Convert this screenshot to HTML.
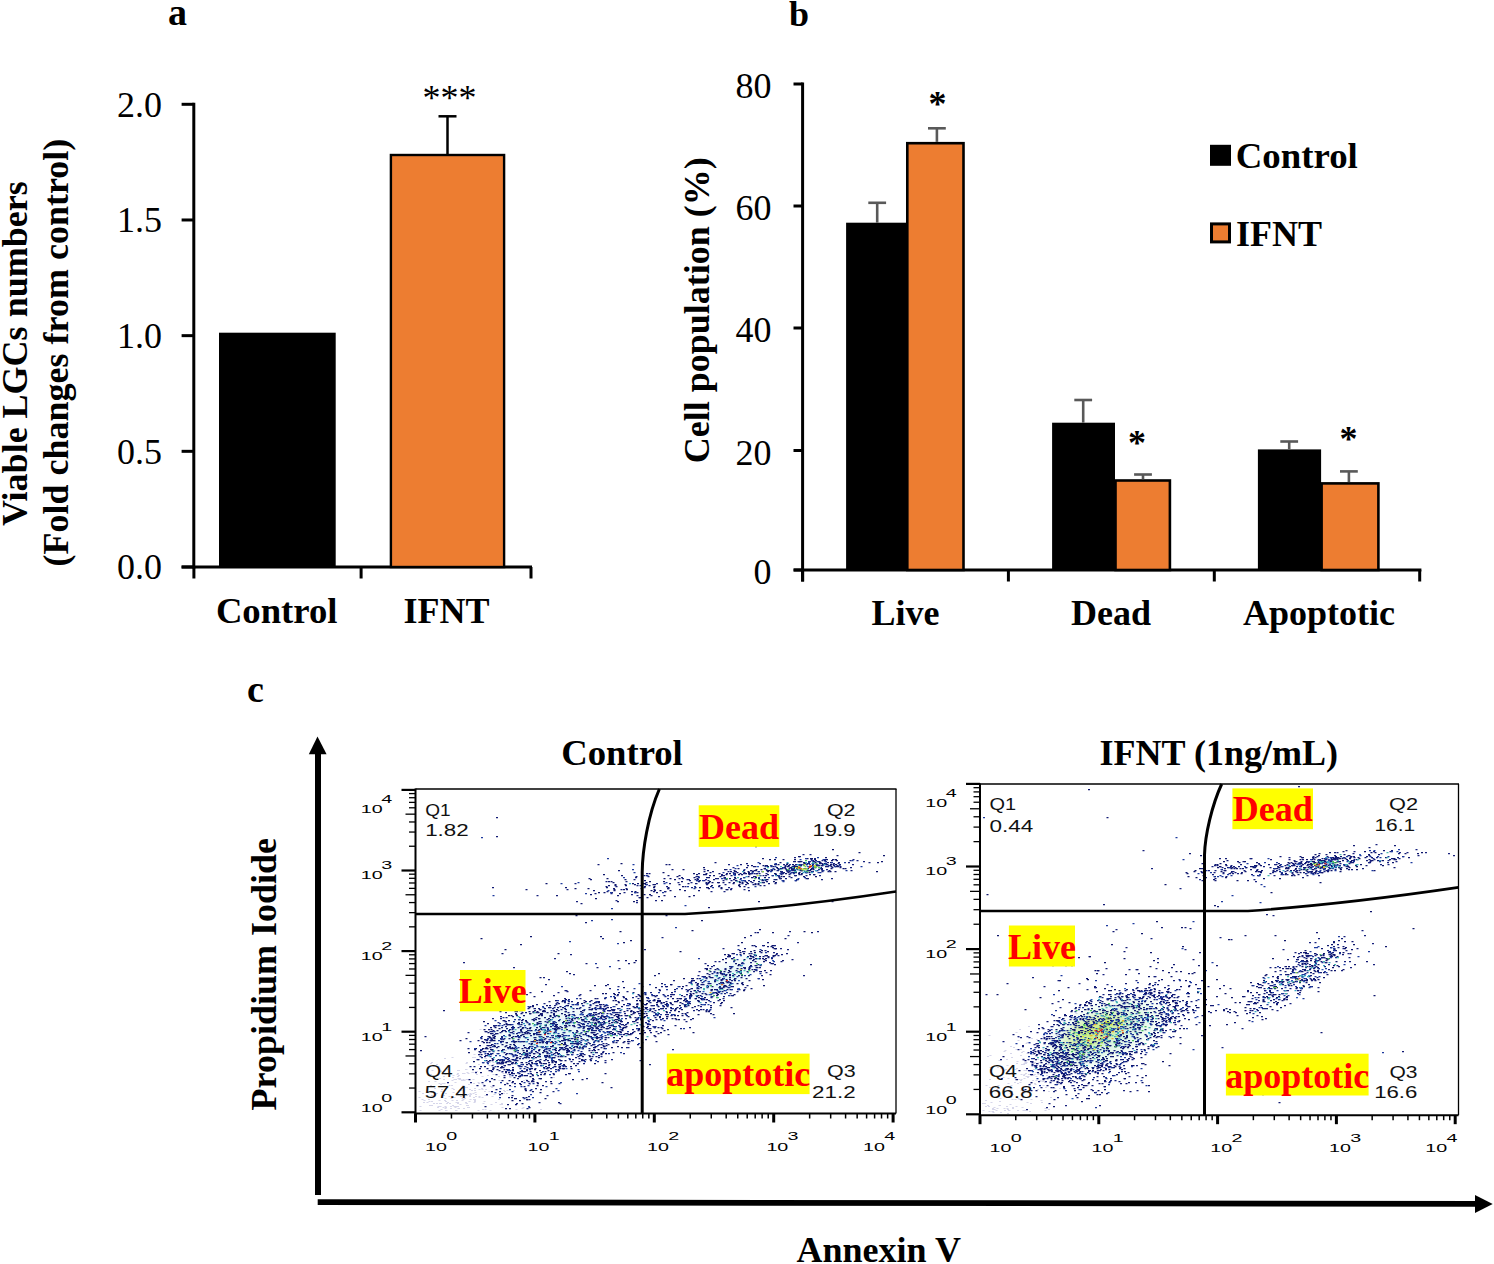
<!DOCTYPE html>
<html><head><meta charset="utf-8"><style>
html,body{margin:0;padding:0;background:#fff;width:1494px;height:1264px;overflow:hidden}
svg{display:block}
text{white-space:pre}
</style></head><body><svg width="1494" height="1264" viewBox="0 0 1494 1264"><path d="M449 1103.5h2M430 1085.5h2M462.5 1085.5h2M484 1091.5h2M502.5 1073.5h2M475 1094.5h2M457.5 1108.5h2M444.5 1074.5h2M486.5 1049.5h2M522 1097.5h2M478 1083.5h2M436 1103.5h2M437.5 1066.5h2M522.5 1107.5h2M478.5 1097.5h2M418.5 1091.5h2M466.5 1079.5h2M436 1093.5h2M451 1085.5h2M454.5 1082.5h2M445.5 1068.5h2M490.5 1104.5h2M468 1084.5h2M453 1089.5h2M482.5 1084.5h2M487 1038.5h2M423 1102.5h2M461.5 1080.5h2M440 1084.5h2M465 1087.5h2M429 1074.5h2M473 1099.5h2M466.5 1072.5h2M458 1070.5h2M436.5 1075.5h2M459 1089.5h2M440 1103.5h2M428 1081.5h2M472 1057.5h2M440.5 1109.5h2M501 1060.5h2M495 1102.5h2M476 1071.5h2M435.5 1079.5h2M472.5 1093.5h2M474 1100.5h2M466 1103.5h2M498 1076.5h2M431.5 1070.5h2M488.5 1062.5h2M433 1066.5h2M458 1075.5h2M443 1076.5h2M508.5 1053.5h2M488.5 1091.5h2M533.5 1026.5h2M485 1058.5h2M498 1099.5h2M453.5 1097.5h2M469.5 1093.5h2M515.5 1109.5h2M460 1096.5h2M476 1085.5h2M465.5 1063.5h2M488 1080.5h2M457 1073.5h2M463.5 1073.5h2M475 1071.5h2M473 1083.5h2M443.5 1083.5h2M499 1095.5h2M427.5 1068.5h2M434 1088.5h2M498.5 1080.5h2M463 1108.5h2M445 1110.5h2M484.5 1095.5h2M434.5 1066.5h2M431.5 1086.5h2M487 1075.5h2M430 1063.5h2M459 1078.5h2M466 1062.5h2M451.5 1057.5h2M469 1089.5h2M509.5 1077.5h2M452.5 1075.5h2M430 1074.5h2M462.5 1079.5h2M458.5 1079.5h2M477.5 1082.5h2M455 1079.5h2M457 1094.5h2M450.5 1098.5h2M456 1094.5h2M472.5 1072.5h2M457 1076.5h2M474.5 1092.5h2M525.5 1071.5h2M484 1081.5h2M513 1028.5h2M481.5 1089.5h2M443 1095.5h2M501 1104.5h2M473 1097.5h2M452.5 1092.5h2M451.5 1088.5h2M436 1064.5h2M474 1100.5h2M499.5 1068.5h2M462 1095.5h2M483 1086.5h2M526.5 1080.5h2M437 1107.5h2M476 1074.5h2M459.5 1079.5h2M436 1075.5h2M438.5 1083.5h2M481.5 1076.5h2M458 1108.5h2M474 1099.5h2M493.5 1094.5h2M481.5 1097.5h2M492.5 1062.5h2M485 1089.5h2M489.5 1110.5h2M522 1063.5h2M488.5 1080.5h2M471.5 1072.5h2M492 1086.5h2M439.5 1070.5h2M492.5 1074.5h2M484 1054.5h2M521.5 1108.5h2M473.5 1102.5h2M428.5 1101.5h2M529 1084.5h2M501 1072.5h2M438 1086.5h2M513 1090.5h2M474 1101.5h2M419.5 1110.5h2M458 1090.5h2M453.5 1079.5h2M516.5 1073.5h2M450 1108.5h2M461 1080.5h2M457.5 1078.5h2M478.5 1096.5h2M504 1091.5h2M484.5 1058.5h2M441.5 1083.5h2M434.5 1081.5h2M474 1088.5h2M444 1058.5h2M455.5 1110.5h2M421.5 1099.5h2M529 1082.5h2M493.5 1059.5h2M441 1089.5h2M501 1103.5h2M505 1050.5h2M456 1100.5h2M456.5 1074.5h2M491.5 1096.5h2M465.5 1079.5h2M467 1107.5h2M470 1094.5h2M525.5 1079.5h2M540 1109.5h2M457 1102.5h2M546 1049.5h2M439 1078.5h2M455.5 1102.5h2M474 1100.5h2M484 1081.5h2M503 1093.5h2M478 1064.5h2M445 1093.5h2M481.5 1062.5h2M478.5 1089.5h2M524 1066.5h2M467.5 1073.5h2M430.5 1092.5h2M509.5 1059.5h2M452 1077.5h2M451.5 1080.5h2M506 1082.5h2M440.5 1091.5h2M491 1087.5h2M451.5 1100.5h2M466 1095.5h2M523 1080.5h2M516 1048.5h2M492.5 1064.5h2M484.5 1109.5h2M506 1093.5h2M467.5 1094.5h2M469 1096.5h2M443 1079.5h2M471 1090.5h2M465 1069.5h2M553 1077.5h2M462 1073.5h2M507 1074.5h2M510.5 1086.5h2M463.5 1080.5h2M506.5 1090.5h2M474 1090.5h2M499.5 1104.5h2M431 1062.5h2M503 1090.5h2M465.5 1103.5h2M461.5 1100.5h2M456.5 1102.5h2M488.5 1065.5h2M486 1095.5h2M464 1098.5h2M447 1069.5h2M465.5 1069.5h2M509 1076.5h2M481 1088.5h2M479.5 1029.5h2M466 1087.5h2M432.5 1095.5h2M448.5 1085.5h2M490 1086.5h2M474.5 1092.5h2M440 1071.5h2M423.5 1100.5h2M472.5 1079.5h2M457 1070.5h2M460.5 1090.5h2M474 1057.5h2M473.5 1054.5h2M493.5 1050.5h2M508.5 1073.5h2M469 1095.5h2M498 1093.5h2M439.5 1106.5h2M445.5 1110.5h2M467 1105.5h2M438.5 1100.5h2M428 1099.5h2M448.5 1096.5h2M444 1100.5h2M483.5 1101.5h2M439 1103.5h2M445 1101.5h2M442.5 1107.5h2M467.5 1107.5h2M450 1106.5h2M422 1093.5h2M469.5 1099.5h2M453.5 1106.5h2M475 1096.5h2M447 1102.5h2M456.5 1106.5h2M455 1106.5h2M431 1101.5h2M419.5 1106.5h2M482.5 1103.5h2M462.5 1099.5h2M444.5 1106.5h2M452 1105.5h2M477.5 1110.5h2M444.5 1098.5h2M418.5 1097.5h2M447 1102.5h2M457 1103.5h2M465 1102.5h2M468 1107.5h2M437.5 1106.5h2M461.5 1098.5h2M431 1095.5h2M433 1103.5h2M455 1110.5h2M468.5 1101.5h2M454.5 1107.5h2M438.5 1110.5h2M474 1101.5h2M445 1107.5h2M431 1105.5h2M429 1105.5h2M446 1103.5h2M442 1093.5h2M501.5 1107.5h2M457 1106.5h2M482 1109.5h2M466 1105.5h2M444.5 1108.5h2M459.5 1104.5h2M426.5 1102.5h2M448.5 1096.5h2M430 1105.5h2" stroke="#d6d6ea" stroke-width="1.2" fill="none"/><path d="M1050.5 1066.5h2M1000 1078.5h2M1061.5 1070.5h2M1055 1048.5h2M1015.5 1049.5h2M1034.5 1084.5h2M1030.5 1061.5h2M1031.5 1070.5h2M1055 1071.5h2M1020.5 1090.5h2M988.5 1035.5h2M1020 1055.5h2M1083 1071.5h2M1013 1047.5h2M1010.5 1085.5h2M1008 1071.5h2M1030.5 1054.5h2M1058 1057.5h2M1004.5 1050.5h2M1037.5 1074.5h2M1042.5 1085.5h2M1034 1044.5h2M1031 1058.5h2M1062.5 1078.5h2M1049 1069.5h2M1014.5 1069.5h2M1096 1070.5h2M989.5 1055.5h2M998.5 1076.5h2M1056 1062.5h2M1033.5 1063.5h2M1029.5 1083.5h2M1026.5 1042.5h2M1047 1064.5h2M1016.5 1061.5h2M1022.5 1093.5h2M1012 1094.5h2M1006.5 1065.5h2M1006 1059.5h2M1057.5 1059.5h2M1032.5 1054.5h2M1040.5 1056.5h2M1020 1080.5h2M1053 1053.5h2M1004 1110.5h2M1042 1066.5h2M1044 1055.5h2M1011 1057.5h2M1003.5 1070.5h2M1049 1081.5h2M1017 1083.5h2M1017.5 1098.5h2M1037 1089.5h2M1007.5 1087.5h2M1023.5 1060.5h2M1077.5 1050.5h2M1020.5 1074.5h2M1042.5 1036.5h2M1007.5 1083.5h2M1026.5 1053.5h2M1023.5 1070.5h2M1023.5 1063.5h2M1051.5 1071.5h2M1095.5 1091.5h2M1021 1052.5h2M1061 1058.5h2M1050 1097.5h2M1042.5 1049.5h2M1018 1070.5h2M1013 1074.5h2M1027.5 1076.5h2M1003.5 1051.5h2M1032 1074.5h2M1009 1087.5h2M1044.5 1108.5h2M1034 1067.5h2M1070 1045.5h2M1071.5 1057.5h2M1028 1026.5h2M1020.5 1079.5h2M1053.5 1088.5h2M1049.5 1062.5h2M1025.5 1070.5h2M1009 1073.5h2M989 1087.5h2M1022.5 1051.5h2M1084 1076.5h2M1023 1064.5h2M1037 1059.5h2M1048 1091.5h2M1042 1066.5h2M1046.5 1057.5h2M992.5 1112.5h2M1028 1074.5h2M1044.5 1081.5h2M1025.5 1062.5h2M1049.5 1033.5h2M1023 1075.5h2M1060 1083.5h2M1069.5 1048.5h2M1027 1077.5h2M1035.5 1080.5h2M1025.5 1076.5h2M1049.5 1064.5h2M985 1100.5h2M997.5 1085.5h2M1021 1064.5h2M1057.5 1078.5h2M1049.5 1077.5h2M1014 1082.5h2M1073 1067.5h2M1019 1029.5h2M1018 1079.5h2M1044 1066.5h2M1051 1029.5h2M1041 1102.5h2M997.5 1088.5h2M1016 1068.5h2M1031.5 1063.5h2M1055 1066.5h2M1007.5 1078.5h2M1028.5 1043.5h2M1001.5 1074.5h2M1035.5 1076.5h2M1003.5 1090.5h2M1025 1087.5h2M989.5 1067.5h2M1005 1069.5h2M996 1089.5h2M1061.5 1063.5h2M1054.5 1047.5h2M1046 1075.5h2M1023.5 1074.5h2M1069.5 1066.5h2M1025 1073.5h2M1037.5 1054.5h2M1051.5 1042.5h2M1037 1069.5h2M1063 1048.5h2M1020 1049.5h2M1025 1063.5h2M1039 1081.5h2M1011.5 1099.5h2M1011 1091.5h2M1057.5 1084.5h2M989 1079.5h2M1057.5 1058.5h2M1033 1053.5h2M1055.5 1048.5h2M1059 1088.5h2M1048.5 1072.5h2M1076.5 1065.5h2M1044.5 1110.5h2M1040.5 1100.5h2M1054 1047.5h2M1022 1091.5h2M1054.5 1049.5h2M1054 1079.5h2M1010 1046.5h2M997 1067.5h2M1087 1085.5h2M987 1056.5h2M1010 1097.5h2M1058.5 1079.5h2M1044 1068.5h2M1041.5 1081.5h2M1048 1109.5h2M1023.5 1078.5h2M1008.5 1074.5h2M1022 1097.5h2M1050 1077.5h2M1051 1044.5h2M1060.5 1063.5h2M1032.5 1075.5h2M1038.5 1052.5h2M1024.5 1062.5h2M1067 1066.5h2M1038.5 1073.5h2M1018 1037.5h2M1034 1062.5h2M1035.5 1072.5h2M1030 1048.5h2M1033 1065.5h2M1034 1074.5h2M1036 1039.5h2M1038.5 1062.5h2M1075.5 1013.5h2M1039.5 1080.5h2M1016 1063.5h2M1010 1053.5h2M1031 1038.5h2M1025.5 1043.5h2M1045 1087.5h2M1022.5 1058.5h2M1024.5 1062.5h2M1047.5 1057.5h2M1056 1035.5h2M1044.5 1078.5h2M1015.5 1032.5h2M1009.5 1093.5h2M1000.5 1068.5h2M1033 1069.5h2M1027.5 1076.5h2M1034 1083.5h2M998.5 1060.5h2M1032 1080.5h2M985.5 1085.5h2M1002.5 1077.5h2M1011 1072.5h2M1051.5 1081.5h2M1019.5 1082.5h2M1016 1097.5h2M1042.5 1081.5h2M1017.5 1040.5h2M1052 1060.5h2M1044 1082.5h2M1003.5 1108.5h2M1030 1103.5h2M991.5 1111.5h2M1000 1112.5h2M1026.5 1102.5h2M1006.5 1108.5h2M1006 1106.5h2M992 1111.5h2M985 1106.5h2M1012 1107.5h2M1012 1108.5h2M1017 1110.5h2M1022 1097.5h2M1008 1110.5h2M995.5 1110.5h2M988.5 1111.5h2M992 1109.5h2M998.5 1105.5h2M984 1103.5h2M1021.5 1107.5h2M999 1101.5h2M990.5 1102.5h2M1022.5 1110.5h2M1014.5 1099.5h2M987 1105.5h2M999.5 1098.5h2M1008.5 1110.5h2M1018.5 1099.5h2M993.5 1107.5h2M1030.5 1099.5h2M1024 1110.5h2M996.5 1108.5h2M982 1103.5h2M982.5 1110.5h2M1007 1113.5h2M1029 1111.5h2M993.5 1109.5h2M988 1106.5h2M1009.5 1104.5h2M992 1108.5h2M1015.5 1106.5h2M999 1105.5h2M1007 1109.5h2" stroke="#d6d6ea" stroke-width="1.2" fill="none"/><radialGradient id="hz1"><stop offset="0" stop-color="#b8ecc8" stop-opacity="0.8"/><stop offset="0.6" stop-color="#b8ecc8" stop-opacity="0.4"/><stop offset="1" stop-color="#b8ecc8" stop-opacity="0"/></radialGradient><ellipse cx="1103" cy="1033" rx="70" ry="32" transform="rotate(-23 1103 1033)" fill="url(#hz1)"/><radialGradient id="hz2"><stop offset="0" stop-color="#d0ec70" stop-opacity="0.9"/><stop offset="0.6" stop-color="#d0ec70" stop-opacity="0.45"/><stop offset="1" stop-color="#d0ec70" stop-opacity="0"/></radialGradient><ellipse cx="1095" cy="1031" rx="40" ry="18" transform="rotate(-23 1095 1031)" fill="url(#hz2)"/><radialGradient id="hz3"><stop offset="0" stop-color="#c8eef0" stop-opacity="0.6"/><stop offset="0.6" stop-color="#c8eef0" stop-opacity="0.3"/><stop offset="1" stop-color="#c8eef0" stop-opacity="0"/></radialGradient><ellipse cx="550" cy="1033" rx="70" ry="30" transform="rotate(-12 550 1033)" fill="url(#hz3)"/><radialGradient id="hz4"><stop offset="0" stop-color="#c8eef0" stop-opacity="0.5"/><stop offset="0.6" stop-color="#c8eef0" stop-opacity="0.25"/><stop offset="1" stop-color="#c8eef0" stop-opacity="0"/></radialGradient><ellipse cx="726" cy="977" rx="50" ry="16" transform="rotate(-30 726 977)" fill="url(#hz4)"/><path d="M538 1018.5h2M533 1049.5h2M604.5 1005.5h2M526 1050.5h2M591.5 1022.5h2M507.5 1064.5h2M518.5 1032.5h2M537 1056.5h2M578.5 1027.5h2M534 1008.5h2M589.5 1059.5h2M605 1018.5h2M424.5 1036.5h2M612.5 1000.5h2M552.5 1073.5h2M551.5 1046.5h2M595.5 1005.5h2M492.5 1068.5h2M603 1027.5h2M616.5 1019.5h2M561 1047.5h2M600.5 1037.5h2M565 1048.5h2M561.5 1068.5h2M511 1027.5h2M490.5 1039.5h2M505.5 1017.5h2M474 1049.5h2M578.5 1008.5h2M487 1053.5h2M547 1067.5h2M550 1019.5h2M545.5 1046.5h2M484 1056.5h2M590.5 1032.5h2M525 1037.5h2M529.5 1027.5h2M559 1041.5h2M505 1021.5h2M593 1019.5h2M563.5 1039.5h2M603 1009.5h2M593 1049.5h2M506 1053.5h2M484.5 1039.5h2M536.5 1023.5h2M612 1032.5h2M574 1039.5h2M503.5 1065.5h2M545 1063.5h2M545 1057.5h2M611.5 1009.5h2M480.5 1038.5h2M565.5 1026.5h2M484 1039.5h2M537.5 1060.5h2M499.5 1011.5h2M501 1050.5h2M559.5 1006.5h2M565 1009.5h2M589.5 1022.5h2M548.5 1055.5h2M553 1023.5h2M588.5 1009.5h2M491.5 1049.5h2M495 1033.5h2M544 1032.5h2M584 1021.5h2M589 1015.5h2M615.5 1021.5h2M566.5 1020.5h2M595.5 1056.5h2M605 1008.5h2M544 1073.5h2M525 1057.5h2M597 1037.5h2M491.5 1033.5h2M582 1053.5h2M547.5 1070.5h2M532 1019.5h2M491.5 1060.5h2M490 1040.5h2M543 1050.5h2M507.5 1024.5h2M519.5 1071.5h2M594 1063.5h2M621.5 1030.5h2M604.5 1016.5h2M576 1021.5h2M546 1005.5h2M589.5 1005.5h2M595 1014.5h2M595.5 1019.5h2M576.5 1004.5h2M492.5 1030.5h2M500.5 1039.5h2M616 1019.5h2M557.5 1056.5h2M617 1014.5h2M517.5 1041.5h2M546 1043.5h2M503.5 1020.5h2M623 997.5h2M491.5 1053.5h2M578.5 995.5h2M583.5 1000.5h2M526 1051.5h2M603 1046.5h2M540.5 1036.5h2M617 1016.5h2M556 1015.5h2M579 1047.5h2M554 1038.5h2M588.5 1050.5h2M491 1091.5h2M477.5 1059.5h2M541.5 1047.5h2M493 1037.5h2M621 1029.5h2M612.5 1042.5h2M502 1049.5h2M542.5 1041.5h2M554 1043.5h2M515 1036.5h2M533 1034.5h2M603.5 1006.5h2M585 1033.5h2M544.5 1038.5h2M493.5 1038.5h2M534.5 1037.5h2M617 1017.5h2M539 1042.5h2M541.5 1027.5h2M622.5 1042.5h2M549.5 1007.5h2M492 1009.5h2M496.5 1030.5h2M535 1061.5h2M553 995.5h2M552 1054.5h2M610.5 1087.5h2M541 991.5h2M548.5 1039.5h2M467.5 1048.5h2M604.5 1073.5h2M611 1009.5h2M590.5 1000.5h2M617.5 1014.5h2M582.5 1026.5h2M563.5 1000.5h2M511 1072.5h2M564.5 990.5h2M548 1062.5h2M534 1010.5h2M580.5 1023.5h2M608.5 1023.5h2M505.5 1042.5h2M521 1081.5h2M553 1057.5h2M618.5 1015.5h2M570 1006.5h2M570 1066.5h2M533 1053.5h2M497 1066.5h2M508 1030.5h2M505 1058.5h2M546.5 1052.5h2M539.5 1009.5h2M487.5 1054.5h2M592.5 1003.5h2M468.5 1079.5h2M612.5 1009.5h2M577 1063.5h2M567.5 1003.5h2M586 1015.5h2M546 1036.5h2M542 1042.5h2M535 1019.5h2M594.5 1007.5h2M544.5 1025.5h2M606.5 1007.5h2M557 1007.5h2M536.5 1022.5h2M615 1021.5h2M616.5 1012.5h2M553.5 1011.5h2M553.5 1007.5h2M560 1056.5h2M580 1017.5h2M572 1025.5h2M524.5 1033.5h2M595.5 1028.5h2M591.5 1050.5h2M558.5 1066.5h2M524.5 1055.5h2M595 1009.5h2M487 1023.5h2M555 1052.5h2M569 1073.5h2M531.5 1019.5h2M557.5 1027.5h2M564 1014.5h2M492 1035.5h2M561 1043.5h2M655 1013.5h2M594 1023.5h2M555 1025.5h2M565.5 1005.5h2M520.5 1031.5h2M573 1025.5h2M564.5 1056.5h2M557 1028.5h2M505 1054.5h2M531.5 1046.5h2M582.5 1039.5h2M590 1009.5h2M604 1032.5h2M556.5 1002.5h2M577.5 1056.5h2M482.5 1062.5h2M598 1001.5h2M577 1037.5h2M561 1040.5h2M559 1047.5h2M551.5 1062.5h2M620.5 1024.5h2M601 1013.5h2M556 1052.5h2M481 1057.5h2M532 1041.5h2M565.5 1039.5h2M552 1017.5h2M577 1002.5h2M521.5 1075.5h2M559 1044.5h2M459.5 1040.5h2M576 1008.5h2M543.5 1039.5h2M479 1045.5h2M602.5 1004.5h2M565 1025.5h2M520 1030.5h2M581.5 1012.5h2M598 1002.5h2M558 1050.5h2M571 1038.5h2M548 1067.5h2M594.5 1034.5h2M508.5 1053.5h2M588 1021.5h2M518.5 1019.5h2M516 1033.5h2M600.5 1029.5h2M523 1015.5h2M550.5 1012.5h2M531 1068.5h2M532.5 1058.5h2M564.5 1011.5h2M547 1033.5h2M497.5 1059.5h2M564 1001.5h2M603.5 1017.5h2M508 1020.5h2M588.5 1007.5h2M528 1057.5h2M600.5 1053.5h2M536 1027.5h2M566 1029.5h2M557.5 1069.5h2M500 1016.5h2M573 1063.5h2M574 1018.5h2M622 1024.5h2M613 1020.5h2M533.5 1008.5h2M557.5 1036.5h2M486 1042.5h2M541 1014.5h2M543.5 1027.5h2M600 1004.5h2M532.5 1011.5h2M559.5 1060.5h2M549 1048.5h2M534.5 1019.5h2M558 1003.5h2M488 1045.5h2M534 1024.5h2M590.5 1019.5h2M550 1023.5h2M524 1032.5h2M582 1056.5h2M505 1062.5h2M599.5 1039.5h2M502.5 1062.5h2M547 1060.5h2M529 1046.5h2M512.5 1036.5h2M521.5 1048.5h2M548.5 1064.5h2M572.5 1011.5h2M538 1050.5h2M575 1057.5h2M591.5 1027.5h2M611 1022.5h2M517.5 1023.5h2M521 1010.5h2M568 1050.5h2M598.5 1044.5h2M561.5 1056.5h2M488.5 1036.5h2M508.5 1035.5h2M557.5 1054.5h2M561 1027.5h2M519 1076.5h2M571.5 1038.5h2M535 1057.5h2M490.5 1038.5h2M556 1009.5h2M540.5 1063.5h2M528 1048.5h2M607 984.5h2M523.5 1057.5h2M576 1030.5h2M568 1035.5h2M420 1050.5h2M595 1024.5h2M617.5 1001.5h2M617.5 1017.5h2M590 1036.5h2M585.5 1043.5h2M587.5 1029.5h2M613 1028.5h2M601.5 1013.5h2M660.5 1008.5h2M658 1013.5h2M609.5 1033.5h2M586.5 1016.5h2M617 994.5h2M582 1005.5h2M639 1033.5h2M611.5 1024.5h2M607 1007.5h2M593 1025.5h2M636.5 1004.5h2M612 1025.5h2M614 1012.5h2M603.5 1023.5h2M617.5 1033.5h2M627 1003.5h2M626.5 1010.5h2M592.5 1044.5h2M608.5 1010.5h2M640 1018.5h2M606.5 1005.5h2M599.5 1023.5h2M536 1024.5h2M574.5 1043.5h2M625 998.5h2M618 1031.5h2M614 994.5h2M643 1017.5h2M645 1007.5h2M589 1028.5h2M571.5 1020.5h2M606 1028.5h2M615.5 1042.5h2M670.5 984.5h2M597.5 1026.5h2M646 997.5h2M562 1022.5h2M580 1011.5h2M618 1018.5h2M582.5 1034.5h2M592 1039.5h2M583.5 1016.5h2M600 1035.5h2M600.5 1047.5h2M606.5 1013.5h2M599.5 1007.5h2M614 1029.5h2M641.5 1025.5h2M592 1044.5h2M585.5 1044.5h2M604 998.5h2M647 1017.5h2M592 1032.5h2M638.5 1008.5h2M582.5 1046.5h2M628.5 1008.5h2M567 1039.5h2M667 1014.5h2M623 1004.5h2M602.5 1016.5h2M622.5 996.5h2M681 1009.5h2M605 1053.5h2M634.5 1007.5h2M639.5 1024.5h2M595 1012.5h2M593 1012.5h2M636.5 1003.5h2M594 1047.5h2M651.5 1005.5h2M632 1032.5h2M627.5 1043.5h2M575.5 1017.5h2M618 1002.5h2M609 1027.5h2M631 1040.5h2M568 1022.5h2M614 997.5h2M586.5 1040.5h2M649 1030.5h2M646 1015.5h2M576.5 1044.5h2M597 1019.5h2M599.5 1024.5h2M609 1031.5h2M624.5 1015.5h2M639 1013.5h2M636.5 1011.5h2M573.5 1035.5h2M666 1003.5h2M581.5 1014.5h2M495.5 1089.5h2M531 1081.5h2M525.5 1062.5h2M492 1069.5h2M485.5 1060.5h2M515.5 1058.5h2M536 1063.5h2M559 1066.5h2M514.5 1051.5h2M539 1061.5h2M542 1085.5h2M503.5 1077.5h2M521.5 1103.5h2M532 1078.5h2M529 1055.5h2M491 1078.5h2M550.5 1083.5h2M546.5 1056.5h2M520 1041.5h2M511.5 1095.5h2M526 1075.5h2M545 1066.5h2M479 1068.5h2M491.5 1065.5h2M476.5 1085.5h2M531 1043.5h2M590 1060.5h2M500.5 1063.5h2M575 1065.5h2M536.5 1052.5h2M526 1056.5h2M543.5 1074.5h2M523 1045.5h2M522.5 1097.5h2M519 1053.5h2M485 1055.5h2M505.5 1023.5h2M505.5 1045.5h2M500.5 1062.5h2M486 1094.5h2M496.5 1063.5h2M509 1074.5h2M532.5 1079.5h2M507 1059.5h2M511.5 1082.5h2M537 1083.5h2M499 1060.5h2M563.5 1049.5h2M515 1104.5h2M536.5 1085.5h2M492.5 1085.5h2M517.5 1065.5h2M508.5 1080.5h2M550.5 1077.5h2M551.5 1057.5h2M507 1104.5h2M507 1047.5h2M489 1081.5h2M514.5 1049.5h2M547.5 1048.5h2M528 1047.5h2M526.5 1099.5h2M490 1070.5h2M514.5 1047.5h2M524.5 1089.5h2M540 1074.5h2M503 1060.5h2M570.5 1068.5h2M520 1084.5h2M532 1091.5h2M514.5 1063.5h2M546.5 1068.5h2M525 1090.5h2M526 1080.5h2M532.5 1081.5h2M486.5 1068.5h2M717.5 1000.5h2M649.5 1009.5h2M639.5 1060.5h2M654.5 1036.5h2M615 1000.5h2M625 1024.5h2M659 1001.5h2M662.5 994.5h2M698 997.5h2M661.5 1028.5h2M619.5 1019.5h2M666.5 1006.5h2M662 1018.5h2M671 992.5h2M633.5 1031.5h2M626.5 991.5h2M655.5 1031.5h2M638 1013.5h2M645 1008.5h2M621 1047.5h2M662 1025.5h2M659 990.5h2M653.5 1027.5h2M665.5 1001.5h2M642 1003.5h2M685.5 1021.5h2M655.5 1019.5h2M652 1020.5h2M655.5 1041.5h2M630 1033.5h2M674 1010.5h2M685 1001.5h2M701.5 993.5h2M674.5 1025.5h2M660.5 1027.5h2M671.5 1018.5h2M651.5 1011.5h2M632.5 1006.5h2M649.5 1019.5h2M635 1020.5h2M666 1018.5h2M647.5 998.5h2M666.5 1016.5h2M653 1015.5h2M672 1049.5h2M750 951.5h2M752.5 957.5h2M696.5 978.5h2M710 994.5h2M727 956.5h2M734 978.5h2M775.5 954.5h2M760.5 952.5h2M676.5 1007.5h2M727.5 954.5h2M720.5 979.5h2M736.5 991.5h2M764 970.5h2M674.5 1009.5h2M723 1000.5h2M689 1003.5h2M755.5 965.5h2M696.5 988.5h2M729 971.5h2M697 983.5h2M655 1014.5h2M707.5 983.5h2M704 976.5h2M686.5 1012.5h2M702.5 998.5h2M734 980.5h2M690.5 988.5h2M713 1002.5h2M707 965.5h2M721 988.5h2M762.5 956.5h2M743.5 951.5h2M759 951.5h2M769.5 974.5h2M721.5 974.5h2M759.5 965.5h2M709.5 977.5h2M748.5 953.5h2M681.5 1003.5h2M748.5 967.5h2M700 980.5h2M711.5 986.5h2M689 1027.5h2M743 967.5h2M732 995.5h2M712.5 1014.5h2M755 958.5h2M772.5 945.5h2M741 983.5h2M757.5 978.5h2M752 960.5h2M729 975.5h2M762 979.5h2M714 992.5h2M700 987.5h2M720.5 980.5h2M687.5 1002.5h2M676.5 998.5h2M731.5 953.5h2M782 960.5h2M749 958.5h2M696 996.5h2M698.5 991.5h2M718 992.5h2M720 971.5h2M781 954.5h2M724 954.5h2M810 964.5h2M772 932.5h2M730.5 986.5h2M739.5 954.5h2M720 973.5h2M722.5 987.5h2M736.5 968.5h2M725 958.5h2M709.5 983.5h2M786 953.5h2M717 994.5h2M744 948.5h2M679 1008.5h2M691 988.5h2M733.5 960.5h2M733.5 974.5h2M686 1000.5h2M727.5 972.5h2M734.5 978.5h2M766 955.5h2M716 993.5h2M770.5 946.5h2M755 946.5h2M731.5 958.5h2M750.5 988.5h2M724.5 969.5h2M723 986.5h2M773.5 948.5h2M716 989.5h2M714 989.5h2M702.5 1009.5h2M748 975.5h2M681.5 1013.5h2M719.5 1005.5h2M710.5 989.5h2M741.5 982.5h2M683 1000.5h2M729 984.5h2M697.5 988.5h2M689.5 993.5h2M702.5 984.5h2M711.5 977.5h2M721.5 991.5h2M700.5 984.5h2M711.5 973.5h2M686 994.5h2M710 1013.5h2M746.5 985.5h2M764.5 950.5h2M732 986.5h2M767 942.5h2M667.5 1034.5h2M730.5 1007.5h2M774 964.5h2M723 976.5h2M763 961.5h2M774 955.5h2M762 958.5h2M724.5 985.5h2M740 970.5h2M763 945.5h2M754.5 932.5h2M729 955.5h2M709.5 971.5h2M738 975.5h2M758.5 958.5h2M662.5 1006.5h2M764.5 955.5h2M759 929.5h2M697.5 1005.5h2M726.5 989.5h2M625.5 888.5h2M635.5 876.5h2M597.5 864.5h2M588.5 878.5h2M606 887.5h2M654 884.5h2M556 895.5h2M593 890.5h2M590 894.5h2M590 879.5h2M594.5 893.5h2M610.5 881.5h2M615.5 886.5h2M580.5 903.5h2M520 944.5h2M654 975.5h2M525 1020.5h2M520.5 991.5h2M617.5 960.5h2M443 1010.5h2M585.5 963.5h2M575.5 915.5h2M585 922.5h2M494 1036.5h2M628 963.5h2M701 920.5h2M596.5 967.5h2M566 971.5h2M558 1016.5h2M625.5 999.5h2M547 1029.5h2M714.5 862.5h2M736.5 872.5h2M793 868.5h2M782.5 859.5h2M730 889.5h2M755 877.5h2M737.5 868.5h2M719.5 876.5h2M793 869.5h2M789.5 867.5h2M724 877.5h2M738.5 881.5h2M850 867.5h2M812 868.5h2M780 868.5h2M750.5 870.5h2M826 864.5h2M807 878.5h2M755.5 869.5h2M743 870.5h2M764.5 879.5h2M759.5 875.5h2M766 870.5h2M733.5 870.5h2M780 878.5h2M751 873.5h2M743.5 872.5h2M818.5 867.5h2M739 882.5h2M722.5 882.5h2M743.5 886.5h2M839 864.5h2M830.5 868.5h2M669 883.5h2M812.5 861.5h2M814.5 862.5h2M706 887.5h2M723.5 877.5h2M723 875.5h2M729 878.5h2M698 890.5h2M679 889.5h2M762 858.5h2M827 866.5h2M693 895.5h2M765 875.5h2M711.5 882.5h2M698 873.5h2M752.5 884.5h2M759 863.5h2M838 862.5h2M705 874.5h2M804 871.5h2M711 885.5h2M770.5 865.5h2M766 865.5h2M732.5 883.5h2M785 878.5h2M751 865.5h2M741 874.5h2M765 879.5h2M782.5 880.5h2M697 879.5h2M734.5 878.5h2M813.5 861.5h2M813 874.5h2M836 860.5h2M758 878.5h2M766 881.5h2M706 877.5h2M806.5 863.5h2M758.5 873.5h2M763.5 885.5h2M709 875.5h2M761.5 880.5h2M772.5 866.5h2M695.5 883.5h2M819 863.5h2M763 882.5h2M836.5 855.5h2M830 862.5h2M755.5 873.5h2M677.5 882.5h2M753 866.5h2M757.5 871.5h2M735 871.5h2M881 861.5h2M793.5 869.5h2M762 880.5h2M786 864.5h2M706 883.5h2M775 864.5h2M698 881.5h2M768 883.5h2M696 880.5h2M733 879.5h2M793 867.5h2M695 883.5h2M738 874.5h2M740 864.5h2M747.5 876.5h2M787.5 870.5h2M726.5 889.5h2M828.5 870.5h2M746 867.5h2M770.5 870.5h2M754.5 866.5h2M694.5 879.5h2M720.5 887.5h2M696.5 878.5h2M787 866.5h2M728.5 882.5h2M748.5 874.5h2M715 878.5h2M764 868.5h2M726 873.5h2M827 862.5h2M757.5 884.5h2M747 865.5h2M753 880.5h2M689 880.5h2M810.5 859.5h2M746 863.5h2M751.5 882.5h2M709.5 872.5h2M839.5 866.5h2M767 871.5h2M800.5 874.5h2M793 861.5h2M800.5 864.5h2M780 871.5h2M800.5 861.5h2M799 865.5h2M817.5 865.5h2M829.5 865.5h2M822.5 864.5h2M795 875.5h2M819.5 867.5h2M787.5 872.5h2M816 865.5h2M824 860.5h2M815.5 864.5h2M777.5 868.5h2M832.5 864.5h2M815.5 870.5h2M844.5 868.5h2M839.5 867.5h2M795.5 864.5h2M791 869.5h2M787.5 866.5h2M788.5 874.5h2M821 869.5h2M821 868.5h2M786 870.5h2M821.5 870.5h2M798 861.5h2M827.5 871.5h2M825 866.5h2M825 857.5h2M805.5 875.5h2M790.5 877.5h2M817 865.5h2M804 863.5h2M821.5 865.5h2M809 870.5h2M788.5 871.5h2M776.5 875.5h2M794 861.5h2M808 863.5h2M605.5 886.5h2M634.5 891.5h2M645.5 882.5h2M674 896.5h2M654 890.5h2M640.5 888.5h2M653 891.5h2M608 885.5h2M663.5 878.5h2M617 895.5h2M646 873.5h2M650.5 895.5h2M648.5 873.5h2M661 900.5h2M671.5 869.5h2M608 881.5h2M644 886.5h2M664.5 891.5h2M646.5 897.5h2M682.5 869.5h2M667.5 888.5h2M626 889.5h2M606.5 891.5h2M613.5 890.5h2M634 884.5h2M613 888.5h2M638.5 897.5h2M665.5 864.5h2M648.5 885.5h2M625 885.5h2M614.5 885.5h2M653 887.5h2M618 870.5h2M646 875.5h2M642.5 883.5h2M637 883.5h2M700 1009.5h2M600 936.5h2M482.5 970.5h2M625 960.5h2M496 836.5h2M492 887.5h2M525.5 889.5h2M501.5 953.5h2M505 1072.5h2M757 932.5h2M496 817.5h2M630 940.5h2" stroke="#121a74" stroke-width="1.25" fill="none"/><path d="M621 1021.5h2M610 1007.5h2M589 1043.5h2M568.5 1025.5h2M589.5 1025.5h2M564 1043.5h2M593.5 1012.5h2M516 1015.5h2M533 1020.5h2M527.5 1032.5h2M593.5 1032.5h2M565 1074.5h2M593 1030.5h2M598 1055.5h2M585 1031.5h2M518 1023.5h2M505 1026.5h2M501 1036.5h2M601 1015.5h2M501 1066.5h2M607.5 1010.5h2M564.5 1027.5h2M489.5 1040.5h2M493 1025.5h2M501.5 1061.5h2M524.5 1054.5h2M512.5 1031.5h2M535.5 1017.5h2M578.5 1058.5h2M600.5 1018.5h2M511.5 1063.5h2M509 1029.5h2M571 1001.5h2M589.5 990.5h2M497.5 1022.5h2M526 1069.5h2M541.5 1042.5h2M589.5 1014.5h2M582 1019.5h2M529.5 1006.5h2M577.5 1022.5h2M509 1046.5h2M536.5 1042.5h2M600.5 1054.5h2M485.5 1040.5h2M548 979.5h2M521.5 1012.5h2M506.5 1024.5h2M553 1013.5h2M523 1036.5h2M588 1036.5h2M530 1035.5h2M555.5 1003.5h2M447 1082.5h2M567 1049.5h2M489.5 1031.5h2M517.5 1027.5h2M522.5 1053.5h2M544 1011.5h2M470 1082.5h2M467.5 1032.5h2M555.5 1004.5h2M512 1067.5h2M552 1008.5h2M511 1032.5h2M498 1062.5h2M536 1040.5h2M545.5 1048.5h2M604.5 1060.5h2M558.5 1059.5h2M552 1037.5h2M523.5 1068.5h2M526.5 1022.5h2M621.5 1000.5h2M500 1063.5h2M524 1071.5h2M545.5 1051.5h2M595.5 1027.5h2M594.5 1026.5h2M538 1008.5h2M514.5 1011.5h2M577 1044.5h2M502 1041.5h2M555 1062.5h2M535 1051.5h2M611 1059.5h2M580 1054.5h2M576.5 1063.5h2M602 1052.5h2M517.5 1039.5h2M541 1013.5h2M535.5 1012.5h2M498.5 1070.5h2M543.5 1060.5h2M490 1054.5h2M558 1053.5h2M530.5 1052.5h2M563 1068.5h2M539 1054.5h2M545 1046.5h2M604.5 1062.5h2M543.5 1029.5h2M504.5 1021.5h2M511.5 1001.5h2M554.5 1028.5h2M617.5 986.5h2M549.5 1016.5h2M558 1059.5h2M583 1063.5h2M539 1070.5h2M548 1007.5h2M612.5 1041.5h2M649 1064.5h2M530.5 1066.5h2M512.5 1073.5h2M567.5 1054.5h2M595 1030.5h2M508 1072.5h2M509 1064.5h2M560.5 1009.5h2M519 1010.5h2M518.5 1037.5h2M501 1037.5h2M565.5 990.5h2M586 1078.5h2M579.5 1007.5h2M536.5 1060.5h2M526.5 1055.5h2M567.5 1012.5h2M596 1027.5h2M613.5 1009.5h2M508.5 1060.5h2M594.5 1030.5h2M581 1053.5h2M512 1016.5h2M552 1042.5h2M486 1040.5h2M593 1017.5h2M537.5 1032.5h2M534 1039.5h2M578.5 1022.5h2M513.5 1042.5h2M521.5 1028.5h2M518 1037.5h2M566.5 1045.5h2M569 1047.5h2M492 1018.5h2M546.5 1022.5h2M558 1064.5h2M595.5 1018.5h2M521.5 1034.5h2M533.5 1018.5h2M588.5 1048.5h2M583 1027.5h2M594.5 1022.5h2M481 1036.5h2M492.5 1067.5h2M600.5 1056.5h2M540.5 1014.5h2M592.5 1032.5h2M597 1061.5h2M521 1020.5h2M493.5 1034.5h2M529.5 1071.5h2M548.5 1001.5h2M534.5 1047.5h2M555.5 1027.5h2M497.5 1050.5h2M539 1009.5h2M589 1001.5h2M568 1001.5h2M509.5 1032.5h2M600.5 1044.5h2M501.5 1071.5h2M574.5 1037.5h2M537 1023.5h2M590.5 1058.5h2M520.5 1066.5h2M585.5 1021.5h2M565 1011.5h2M568 999.5h2M595.5 1040.5h2M571 1054.5h2M544 1055.5h2M595.5 1046.5h2M512.5 1059.5h2M565 1046.5h2M620 1020.5h2M572.5 1008.5h2M514 1045.5h2M505 1031.5h2M516.5 1057.5h2M564 998.5h2M602.5 1051.5h2M569 1059.5h2M487 1055.5h2M530.5 1041.5h2M537.5 1012.5h2M579 1025.5h2M496 1047.5h2M516 1011.5h2M503.5 1038.5h2M512 1062.5h2M558.5 1067.5h2M517 1035.5h2M565.5 1022.5h2M585 1040.5h2M582.5 1030.5h2M585 1046.5h2M545 1024.5h2M546.5 1031.5h2M597.5 1040.5h2M558.5 1028.5h2M554 1005.5h2M508.5 1034.5h2M534 1041.5h2M543 977.5h2M586 1025.5h2M502 1063.5h2M546.5 1019.5h2M559 1035.5h2M543.5 1003.5h2M559.5 1026.5h2M578.5 1043.5h2M560.5 1048.5h2M581 1060.5h2M546.5 1053.5h2M570.5 1061.5h2M499.5 1032.5h2M583 1060.5h2M539 1031.5h2M581.5 1053.5h2M595.5 1002.5h2M582.5 1028.5h2M619 1023.5h2M501 1027.5h2M509 1047.5h2M534 1047.5h2M504 1065.5h2M527.5 1008.5h2M555 1069.5h2M531.5 1057.5h2M507 1069.5h2M544 1017.5h2M521 1022.5h2M476.5 1059.5h2M607.5 1037.5h2M594.5 1040.5h2M489.5 1037.5h2M552 1035.5h2M603.5 1011.5h2M565 1023.5h2M505.5 1061.5h2M552.5 1022.5h2M529 1013.5h2M604.5 1037.5h2M506 1028.5h2M484.5 1031.5h2M581.5 1020.5h2M563 1038.5h2M510 1024.5h2M484 1051.5h2M562.5 1066.5h2M546.5 1027.5h2M559.5 1103.5h2M588.5 1055.5h2M563 1065.5h2M578.5 1041.5h2M548.5 1057.5h2M511.5 1047.5h2M599.5 1006.5h2M556 1026.5h2M565 1066.5h2M486.5 1039.5h2M533 1056.5h2M491 1039.5h2M579.5 998.5h2M594.5 1018.5h2M534.5 1068.5h2M614 1033.5h2M591.5 1008.5h2M503.5 1024.5h2M625 1018.5h2M530.5 1051.5h2M490 1045.5h2M549 1005.5h2M580 1026.5h2M566.5 991.5h2M548.5 1050.5h2M553 1028.5h2M564 1002.5h2M510.5 1053.5h2M544 1033.5h2M566.5 1051.5h2M614 998.5h2M502.5 1039.5h2M495 1025.5h2M510 997.5h2M544.5 1021.5h2M566.5 1023.5h2M524.5 1047.5h2M587.5 1042.5h2M584.5 1034.5h2M538 1032.5h2M533.5 1037.5h2M488 1029.5h2M603 1021.5h2M563.5 1047.5h2M522 1041.5h2M575 1041.5h2M530.5 1060.5h2M546 1068.5h2M529 1053.5h2M538.5 1036.5h2M581 1059.5h2M513 1073.5h2M566 1045.5h2M615.5 1012.5h2M597.5 1022.5h2M530 1073.5h2M554.5 1024.5h2M492 1059.5h2M491.5 1031.5h2M503 1049.5h2M536 1004.5h2M565.5 1015.5h2M526 994.5h2M504 1030.5h2M505 1012.5h2M515.5 1014.5h2M500 1018.5h2M594.5 1046.5h2M617 1008.5h2M593.5 1044.5h2M508.5 1038.5h2M521 1054.5h2M595 1052.5h2M488.5 1070.5h2M563.5 1037.5h2M610 1025.5h2M527 1039.5h2M632.5 1011.5h2M636.5 1019.5h2M547.5 1021.5h2M652.5 1000.5h2M607.5 1028.5h2M657.5 998.5h2M606 1016.5h2M587.5 1014.5h2M594 1035.5h2M636 1004.5h2M652.5 1026.5h2M600.5 1016.5h2M631 1033.5h2M658.5 989.5h2M595 1037.5h2M608.5 1020.5h2M605.5 1043.5h2M563.5 1032.5h2M583.5 1026.5h2M565.5 1018.5h2M647.5 1028.5h2M641 1007.5h2M576.5 1031.5h2M665 1014.5h2M649 1024.5h2M611 1033.5h2M588.5 1013.5h2M632.5 992.5h2M643 1013.5h2M575 1038.5h2M597.5 1037.5h2M623 1053.5h2M617 1040.5h2M599.5 1004.5h2M653.5 1012.5h2M612 1012.5h2M607 1010.5h2M605 997.5h2M602.5 1045.5h2M576.5 1043.5h2M606.5 1026.5h2M623.5 1025.5h2M601.5 1022.5h2M597.5 1013.5h2M574 1034.5h2M596.5 1033.5h2M598.5 1037.5h2M641.5 1033.5h2M616.5 1031.5h2M564 1042.5h2M582.5 1020.5h2M596 1036.5h2M615.5 1022.5h2M616.5 995.5h2M602.5 1043.5h2M536 1034.5h2M596.5 1005.5h2M646.5 1000.5h2M599.5 1012.5h2M628.5 1041.5h2M589.5 1026.5h2M632 1021.5h2M646 1007.5h2M633 1012.5h2M591 1038.5h2M687 990.5h2M618 992.5h2M611.5 1010.5h2M601.5 1036.5h2M652.5 1008.5h2M636.5 1022.5h2M607 1034.5h2M610 1031.5h2M635.5 1019.5h2M635.5 996.5h2M580.5 1051.5h2M654.5 1010.5h2M632 997.5h2M648 1021.5h2M590 1015.5h2M602.5 1008.5h2M654 1027.5h2M636 1028.5h2M538.5 1053.5h2M553 1074.5h2M541 1046.5h2M519 1058.5h2M538.5 1078.5h2M544.5 1071.5h2M527.5 1081.5h2M537 1075.5h2M522 1064.5h2M528.5 1099.5h2M526.5 1033.5h2M481.5 1082.5h2M514.5 1055.5h2M551 1060.5h2M540 1039.5h2M503.5 1075.5h2M519.5 1075.5h2M539 1062.5h2M539.5 1059.5h2M552.5 1091.5h2M501 1067.5h2M469.5 1066.5h2M553.5 1066.5h2M538.5 1102.5h2M557.5 1070.5h2M493.5 1026.5h2M509 1085.5h2M535 1029.5h2M529.5 1064.5h2M475 1072.5h2M559 1049.5h2M526.5 1108.5h2M514 1083.5h2M488.5 1054.5h2M508.5 1064.5h2M559 1068.5h2M498.5 1063.5h2M491 1071.5h2M518.5 1066.5h2M527 1030.5h2M502.5 1067.5h2M517 1078.5h2M526.5 1054.5h2M539.5 1078.5h2M532 1075.5h2M529.5 1090.5h2M513.5 1060.5h2M504 1084.5h2M546.5 1095.5h2M508 1097.5h2M495.5 1074.5h2M507.5 1061.5h2M521.5 1032.5h2M529 1033.5h2M524.5 1088.5h2M521 1074.5h2M473.5 1066.5h2M526 1070.5h2M548 1065.5h2M478 1054.5h2M499 1091.5h2M535 1088.5h2M528 1096.5h2M516 1103.5h2M515 1062.5h2M516.5 1060.5h2M545 1081.5h2M626 1047.5h2M642.5 1026.5h2M629 1016.5h2M651.5 995.5h2M650 992.5h2M657.5 1000.5h2M637.5 998.5h2M661 986.5h2M650.5 1005.5h2M638 1008.5h2M624 1013.5h2M657 1001.5h2M650 1032.5h2M667 1029.5h2M653.5 995.5h2M649.5 1002.5h2M596.5 998.5h2M656.5 1015.5h2M654.5 1026.5h2M632 1029.5h2M678.5 998.5h2M681 988.5h2M656 995.5h2M664.5 996.5h2M639.5 1010.5h2M670 994.5h2M622 981.5h2M629.5 1017.5h2M639.5 1047.5h2M694 1006.5h2M665 986.5h2M670 1007.5h2M646 1027.5h2M686 1004.5h2M667 995.5h2M687 1004.5h2M645 1039.5h2M637.5 1030.5h2M649.5 1028.5h2M644 1004.5h2M660 1019.5h2M636 1025.5h2M645 1022.5h2M634.5 1017.5h2M673 980.5h2M689 997.5h2M660 1008.5h2M653 1005.5h2M691 978.5h2M683.5 996.5h2M625.5 1015.5h2M619 1026.5h2M639.5 996.5h2M596 1052.5h2M653.5 999.5h2M641 993.5h2M727.5 981.5h2M706.5 987.5h2M670 996.5h2M744.5 987.5h2M762 945.5h2M767.5 957.5h2M759 967.5h2M737.5 988.5h2M753.5 954.5h2M696.5 985.5h2M728.5 985.5h2M776 953.5h2M700.5 1004.5h2M730 966.5h2M759 958.5h2M730.5 995.5h2M797 942.5h2M710.5 990.5h2M752 956.5h2M701.5 976.5h2M719 986.5h2M765 960.5h2M750 962.5h2M729.5 993.5h2M715.5 992.5h2M679.5 998.5h2M789 931.5h2M743.5 989.5h2M723.5 990.5h2M714.5 961.5h2M780.5 961.5h2M757.5 964.5h2M708 1000.5h2M660.5 1003.5h2M747 956.5h2M729.5 971.5h2M683.5 1019.5h2M724 993.5h2M713 965.5h2M751.5 969.5h2M755.5 970.5h2M711 966.5h2M742 951.5h2M704.5 980.5h2M687 1003.5h2M705 1002.5h2M780 948.5h2M732 975.5h2M685.5 1001.5h2M705.5 978.5h2M695 982.5h2M753 971.5h2M791.5 959.5h2M684 999.5h2M684.5 998.5h2M723 996.5h2M774 945.5h2M723.5 986.5h2M711.5 996.5h2M770 970.5h2M718.5 961.5h2M689 995.5h2M753.5 945.5h2M700 1006.5h2M730.5 967.5h2M693 1010.5h2M714.5 979.5h2M765.5 972.5h2M627.5 1047.5h2M754.5 969.5h2M727.5 956.5h2M716 975.5h2M722.5 948.5h2M722.5 998.5h2M710 1005.5h2M697 1000.5h2M750.5 953.5h2M760 971.5h2M691 980.5h2M694 990.5h2M720 1003.5h2M772 963.5h2M690.5 981.5h2M696 1009.5h2M787.5 935.5h2M773 952.5h2M741 963.5h2M724.5 968.5h2M689 996.5h2M701.5 982.5h2M690 1019.5h2M722 973.5h2M731 980.5h2M777.5 955.5h2M704.5 993.5h2M709.5 968.5h2M774.5 948.5h2M686 1015.5h2M680 1028.5h2M769 962.5h2M754.5 965.5h2M787 949.5h2M699 991.5h2M746.5 971.5h2M697.5 975.5h2M710.5 997.5h2M831.5 901.5h2M753 959.5h2M706 968.5h2M817 931.5h2M665 1008.5h2M733.5 979.5h2M708.5 1010.5h2M701 998.5h2M704.5 963.5h2M714.5 980.5h2M761 975.5h2M671 1014.5h2M704 1004.5h2M725.5 974.5h2M725 975.5h2M729 966.5h2M703.5 976.5h2M722.5 983.5h2M685.5 989.5h2M720 982.5h2M744 967.5h2M741.5 962.5h2M721.5 979.5h2M694.5 998.5h2M708.5 974.5h2M690 991.5h2M749 966.5h2M673 994.5h2M759 971.5h2M659 1017.5h2M536.5 895.5h2M636 900.5h2M635 877.5h2M574.5 883.5h2M576 901.5h2M605.5 881.5h2M625.5 881.5h2M566.5 889.5h2M698.5 971.5h2M573 974.5h2M602 938.5h2M554 958.5h2M644 949.5h2M631 894.5h2M545 984.5h2M609 988.5h2M665.5 915.5h2M557.5 992.5h2M529.5 992.5h2M497 996.5h2M579.5 994.5h2M661.5 937.5h2M852 864.5h2M782 873.5h2M835 859.5h2M815 860.5h2M781.5 868.5h2M773.5 879.5h2M725.5 879.5h2M735.5 880.5h2M776.5 870.5h2M788.5 870.5h2M722.5 880.5h2M718 882.5h2M745 884.5h2M848 862.5h2M792 870.5h2M712 871.5h2M800.5 870.5h2M725.5 869.5h2M724.5 884.5h2M799 866.5h2M814 858.5h2M703.5 871.5h2M781 872.5h2M697.5 876.5h2M794 875.5h2M707 883.5h2M762.5 875.5h2M721 874.5h2M825 861.5h2M747.5 887.5h2M780.5 874.5h2M759.5 885.5h2M730.5 888.5h2M727.5 871.5h2M753.5 873.5h2M781 871.5h2M850.5 870.5h2M778 876.5h2M684.5 886.5h2M778 869.5h2M784 867.5h2M783 864.5h2M789.5 873.5h2M740 878.5h2M821.5 871.5h2M770.5 866.5h2M809.5 854.5h2M821 863.5h2M742 880.5h2M819 875.5h2M750 881.5h2M728 887.5h2M723.5 891.5h2M794 857.5h2M756 873.5h2M710 886.5h2M820.5 865.5h2M754.5 876.5h2M754.5 883.5h2M784.5 865.5h2M792 872.5h2M818 865.5h2M764.5 880.5h2M798 864.5h2M730 871.5h2M809 861.5h2M758 881.5h2M686.5 879.5h2M703.5 869.5h2M765.5 873.5h2M734 873.5h2M718 886.5h2M733 873.5h2M690.5 882.5h2M777 870.5h2M713 879.5h2M779 878.5h2M691 887.5h2M730.5 880.5h2M744.5 881.5h2M681 877.5h2M868.5 862.5h2M777 868.5h2M780.5 873.5h2M774.5 883.5h2M833 865.5h2M717 878.5h2M707.5 880.5h2M699 880.5h2M821 879.5h2M816.5 865.5h2M728 864.5h2M753 876.5h2M863 861.5h2M774 864.5h2M710.5 891.5h2M750 873.5h2M761.5 882.5h2M814.5 865.5h2M724 878.5h2M767 874.5h2M705.5 883.5h2M741.5 883.5h2M812 864.5h2M837.5 863.5h2M761.5 879.5h2M831.5 867.5h2M732.5 867.5h2M743.5 877.5h2M778.5 877.5h2M743 873.5h2M703.5 880.5h2M748 890.5h2M856.5 860.5h2M802.5 864.5h2M748 880.5h2M824 859.5h2M836.5 865.5h2M706 884.5h2M743.5 889.5h2M750 870.5h2M849.5 860.5h2M820.5 868.5h2M695.5 876.5h2M802.5 854.5h2M796 868.5h2M812.5 863.5h2M797.5 861.5h2M793.5 865.5h2M818 861.5h2M819 862.5h2M831 878.5h2M812 860.5h2M795 866.5h2M812.5 869.5h2M826 869.5h2M800 869.5h2M833 863.5h2M805.5 864.5h2M821.5 860.5h2M788.5 868.5h2M823.5 863.5h2M774 879.5h2M788.5 876.5h2M783 872.5h2M786.5 871.5h2M791.5 866.5h2M780.5 872.5h2M820 868.5h2M785.5 869.5h2M799 856.5h2M852.5 859.5h2M811 865.5h2M795 864.5h2M645 884.5h2M639 897.5h2M656 883.5h2M667 888.5h2M636.5 895.5h2M666 886.5h2M655 900.5h2M636.5 892.5h2M688 879.5h2M682 878.5h2M615.5 900.5h2M643.5 875.5h2M647.5 876.5h2M620.5 889.5h2M631 891.5h2M678.5 878.5h2M623.5 892.5h2M610.5 893.5h2M611 892.5h2M643.5 887.5h2M633.5 879.5h2M636 902.5h2M664 891.5h2M636.5 885.5h2M658 896.5h2M570 954.5h2M750 935.5h2M463 962.5h2M486 1005.5h2M521 971.5h2M803 975.5h2M513 967.5h2" stroke="#18227e" stroke-width="1.25" fill="none"/><path d="M492.5 1035.5h2M570 1043.5h2M576.5 1047.5h2M539 1023.5h2M525 1012.5h2M526.5 1032.5h2M542.5 1010.5h2M513 1041.5h2M490.5 1029.5h2M554 1061.5h2M567 1005.5h2M555 1061.5h2M577.5 1024.5h2M541 1015.5h2M561.5 1034.5h2M509 1108.5h2M566.5 1054.5h2M533.5 1040.5h2M574.5 1038.5h2M533.5 1053.5h2M608 1032.5h2M534 1069.5h2M501.5 1060.5h2M583.5 1002.5h2M511.5 1029.5h2M576.5 1003.5h2M561 1048.5h2M480.5 1054.5h2M551.5 1061.5h2M573.5 1026.5h2M501.5 1044.5h2M494.5 1027.5h2M596 1038.5h2M581.5 1059.5h2M583.5 1054.5h2M521 1062.5h2M509 1024.5h2M486.5 1045.5h2M480 1050.5h2M554 1026.5h2M506 1069.5h2M528 1063.5h2M562 1007.5h2M483.5 1029.5h2M564 1008.5h2M564.5 1044.5h2M572 1043.5h2M608 1021.5h2M541 1029.5h2M477.5 1040.5h2M616 1040.5h2M595.5 1014.5h2M538.5 1021.5h2M485.5 1031.5h2M491 1044.5h2M513 1048.5h2M503.5 1052.5h2M508 1015.5h2M568.5 1014.5h2M538.5 1018.5h2M587 1028.5h2M491.5 1044.5h2M513 1027.5h2M573.5 1049.5h2M583 1046.5h2M501 1059.5h2M597 1028.5h2M600.5 1025.5h2M481 1049.5h2M493.5 1045.5h2M551 1041.5h2M539.5 1014.5h2M502 1030.5h2M580.5 1038.5h2M465.5 1038.5h2M601.5 1082.5h2M548.5 1056.5h2M532 1005.5h2M529 1060.5h2M492.5 1037.5h2M511 1037.5h2M574.5 1041.5h2M555 1000.5h2M584.5 1021.5h2M606.5 1031.5h2M563 1044.5h2M525.5 1031.5h2M522.5 1050.5h2M584.5 1059.5h2M572 1059.5h2M555.5 1029.5h2M500 1041.5h2M497.5 1025.5h2M570.5 1048.5h2M538.5 1029.5h2M515 1013.5h2M475 1048.5h2M540 1046.5h2M512 1070.5h2M532 1006.5h2M604 1022.5h2M496 1060.5h2M540 1013.5h2M568.5 1038.5h2M571 1019.5h2M499 1001.5h2M545 1025.5h2M601 1008.5h2M585 1001.5h2M557.5 1010.5h2M563 1035.5h2M565 1016.5h2M498.5 1028.5h2M565 999.5h2M496.5 1033.5h2M563 1021.5h2M544 1008.5h2M485.5 1047.5h2M478.5 1051.5h2M549.5 1015.5h2M528.5 1007.5h2M564 1025.5h2M598 1057.5h2M548 1018.5h2M581.5 1047.5h2M524 1047.5h2M572.5 1004.5h2M562 1000.5h2M539 1026.5h2M494 1046.5h2M564.5 1060.5h2M555 1011.5h2M529.5 1013.5h2M511.5 1027.5h2M520.5 1024.5h2M551.5 1023.5h2M531 1062.5h2M573.5 1050.5h2M513 1044.5h2M563.5 1065.5h2M508.5 1070.5h2M605.5 1028.5h2M604.5 1039.5h2M569.5 1022.5h2M573.5 1015.5h2M558 1020.5h2M506 1042.5h2M528.5 1024.5h2M516 1057.5h2M579 1055.5h2M571.5 1018.5h2M506 1024.5h2M554 1029.5h2M540.5 1072.5h2M557 1053.5h2M512 1069.5h2M511.5 1059.5h2M625.5 1026.5h2M595.5 1001.5h2M562.5 1068.5h2M530 1065.5h2M546 1042.5h2M592 1017.5h2M531.5 1063.5h2M557 1035.5h2M555 1050.5h2M518 1022.5h2M490 1049.5h2M582.5 1019.5h2M552.5 1060.5h2M542.5 1037.5h2M619.5 1031.5h2M613 993.5h2M537.5 1030.5h2M528.5 1011.5h2M513.5 1077.5h2M486.5 1048.5h2M529.5 1068.5h2M550.5 1052.5h2M517 1050.5h2M657.5 1033.5h2M493.5 1040.5h2M520 1029.5h2M538 1015.5h2M497.5 1053.5h2M544.5 1032.5h2M566.5 1048.5h2M582 1024.5h2M529 1028.5h2M538 1023.5h2M482.5 1051.5h2M500 1038.5h2M580.5 1055.5h2M609 1010.5h2M511 1073.5h2M543 1063.5h2M572 1052.5h2M595 1023.5h2M559 1064.5h2M550 1046.5h2M545 1059.5h2M595.5 1020.5h2M490 1027.5h2M487.5 1032.5h2M608.5 1017.5h2M496.5 1069.5h2M562.5 1049.5h2M543.5 1051.5h2M540.5 1065.5h2M490 1033.5h2M510.5 1015.5h2M536 1032.5h2M553.5 1015.5h2M566 1052.5h2M553 1010.5h2M567.5 1022.5h2M546.5 1012.5h2M522.5 1034.5h2M491.5 1050.5h2M482 1048.5h2M532.5 1012.5h2M578.5 1035.5h2M510 1048.5h2M502.5 1020.5h2M622 1028.5h2M538 1034.5h2M540 1028.5h2M553.5 1021.5h2M593 1047.5h2M590.5 1045.5h2M539.5 1034.5h2M584.5 1031.5h2M538.5 1040.5h2M501 1031.5h2M472 1069.5h2M589 1056.5h2M539.5 1062.5h2M523.5 1052.5h2M605.5 1045.5h2M487.5 1036.5h2M582 1048.5h2M611.5 1025.5h2M592.5 1014.5h2M554.5 1066.5h2M554 1049.5h2M553.5 1053.5h2M569 1040.5h2M620 1032.5h2M541.5 1041.5h2M489 1060.5h2M539.5 1021.5h2M554 1064.5h2M483 1021.5h2M586.5 1039.5h2M546 1041.5h2M591 1009.5h2M525.5 1021.5h2M539 1056.5h2M505 1071.5h2M600 1017.5h2M526.5 1053.5h2M603.5 1046.5h2M553.5 1057.5h2M491.5 1040.5h2M613.5 1015.5h2M517 1072.5h2M561.5 1001.5h2M627.5 1034.5h2M516 1055.5h2M489.5 1047.5h2M503.5 1069.5h2M531 1057.5h2M489 1037.5h2M599 1008.5h2M546 1055.5h2M518.5 1073.5h2M576 1043.5h2M573 1047.5h2M573.5 1036.5h2M514 1003.5h2M550 1068.5h2M568 1015.5h2M590.5 1027.5h2M599 1004.5h2M559 1036.5h2M580.5 1044.5h2M543.5 1010.5h2M583 1010.5h2M488.5 1042.5h2M484.5 1048.5h2M500 1067.5h2M479.5 1052.5h2M547.5 1041.5h2M520.5 1013.5h2M578.5 1061.5h2M487.5 1061.5h2M512 1048.5h2M553 1014.5h2M622.5 1027.5h2M590.5 1052.5h2M563 1064.5h2M576 1046.5h2M566 1050.5h2M553.5 1032.5h2M552 1045.5h2M488.5 1051.5h2M561 1013.5h2M522 1019.5h2M581 1003.5h2M525.5 1057.5h2M520 1035.5h2M536.5 1011.5h2M637.5 1011.5h2M657.5 1027.5h2M627 1041.5h2M583 1024.5h2M594.5 998.5h2M642 1006.5h2M629.5 1034.5h2M600.5 1024.5h2M617 1046.5h2M629 1004.5h2M613 1026.5h2M579.5 1033.5h2M645 1004.5h2M616.5 1022.5h2M597.5 1049.5h2M610.5 1014.5h2M618 1020.5h2M597.5 1021.5h2M619 1038.5h2M677 1015.5h2M623.5 1041.5h2M670 1003.5h2M575.5 1032.5h2M591 1032.5h2M641.5 1034.5h2M582 1010.5h2M633.5 1021.5h2M568.5 1018.5h2M569.5 1030.5h2M620.5 1015.5h2M671.5 1004.5h2M653.5 1035.5h2M615.5 1004.5h2M597.5 1041.5h2M638 1029.5h2M659 1000.5h2M660.5 1002.5h2M605 993.5h2M613 1037.5h2M602.5 1010.5h2M591 1030.5h2M637 1044.5h2M638.5 995.5h2M663 1006.5h2M612.5 1052.5h2M616 1016.5h2M577.5 1018.5h2M630.5 1010.5h2M646 1003.5h2M614 1026.5h2M641 1010.5h2M614 1034.5h2M605 1037.5h2M598 1013.5h2M644.5 1007.5h2M594 1002.5h2M618 1015.5h2M613 1010.5h2M581 1019.5h2M654.5 996.5h2M621 1036.5h2M623.5 1011.5h2M601.5 1026.5h2M692.5 1032.5h2M602 993.5h2M639 1000.5h2M613.5 1022.5h2M594 1050.5h2M619.5 1010.5h2M607.5 1044.5h2M576 1035.5h2M644 992.5h2M611.5 1017.5h2M567.5 1040.5h2M636.5 1018.5h2M597.5 1016.5h2M568 1051.5h2M640.5 1001.5h2M595 1034.5h2M656 1002.5h2M614.5 1019.5h2M638 1028.5h2M587.5 1035.5h2M630 1011.5h2M636 1006.5h2M593 1034.5h2M598 1021.5h2M624.5 1033.5h2M627.5 1039.5h2M632.5 1013.5h2M627 1022.5h2M599 1029.5h2M562 1040.5h2M592.5 1025.5h2M591.5 1018.5h2M637 1038.5h2M611 1047.5h2M626.5 1033.5h2M603.5 1048.5h2M600.5 1027.5h2M626.5 1015.5h2M633.5 1007.5h2M636 1000.5h2M521.5 1071.5h2M550 1026.5h2M511 1097.5h2M522.5 1071.5h2M536.5 1082.5h2M534.5 1039.5h2M484.5 1106.5h2M538.5 1049.5h2M540 1078.5h2M484 1066.5h2M506.5 1083.5h2M555 1048.5h2M543 1067.5h2M509.5 1061.5h2M533 1033.5h2M501 1093.5h2M529.5 1076.5h2M504.5 1046.5h2M511.5 1100.5h2M505 1108.5h2M539.5 1092.5h2M540 1089.5h2M519 1100.5h2M518 1076.5h2M515 1075.5h2M520.5 1062.5h2M519 1083.5h2M568 1073.5h2M509.5 1044.5h2M544.5 1098.5h2M514 1098.5h2M499 1094.5h2M525.5 1097.5h2M526 1099.5h2M573 1043.5h2M468 1052.5h2M511 1063.5h2M491.5 1058.5h2M509 1035.5h2M493.5 1079.5h2M506.5 1057.5h2M560.5 1060.5h2M519.5 1056.5h2M511.5 1062.5h2M480 1072.5h2M512 1038.5h2M531.5 1080.5h2M497.5 1046.5h2M542 1052.5h2M483.5 1085.5h2M523 1052.5h2M531.5 1074.5h2M515 1041.5h2M483 1042.5h2M515 1098.5h2M526.5 1028.5h2M523.5 1086.5h2M591.5 1056.5h2M511.5 1054.5h2M558 1102.5h2M550 1081.5h2M556 1024.5h2M501.5 1080.5h2M473 1061.5h2M528.5 1083.5h2M515 1060.5h2M480 1066.5h2M524 1075.5h2M526.5 1067.5h2M530.5 1044.5h2M530.5 1030.5h2M522 1027.5h2M529 1069.5h2M517 1023.5h2M528.5 1107.5h2M523.5 1041.5h2M512 1081.5h2M536 1072.5h2M572 1079.5h2M581.5 1079.5h2M526 1053.5h2M526 1064.5h2M646.5 1023.5h2M656 1004.5h2M634 1012.5h2M662 1008.5h2M649 1010.5h2M630.5 1014.5h2M666 1012.5h2M654.5 1017.5h2M676 1001.5h2M674.5 1018.5h2M683 978.5h2M644.5 994.5h2M592.5 1020.5h2M642.5 1030.5h2M690.5 995.5h2M642.5 1009.5h2M674 1001.5h2M670 1010.5h2M698 1001.5h2M637.5 1017.5h2M657 1000.5h2M647 1024.5h2M661 983.5h2M623 1034.5h2M670.5 1008.5h2M690 994.5h2M705.5 994.5h2M665.5 1011.5h2M653.5 1000.5h2M637.5 994.5h2M685 1004.5h2M647 1026.5h2M675 1008.5h2M648 1001.5h2M655 987.5h2M658 973.5h2M685.5 985.5h2M621 1006.5h2M644 1032.5h2M618.5 1012.5h2M674 989.5h2M684 1006.5h2M679 1005.5h2M680 998.5h2M653 1008.5h2M670 984.5h2M641.5 986.5h2M666 986.5h2M693.5 990.5h2M620 1021.5h2M660 1032.5h2M678.5 986.5h2M615 1014.5h2M679.5 1002.5h2M691.5 1007.5h2M665.5 1004.5h2M705.5 1010.5h2M669.5 1002.5h2M640 1019.5h2M692 978.5h2M664.5 1004.5h2M741 942.5h2M723.5 974.5h2M763 985.5h2M714 981.5h2M682 986.5h2M745.5 978.5h2M674 1015.5h2M672 998.5h2M743 990.5h2M749.5 955.5h2M761 950.5h2M708.5 976.5h2M706 969.5h2M737.5 945.5h2M697.5 1000.5h2M765.5 955.5h2M703.5 999.5h2M737.5 965.5h2M748.5 968.5h2M666 1016.5h2M744 937.5h2M744 968.5h2M755.5 967.5h2M687.5 1005.5h2M698 1010.5h2M754.5 961.5h2M767.5 956.5h2M722 978.5h2M771.5 945.5h2M754 952.5h2M729.5 982.5h2M772.5 956.5h2M678 1019.5h2M736.5 983.5h2M750 958.5h2M728 955.5h2M700 998.5h2M722 959.5h2M725 962.5h2M760 964.5h2M741 975.5h2M729 956.5h2M678 1011.5h2M719 999.5h2M772 947.5h2M742 984.5h2M716 995.5h2M659 1016.5h2M675.5 1019.5h2M670.5 1015.5h2M738 964.5h2M705.5 1011.5h2M697.5 1014.5h2M711.5 993.5h2M811 932.5h2M644 1016.5h2M727.5 987.5h2M688.5 982.5h2M663.5 1030.5h2M723.5 985.5h2M729 977.5h2M775 948.5h2M716.5 968.5h2M716.5 972.5h2M718.5 987.5h2M740.5 968.5h2M723.5 971.5h2M697 995.5h2M707 986.5h2M740.5 977.5h2M756.5 967.5h2M750 956.5h2M708 1011.5h2M671.5 994.5h2M719.5 988.5h2M739.5 952.5h2M733 953.5h2M688.5 989.5h2M748.5 980.5h2M684 1005.5h2M726.5 982.5h2M714.5 969.5h2M784.5 938.5h2M684.5 999.5h2M687.5 1016.5h2M754 969.5h2M763.5 959.5h2M731 958.5h2M735.5 970.5h2M693 980.5h2M704 997.5h2M696.5 984.5h2M729.5 989.5h2M770.5 963.5h2M740 972.5h2M721 1002.5h2M771 958.5h2M729.5 968.5h2M710 1007.5h2M755 955.5h2M645.5 1013.5h2M692.5 993.5h2M739 950.5h2M699.5 995.5h2M658 1009.5h2M772.5 955.5h2M751.5 945.5h2M706 999.5h2M765 958.5h2M719.5 972.5h2M684.5 1013.5h2M657.5 1006.5h2M692 1018.5h2M753.5 950.5h2M743 953.5h2M730 983.5h2M759 956.5h2M750 965.5h2M663 1002.5h2M681.5 1015.5h2M695.5 992.5h2M725.5 986.5h2M695 998.5h2M712.5 992.5h2M729 979.5h2M728 970.5h2M681 995.5h2M739 972.5h2M735 963.5h2M677 1000.5h2M737.5 971.5h2M755.5 958.5h2M705.5 977.5h2M704.5 968.5h2M738.5 964.5h2M743.5 959.5h2M722 982.5h2M706.5 973.5h2M711 989.5h2M733.5 994.5h2M725.5 981.5h2M718.5 983.5h2M729 974.5h2M740 973.5h2M767 946.5h2M738.5 989.5h2M803.5 931.5h2M725.5 979.5h2M565 887.5h2M632 883.5h2M574.5 888.5h2M603.5 892.5h2M603 874.5h2M545.5 883.5h2M662.5 872.5h2M587.5 888.5h2M614.5 884.5h2M595 898.5h2M557.5 953.5h2M618.5 968.5h2M633.5 962.5h2M619.5 931.5h2M530 936.5h2M679.5 951.5h2M480.5 938.5h2M504.5 949.5h2M666 1005.5h2M623 987.5h2M533.5 996.5h2M691.5 930.5h2M623 942.5h2M594 985.5h2M539.5 977.5h2M605 985.5h2M758 901.5h2M819.5 862.5h2M709 881.5h2M751 877.5h2M883 855.5h2M784.5 866.5h2M793 866.5h2M753.5 870.5h2M795 880.5h2M796 879.5h2M774 873.5h2M730.5 875.5h2M674 879.5h2M699 887.5h2M835 866.5h2M724 869.5h2M775 882.5h2M703 874.5h2M813.5 874.5h2M777.5 864.5h2M682 886.5h2M771.5 875.5h2M803.5 863.5h2M808.5 872.5h2M794 859.5h2M696 874.5h2M763.5 868.5h2M705.5 882.5h2M832 849.5h2M793.5 866.5h2M773.5 869.5h2M791 868.5h2M783 876.5h2M811 871.5h2M738 885.5h2M822 864.5h2M796.5 866.5h2M718.5 885.5h2M791 867.5h2M814.5 867.5h2M835 864.5h2M717 882.5h2M754.5 884.5h2M678.5 875.5h2M808.5 866.5h2M734 877.5h2M774 859.5h2M747.5 871.5h2M694.5 887.5h2M773 881.5h2M764 877.5h2M809 874.5h2M831 860.5h2M812 871.5h2M774.5 873.5h2M830.5 866.5h2M829.5 871.5h2M780.5 876.5h2M876 871.5h2M733 882.5h2M755 870.5h2M739.5 873.5h2M703 867.5h2M748 872.5h2M800 865.5h2M775.5 879.5h2M693 873.5h2M837 866.5h2M752 871.5h2M747 883.5h2M757.5 883.5h2M738.5 884.5h2M805.5 878.5h2M811 868.5h2M791.5 868.5h2M708 888.5h2M761.5 871.5h2M842.5 868.5h2M705.5 873.5h2M771 870.5h2M725.5 889.5h2M786.5 863.5h2M760.5 869.5h2M751.5 877.5h2M720.5 888.5h2M678.5 884.5h2M858.5 852.5h2M765 865.5h2M766.5 879.5h2M708 877.5h2M693.5 877.5h2M770.5 869.5h2M725.5 874.5h2M734 874.5h2M798 868.5h2M787.5 869.5h2M807 868.5h2M830 864.5h2M745 873.5h2M769 859.5h2M739 886.5h2M768 870.5h2M713 875.5h2M748 873.5h2M735 880.5h2M811.5 865.5h2M687.5 883.5h2M741.5 882.5h2M803 876.5h2M812.5 867.5h2M796 866.5h2M707 870.5h2M734 871.5h2M798 856.5h2M746 882.5h2M815 876.5h2M718.5 873.5h2M805.5 871.5h2M729 873.5h2M721 875.5h2M775 874.5h2M762.5 865.5h2M688.5 896.5h2M656 892.5h2M820 867.5h2M877 862.5h2M810 858.5h2M824.5 864.5h2M767 866.5h2M794 870.5h2M798.5 874.5h2M799 861.5h2M779.5 862.5h2M808.5 870.5h2M784.5 868.5h2M826.5 864.5h2M803 862.5h2M805 872.5h2M806.5 858.5h2M826 859.5h2M811 858.5h2M801 870.5h2M793 872.5h2M814 859.5h2M799.5 870.5h2M795 872.5h2M776 867.5h2M801 873.5h2M806.5 870.5h2M792 864.5h2M798.5 872.5h2M824 863.5h2M785 873.5h2M798 873.5h2M834.5 859.5h2M832 859.5h2M818.5 861.5h2M834.5 871.5h2M810 869.5h2M812.5 866.5h2M788 865.5h2M676.5 876.5h2M619 893.5h2M623 889.5h2M644 880.5h2M669.5 878.5h2M653.5 889.5h2M643.5 894.5h2M708 882.5h2M621 875.5h2M633 901.5h2M669.5 890.5h2M612.5 882.5h2M663.5 895.5h2M650.5 890.5h2M707 887.5h2M649 881.5h2M624.5 884.5h2M659.5 890.5h2M624.5 879.5h2M652.5 884.5h2M606.5 878.5h2M684 890.5h2M653.5 886.5h2M667.5 875.5h2M667.5 887.5h2M668.5 864.5h2M663 881.5h2M620.5 863.5h2M649 894.5h2M598 892.5h2M634.5 892.5h2M681 881.5h2M644 883.5h2M613.5 889.5h2M487.5 1006.5h2M542 1011.5h2M701 999.5h2M767 951.5h2M556.5 1015.5h2M733 1013.5h2M708 907.5h2M569 973.5h2M755 846.5h2M624.5 1027.5h2M481.5 1041.5h2M508 1005.5h2M617 901.5h2M635 960.5h2" stroke="#0e166c" stroke-width="1.25" fill="none"/><path d="M575 1004.5h2M580.5 1026.5h2M576.5 1054.5h2M492.5 1051.5h2M540 1065.5h2M609.5 1013.5h2M514 1019.5h2M494.5 1066.5h2M528.5 1023.5h2M597 1008.5h2M545.5 1049.5h2M518 1019.5h2M580.5 1040.5h2M599.5 1022.5h2M560 1063.5h2M579.5 1053.5h2M580 1042.5h2M587 1031.5h2M582 1014.5h2M593 1015.5h2M604 1009.5h2M547 1036.5h2M544 1056.5h2M519.5 1041.5h2M548 1048.5h2M496.5 1062.5h2M517.5 1032.5h2M582 1020.5h2M551 1058.5h2M555.5 1088.5h2M495 1055.5h2M524.5 1027.5h2M496.5 1043.5h2M507 1070.5h2M571.5 1014.5h2M597 1045.5h2M489.5 1056.5h2M548.5 1020.5h2M558 1070.5h2M474 1048.5h2M560.5 1055.5h2M590 1013.5h2M494.5 1020.5h2M544.5 1030.5h2M543.5 1068.5h2M554.5 1041.5h2M502.5 1017.5h2M578.5 1048.5h2M536.5 1065.5h2M554.5 1031.5h2M618 1025.5h2M591 1015.5h2M561.5 1036.5h2M590.5 1037.5h2M598.5 1029.5h2M555 1030.5h2M578 1071.5h2M547 1028.5h2M554.5 1047.5h2M516.5 1009.5h2M565.5 1035.5h2M541.5 1040.5h2M582.5 1005.5h2M517 1036.5h2M571.5 1004.5h2M510 1053.5h2M511 1041.5h2M555 1022.5h2M503 1035.5h2M589.5 1004.5h2M549.5 1037.5h2M520.5 1064.5h2M557 1000.5h2M512.5 1033.5h2M520 1009.5h2M552 1028.5h2M576.5 1042.5h2M514.5 1054.5h2M550.5 1010.5h2M482 1062.5h2M490 1053.5h2M583 1030.5h2M487 1063.5h2M494 1043.5h2M545 1042.5h2M480 1049.5h2M601 1041.5h2M653.5 1026.5h2M603.5 1019.5h2M595 1060.5h2M511.5 1024.5h2M584.5 1018.5h2M508 1058.5h2M568.5 1058.5h2M601.5 1015.5h2M612.5 1012.5h2M592 1037.5h2M561.5 1048.5h2M570.5 1051.5h2M594.5 1025.5h2M542.5 1007.5h2M653.5 1015.5h2M570 1021.5h2M542 1006.5h2M603 1023.5h2M536.5 1046.5h2M512.5 1055.5h2M512 1026.5h2M539.5 1040.5h2M588 1029.5h2M519 1041.5h2M512 1028.5h2M584 1061.5h2M613 996.5h2M519 1017.5h2M573 1014.5h2M626.5 1023.5h2M594 1017.5h2M526.5 1056.5h2M487 1038.5h2M501 1038.5h2M580.5 1032.5h2M587 1023.5h2M501.5 1025.5h2M492 1046.5h2M493.5 1031.5h2M574 1036.5h2M572 1041.5h2M551 1035.5h2M557.5 1033.5h2M567.5 1000.5h2M583.5 1009.5h2M526 1048.5h2M541 1039.5h2M602 1024.5h2M535.5 1033.5h2M592.5 1054.5h2M524.5 1037.5h2M513 1021.5h2M531 1048.5h2M599 1031.5h2M518.5 1036.5h2M512.5 1056.5h2M535 1033.5h2M484.5 1053.5h2M571.5 1054.5h2M548.5 1030.5h2M568.5 1030.5h2M593.5 1041.5h2M515.5 1048.5h2M517.5 1072.5h2M577 1004.5h2M517.5 1047.5h2M549 1039.5h2M540 1023.5h2M479.5 1056.5h2M577.5 1050.5h2M534 1063.5h2M538.5 1039.5h2M576 998.5h2M484.5 1051.5h2M517 1052.5h2M578 1024.5h2M612 1041.5h2M544 1049.5h2M504 1057.5h2M498 1040.5h2M548.5 1053.5h2M480 1037.5h2M469.5 1041.5h2M610.5 1017.5h2M505.5 1004.5h2M552.5 1021.5h2M564 1000.5h2M582.5 1023.5h2M593 1042.5h2M528 1061.5h2M617 989.5h2M514.5 1059.5h2M599 1022.5h2M527.5 1006.5h2M560 1082.5h2M519.5 1026.5h2M554 1016.5h2M521 1070.5h2M572 1032.5h2M499.5 1059.5h2M555 1071.5h2M555 1036.5h2M508 1069.5h2M564 1006.5h2M486.5 1062.5h2M626 1005.5h2M519.5 1068.5h2M558 1037.5h2M612 1029.5h2M518.5 1024.5h2M576 1093.5h2M577 1017.5h2M499 1023.5h2M574 1046.5h2M640.5 1019.5h2M612.5 1006.5h2M581.5 1048.5h2M584.5 1046.5h2M620.5 1034.5h2M592 1028.5h2M603 1010.5h2M598.5 1025.5h2M656.5 1005.5h2M608 1025.5h2M599 1018.5h2M588 1026.5h2M608 1031.5h2M651 994.5h2M620 1052.5h2M626.5 1008.5h2M612 1034.5h2M594 1008.5h2M619.5 1029.5h2M602 1019.5h2M584.5 1040.5h2M619.5 1027.5h2M627 1031.5h2M628.5 1003.5h2M641.5 1042.5h2M660 1014.5h2M586.5 1025.5h2M613.5 1006.5h2M674 991.5h2M579.5 1014.5h2M635 1037.5h2M602.5 1031.5h2M618.5 1008.5h2M610 996.5h2M608 1053.5h2M615 1026.5h2M646.5 1009.5h2M594.5 1008.5h2M563.5 1035.5h2M657 1014.5h2M638 1043.5h2M647 997.5h2M641.5 993.5h2M598 1030.5h2M591 1029.5h2M577.5 1027.5h2M596 1001.5h2M580 1036.5h2M627.5 1005.5h2M637 1018.5h2M633.5 988.5h2M586 1035.5h2M636.5 1007.5h2M605 1048.5h2M667 998.5h2M576.5 1039.5h2M599.5 1035.5h2M603.5 1032.5h2M619 1034.5h2M632 1040.5h2M577 1042.5h2M498.5 1025.5h2M535.5 1064.5h2M514 1086.5h2M545 1056.5h2M527.5 1085.5h2M524.5 1066.5h2M511.5 1091.5h2M529 1030.5h2M528 1106.5h2M499.5 1088.5h2M509 1089.5h2M528.5 1043.5h2M532.5 1083.5h2M496.5 1053.5h2M511.5 1075.5h2M523.5 1098.5h2M522 1058.5h2M485 1080.5h2M502.5 1056.5h2M520.5 1075.5h2M564 1040.5h2M520.5 1086.5h2M518.5 1065.5h2M527.5 1073.5h2M532 1097.5h2M552 1025.5h2M484.5 1025.5h2M499 1097.5h2M523.5 1082.5h2M562.5 1032.5h2M542 1071.5h2M512.5 1040.5h2M549 1074.5h2M530.5 1089.5h2M531 1050.5h2M507.5 1048.5h2M552 1067.5h2M508 1070.5h2M558.5 1083.5h2M500 1082.5h2M500 1042.5h2M524.5 1053.5h2M509.5 1070.5h2M486 1079.5h2M561.5 1065.5h2M550 1071.5h2M557.5 1090.5h2M554.5 1055.5h2M530 1094.5h2M545.5 1086.5h2M649 984.5h2M644.5 992.5h2M660.5 1019.5h2M636.5 1028.5h2M647.5 1020.5h2M647.5 1023.5h2M644.5 993.5h2M687 1001.5h2M649.5 1008.5h2M673.5 1014.5h2M688 1002.5h2M638.5 983.5h2M658 992.5h2M713.5 1017.5h2M662 1005.5h2M640.5 1011.5h2M701 996.5h2M686.5 991.5h2M696.5 987.5h2M600.5 1008.5h2M663.5 995.5h2M639 1015.5h2M649 1000.5h2M664 984.5h2M604.5 1035.5h2M639.5 1013.5h2M667 1005.5h2M685 1014.5h2M669 1012.5h2M676 988.5h2M663.5 1020.5h2M644.5 1011.5h2M641 1025.5h2M726 992.5h2M667 1004.5h2M731 989.5h2M736 954.5h2M731.5 966.5h2M758 978.5h2M677.5 986.5h2M716.5 973.5h2M683.5 1004.5h2M754 955.5h2M709.5 1001.5h2M744 975.5h2M708 981.5h2M759.5 949.5h2M755.5 969.5h2M718.5 977.5h2M714 980.5h2M709.5 1009.5h2M713.5 972.5h2M703.5 1004.5h2M719.5 987.5h2M733 957.5h2M765 952.5h2M723 978.5h2M666 989.5h2M685 998.5h2M759.5 973.5h2M706.5 985.5h2M713.5 971.5h2M683 1028.5h2M750.5 966.5h2M716 984.5h2M690 996.5h2M771 957.5h2M728 982.5h2M717.5 991.5h2M698 986.5h2M690.5 983.5h2M713 992.5h2M773 961.5h2M680 1007.5h2M672 1008.5h2M740 965.5h2M736.5 959.5h2M699 978.5h2M737.5 949.5h2M702 998.5h2M728.5 987.5h2M733 961.5h2M749.5 974.5h2M716.5 990.5h2M710.5 996.5h2M697 990.5h2M717.5 969.5h2M736.5 976.5h2M737 989.5h2M728 995.5h2M738 971.5h2M720.5 993.5h2M719 991.5h2M689 998.5h2M671.5 1014.5h2M707.5 1004.5h2M689 1001.5h2M742.5 963.5h2M690 982.5h2M717.5 978.5h2M702 999.5h2M748 969.5h2M685.5 1006.5h2M706 1009.5h2M607.5 890.5h2M560.5 883.5h2M610 892.5h2M577.5 882.5h2M611 919.5h2M609 966.5h2M561 986.5h2M569 941.5h2M698 958.5h2M617 943.5h2M604.5 997.5h2M595 963.5h2M684.5 905.5h2M675 927.5h2M591 920.5h2M744 880.5h2M698 877.5h2M754.5 886.5h2M771 869.5h2M770 865.5h2M851.5 860.5h2M781.5 880.5h2M804 877.5h2M663.5 883.5h2M712 887.5h2M782 867.5h2M722.5 872.5h2M770 871.5h2M702 880.5h2M799.5 864.5h2M646 884.5h2M775 863.5h2M723.5 878.5h2M687 886.5h2M809 864.5h2M758 877.5h2M817.5 872.5h2M765.5 869.5h2M694 886.5h2M782.5 881.5h2M757.5 862.5h2M739.5 879.5h2M736.5 865.5h2M721 878.5h2M793 873.5h2M729.5 869.5h2M772 875.5h2M705 879.5h2M828 865.5h2M693.5 888.5h2M806 864.5h2M798.5 865.5h2M794.5 880.5h2M743.5 869.5h2M775 857.5h2M772.5 868.5h2M732.5 872.5h2M751.5 872.5h2M816.5 864.5h2M790 870.5h2M733 874.5h2M838.5 865.5h2M743 877.5h2M768 877.5h2M764.5 866.5h2M797.5 878.5h2M774.5 866.5h2M798.5 869.5h2M845.5 870.5h2M860.5 866.5h2M734.5 868.5h2M758 871.5h2M741.5 880.5h2M779.5 873.5h2M774.5 863.5h2M806 872.5h2M818 869.5h2M811 860.5h2M824.5 861.5h2M789 864.5h2M796.5 869.5h2M797 879.5h2M799.5 859.5h2M834 866.5h2M808 862.5h2M822.5 870.5h2M812 867.5h2M808 861.5h2M822.5 859.5h2M816.5 861.5h2M778 875.5h2M805 858.5h2M811.5 871.5h2M831 862.5h2M819.5 872.5h2M844 862.5h2M790.5 872.5h2M816.5 870.5h2M817 857.5h2M825 863.5h2M632 869.5h2M623 877.5h2M634 892.5h2M632.5 864.5h2M633.5 872.5h2M662 892.5h2M639.5 885.5h2M696.5 880.5h2M665.5 882.5h2M646.5 875.5h2M607 858.5h2M494.5 1092.5h2M492.5 895.5h2M481 837.5h2M577.5 1069.5h2M585 893.5h2M611 908.5h2" stroke="#1d3a9e" stroke-width="1.25" fill="none"/><path d="M555.5 1042.5h2M515 1046.5h2M580.5 1013.5h2M524 1025.5h2M501 1051.5h2M546 1046.5h2M549.5 1057.5h2M526 1041.5h2M530.5 1046.5h2M583.5 1045.5h2M601 1038.5h2M528.5 1052.5h2M567.5 1035.5h2M499 1055.5h2M555 1032.5h2M572.5 1050.5h2M561 1029.5h2M568.5 1020.5h2M534.5 1030.5h2M548.5 1041.5h2M539.5 1036.5h2M613.5 1040.5h2M543.5 1047.5h2M515.5 1050.5h2M559 1019.5h2M571.5 1045.5h2M536 1045.5h2M547 1030.5h2M503 1059.5h2M565.5 1068.5h2M604.5 1032.5h2M542 1046.5h2M551 1054.5h2M588 1014.5h2M607.5 1016.5h2M552 1024.5h2M557.5 1044.5h2M573 1033.5h2M552 1049.5h2M572.5 1022.5h2M551 1059.5h2M607 1032.5h2M606 1015.5h2M605.5 1004.5h2M619.5 1012.5h2M601 1034.5h2M602.5 1013.5h2M621 1018.5h2M655.5 1013.5h2M612 1020.5h2M528.5 1068.5h2M703 981.5h2M702.5 991.5h2M738 988.5h2M725 990.5h2M772 960.5h2M703 977.5h2M738 980.5h2M702 1004.5h2M723 973.5h2M707.5 981.5h2M740 955.5h2M721 983.5h2M708.5 994.5h2M731.5 983.5h2M734 875.5h2M789 870.5h2M757 866.5h2M741 880.5h2M804 868.5h2M811.5 863.5h2M805.5 872.5h2M807 866.5h2" stroke="#2a5ab8" stroke-width="1.25" fill="none"/><path d="M488 1055.5h2M611 1035.5h2M532 1058.5h2M557 1037.5h2M572.5 1017.5h2M596.5 1040.5h2M543 1032.5h2M501.5 1051.5h2M484 1060.5h2M508 1031.5h2M504.5 1036.5h2M570.5 1007.5h2M562 1023.5h2M523 1023.5h2M551 1019.5h2M526.5 1037.5h2M549 1033.5h2M534 1048.5h2M549.5 1029.5h2M544 1029.5h2M570 1041.5h2M550 1051.5h2M493 1057.5h2M584 1043.5h2M608.5 1018.5h2M542 1065.5h2M571 1016.5h2M550.5 1055.5h2M533.5 1025.5h2M571 1046.5h2M568 1023.5h2M542 1029.5h2M525.5 1041.5h2M540.5 1038.5h2M597 1018.5h2M539 1037.5h2M522.5 1054.5h2M552.5 1043.5h2M516 1063.5h2M533.5 1044.5h2M559 1054.5h2M585.5 1040.5h2M571.5 1042.5h2M620.5 1009.5h2M614.5 1028.5h2M647.5 1017.5h2M625.5 1035.5h2M632 993.5h2M593.5 1037.5h2M612 1024.5h2M591 1024.5h2M647.5 1011.5h2M546.5 1046.5h2M647.5 1018.5h2M639 1017.5h2M638 1007.5h2M640 1024.5h2M759.5 964.5h2M686.5 1004.5h2M757 958.5h2M740 971.5h2M710.5 993.5h2M714.5 975.5h2M729.5 984.5h2M701.5 979.5h2M679 994.5h2M706 986.5h2M699.5 1002.5h2M746.5 957.5h2M741 965.5h2M709.5 985.5h2M695.5 995.5h2M805 862.5h2M811 872.5h2M794.5 869.5h2M742 871.5h2M745.5 876.5h2M804.5 871.5h2M763.5 879.5h2M775 875.5h2M786.5 862.5h2M802.5 872.5h2M812.5 862.5h2M797 864.5h2M811.5 866.5h2M803 870.5h2M823.5 864.5h2M815 870.5h2M629 883.5h2" stroke="#3aa6c4" stroke-width="1.25" fill="none"/><path d="M585 1017.5h2M523 1053.5h2M495 1061.5h2M543.5 1031.5h2M544.5 1024.5h2M567.5 1017.5h2M553 1033.5h2M554.5 1038.5h2M562.5 1055.5h2M586.5 1003.5h2M590.5 1022.5h2M539.5 1046.5h2M553.5 1047.5h2M586 1019.5h2M592.5 1052.5h2M574 1033.5h2M608.5 1034.5h2M492.5 1050.5h2M536 1074.5h2M573 1035.5h2M549.5 1024.5h2M578.5 1033.5h2M579 1046.5h2M568.5 1031.5h2M564 1037.5h2M619 1019.5h2M555 1035.5h2M614.5 1022.5h2M538 1055.5h2M570 1052.5h2M534.5 1024.5h2M573 1023.5h2M557.5 1040.5h2M533.5 1012.5h2M515.5 1049.5h2M576.5 1041.5h2M563.5 1030.5h2M540 1027.5h2M539.5 1025.5h2M517.5 1016.5h2M514.5 1029.5h2M567.5 1038.5h2M616 1035.5h2M633.5 1023.5h2M598.5 1023.5h2M630.5 1024.5h2M605.5 1022.5h2M615.5 1030.5h2M611.5 1019.5h2M576.5 1040.5h2M663 1010.5h2M657 1012.5h2M646.5 1036.5h2M719 989.5h2M732 973.5h2M732.5 976.5h2M747 972.5h2M743 960.5h2M720.5 984.5h2M717 997.5h2M691 984.5h2M716 976.5h2M695 991.5h2M739.5 972.5h2M721.5 989.5h2M743.5 970.5h2M716.5 980.5h2M703 989.5h2M736 972.5h2M703 988.5h2M723.5 976.5h2M754.5 954.5h2M794 871.5h2M736.5 881.5h2M737 877.5h2M795 871.5h2M767 867.5h2M779.5 869.5h2M759 879.5h2M780 866.5h2M759.5 882.5h2M758.5 875.5h2M812 862.5h2M799.5 866.5h2M798 869.5h2M803.5 870.5h2M819 867.5h2M792 867.5h2M806.5 869.5h2" stroke="#48b8b0" stroke-width="1.25" fill="none"/><path d="M513.5 1050.5h2M594 1024.5h2M584 1031.5h2M532 1023.5h2M512.5 1038.5h2M548.5 1021.5h2M588 1030.5h2M578 1018.5h2M574 1022.5h2M557.5 1015.5h2M592 1016.5h2M628.5 1015.5h2M610 1035.5h2M733.5 959.5h2M710 985.5h2M748.5 970.5h2M756 963.5h2M741 974.5h2M716 997.5h2M713 995.5h2M719.5 970.5h2M708.5 970.5h2M726 878.5h2M754 878.5h2M805 860.5h2M815.5 863.5h2M796 867.5h2M800.5 869.5h2M787 869.5h2M818 867.5h2M803 865.5h2M806.5 871.5h2M806 868.5h2M814 867.5h2" stroke="#4cc060" stroke-width="1.25" fill="none"/><path d="M564.5 1028.5h2M575.5 1038.5h2M565 1020.5h2M602 1012.5h2M762 871.5h2M802.5 868.5h2M801.5 869.5h2M815.5 866.5h2M814 866.5h2M804.5 866.5h2M805.5 868.5h2" stroke="#90d048" stroke-width="1.25" fill="none"/><path d="M560.5 1044.5h2M739.5 969.5h2M797.5 868.5h2M756.5 875.5h2M803.5 864.5h2M814 865.5h2M795 867.5h2M798 866.5h2M804.5 869.5h2M802 869.5h2" stroke="#d0dc3c" stroke-width="1.25" fill="none"/><path d="M534 1040.5h2M709.5 992.5h2M809.5 865.5h2M810 865.5h2" stroke="#f0b030" stroke-width="1.25" fill="none"/><path d="M538.5 1031.5h2M721 984.5h2M798 867.5h2M800 868.5h2" stroke="#e86a28" stroke-width="1.25" fill="none"/><path d="M549.5 1031.5h2M550 1042.5h2M544 1034.5h2M536 1043.5h2M726 980.5h2M810 866.5h2M798.5 867.5h2M809 866.5h2M808.5 867.5h2" stroke="#d83028" stroke-width="1.25" fill="none"/><path d="M1091 1012.5h2M1150.5 989.5h2M1041 1056.5h2M1133 1018.5h2M1082.5 1042.5h2M1110 996.5h2M1153 996.5h2M1101 1005.5h2M1069.5 1042.5h2M1096 1011.5h2M1076.5 1059.5h2M1084 1046.5h2M1024.5 1060.5h2M1089.5 1017.5h2M1163 999.5h2M1116 1024.5h2M1105.5 1043.5h2M1161.5 1029.5h2M1109.5 1023.5h2M1144.5 1029.5h2M1140 1008.5h2M1057.5 1021.5h2M1061 1049.5h2M1054 1045.5h2M1155.5 1047.5h2M1140.5 1003.5h2M1124.5 1026.5h2M1088.5 1048.5h2M1070 1070.5h2M1086 1024.5h2M1050.5 1066.5h2M1118 1040.5h2M1105.5 1064.5h2M1115.5 1022.5h2M1158 1010.5h2M1073.5 1030.5h2M1062 999.5h2M1144.5 994.5h2M1163 1007.5h2M1116 1074.5h2M1101.5 1073.5h2M1022 1046.5h2M1083.5 1052.5h2M1171.5 1016.5h2M1116 1064.5h2M1104.5 1039.5h2M1152 1018.5h2M1060.5 1045.5h2M1107.5 1023.5h2M1160 1001.5h2M1167.5 1014.5h2M1062 1051.5h2M1109.5 1014.5h2M1036.5 1063.5h2M1094.5 1015.5h2M1110 1056.5h2M1102 1012.5h2M1095 1004.5h2M1047 1057.5h2M1054 1044.5h2M1154 1029.5h2M1089.5 1051.5h2M1079 1062.5h2M1117 1014.5h2M1161 999.5h2M1084 1033.5h2M1067 1036.5h2M1161.5 992.5h2M1088.5 1055.5h2M1083 1079.5h2M1099 996.5h2M1120 1047.5h2M1156 1029.5h2M1097 1065.5h2M1146 1036.5h2M1082.5 1052.5h2M1129 1019.5h2M1201 980.5h2M1106 1047.5h2M1146.5 1014.5h2M1046.5 1046.5h2M1133 1058.5h2M1102 1057.5h2M1210 1005.5h2M1056 1070.5h2M1116.5 1038.5h2M1048.5 1038.5h2M1127 1010.5h2M1116.5 1051.5h2M1088 1070.5h2M1117.5 1028.5h2M1053 1038.5h2M1042.5 1028.5h2M1169.5 1053.5h2M1153.5 1011.5h2M1079.5 1018.5h2M1118.5 1042.5h2M1050.5 1054.5h2M1174 1000.5h2M1047.5 1029.5h2M1106.5 999.5h2M1140.5 1015.5h2M1141 998.5h2M1163 1002.5h2M1091 1005.5h2M1158.5 1013.5h2M1139 997.5h2M1139.5 1025.5h2M1134 1010.5h2M1113.5 1008.5h2M1072 1022.5h2M1138 1001.5h2M1055.5 1063.5h2M1153.5 988.5h2M1167 992.5h2M1137 990.5h2M1109.5 1045.5h2M1101.5 1023.5h2M1090.5 1005.5h2M1101.5 1001.5h2M1174 1006.5h2M1047 1069.5h2M1123.5 1010.5h2M1096.5 1050.5h2M1173 964.5h2M1038 1024.5h2M1061.5 1055.5h2M1088 1002.5h2M1103 1051.5h2M1127 1060.5h2M1067.5 1034.5h2M1115 1044.5h2M1132.5 1027.5h2M1058 1063.5h2M1137.5 1024.5h2M1174.5 1008.5h2M1051.5 1065.5h2M1084 1004.5h2M1134.5 1016.5h2M1155.5 1015.5h2M1097.5 1043.5h2M1103.5 1003.5h2M1066.5 1030.5h2M1155 1021.5h2M1142 1020.5h2M1056.5 1057.5h2M1145 993.5h2M1113.5 1010.5h2M1172 1016.5h2M1052 1057.5h2M1100.5 1021.5h2M1129.5 1024.5h2M1046.5 1021.5h2M1145 988.5h2M1103 1040.5h2M1097.5 1065.5h2M1138 1024.5h2M1157.5 1018.5h2M1152 985.5h2M1108.5 1034.5h2M1111 1009.5h2M1144.5 993.5h2M1127 994.5h2M1043.5 1038.5h2M1064.5 1077.5h2M1084.5 1021.5h2M1158 1022.5h2M1162.5 1023.5h2M1108.5 1031.5h2M1114 1046.5h2M1115 1042.5h2M1186 1001.5h2M1034.5 1051.5h2M1089 1025.5h2M1142.5 1044.5h2M1051.5 1038.5h2M1077.5 1041.5h2M1038.5 1053.5h2M1122 1040.5h2M1146 998.5h2M1150.5 1033.5h2M1072 1029.5h2M1148.5 1008.5h2M1116 1040.5h2M1070 1065.5h2M1147 1004.5h2M1158.5 993.5h2M1158.5 990.5h2M1053.5 1044.5h2M1119.5 998.5h2M1072 1076.5h2M1060.5 1028.5h2M1080.5 1058.5h2M1138 1006.5h2M1136.5 987.5h2M1160.5 1035.5h2M1113 1015.5h2M1081 1016.5h2M1162 1030.5h2M1099.5 1018.5h2M1074 1016.5h2M1056 1068.5h2M1154 1033.5h2M1099.5 1028.5h2M1037.5 1050.5h2M1157 1032.5h2M1044 1042.5h2M1103 1059.5h2M1060 1052.5h2M1116.5 1043.5h2M1034.5 1047.5h2M1042.5 1066.5h2M1047.5 1031.5h2M1096.5 1068.5h2M1061.5 1037.5h2M1089.5 1060.5h2M1136 1046.5h2M1040.5 1070.5h2M1060 1048.5h2M1085 1002.5h2M1134 995.5h2M1130 1042.5h2M1116 993.5h2M1174 1007.5h2M1125.5 995.5h2M1059 1044.5h2M1142 1043.5h2M1174 1031.5h2M1155.5 1008.5h2M1126 1036.5h2M1099 1002.5h2M1153.5 976.5h2M1105 1060.5h2M1052 1046.5h2M1097.5 1052.5h2M1114.5 999.5h2M1095 1020.5h2M1092 1053.5h2M1080 1056.5h2M1140.5 1042.5h2M1062 1034.5h2M1150 1021.5h2M1126.5 1028.5h2M1144 1001.5h2M1163 1020.5h2M1116.5 1013.5h2M1164 1018.5h2M1122 1048.5h2M1012.5 1034.5h2M1082 1045.5h2M1160 1029.5h2M1118.5 1036.5h2M1117 1005.5h2M1062.5 1075.5h2M1016 1079.5h2M1073.5 1019.5h2M1092.5 1027.5h2M1155.5 1037.5h2M1116 1045.5h2M1117.5 1021.5h2M1148 987.5h2M1104 988.5h2M1078 1053.5h2M1101 1066.5h2M1168.5 1021.5h2M1086.5 1025.5h2M1159 1010.5h2M1179.5 1043.5h2M1114.5 997.5h2M1129.5 1031.5h2M1090 1062.5h2M1039.5 1066.5h2M1087 1012.5h2M1104 1010.5h2M1139.5 1038.5h2M1125.5 1006.5h2M1043.5 1037.5h2M1109 1032.5h2M1139 1027.5h2M1174.5 1030.5h2M1075 1095.5h2M1067 1049.5h2M1078 1033.5h2M1121 1069.5h2M1149.5 990.5h2M1151 1034.5h2M1078.5 1027.5h2M1080.5 1026.5h2M1160 1009.5h2M1055.5 1053.5h2M1044.5 1052.5h2M1079.5 1027.5h2M1070 1058.5h2M1122 1059.5h2M1083.5 1050.5h2M1151.5 1017.5h2M1028.5 1084.5h2M1053 1024.5h2M1084.5 1073.5h2M1095.5 1023.5h2M1058.5 1017.5h2M1076.5 1050.5h2M1116.5 1005.5h2M1056.5 1059.5h2M1061.5 1029.5h2M1063 1024.5h2M1081 1011.5h2M1038 1052.5h2M1124.5 990.5h2M1086 1001.5h2M1085 1028.5h2M1127.5 997.5h2M1145 1014.5h2M1124.5 1052.5h2M1058 990.5h2M1076.5 1069.5h2M1192 1009.5h2M1091 1054.5h2M1078 1031.5h2M1135 1016.5h2M1155.5 1041.5h2M1079.5 1063.5h2M1061 1030.5h2M1162.5 1018.5h2M1000 1059.5h2M1111.5 1030.5h2M1126 996.5h2M1147 1019.5h2M1071 1015.5h2M1133 1007.5h2M1134 1017.5h2M1166.5 1008.5h2M1119 1052.5h2M1089.5 1062.5h2M1096 1031.5h2M1046 1072.5h2M1120 1034.5h2M1076.5 1052.5h2M1128 994.5h2M1052 1066.5h2M1095 1054.5h2M1108 998.5h2M1099 1067.5h2M1162.5 1032.5h2M1172.5 1006.5h2M1073 1024.5h2M1144.5 1054.5h2M1075 1044.5h2M1127 1047.5h2M1022 1045.5h2M1101 1031.5h2M1106.5 1018.5h2M1124.5 1038.5h2M1043 1054.5h2M1138 1012.5h2M1132.5 990.5h2M1130.5 1022.5h2M1197 991.5h2M1097.5 1067.5h2M1133.5 1037.5h2M1105 1069.5h2M1122 1033.5h2M1162.5 996.5h2M1098 1059.5h2M1140 1022.5h2M1081.5 1039.5h2M1122.5 1000.5h2M1061 1073.5h2M1152 1021.5h2M1086.5 1045.5h2M1072 1045.5h2M1058 1038.5h2M1125 983.5h2M1045 1060.5h2M1144 1017.5h2M1067 1078.5h2M1062.5 1018.5h2M1126.5 1002.5h2M1167.5 991.5h2M1121.5 1006.5h2M1132 994.5h2M1043 1065.5h2M1216 996.5h2M1115 1009.5h2M1033 1087.5h2M1092.5 1041.5h2M1109 1071.5h2M1132 1013.5h2M1087 1068.5h2M1062.5 1027.5h2M1063.5 1077.5h2M1160 997.5h2M1117.5 1017.5h2M1138.5 1007.5h2M1145 992.5h2M1043.5 1057.5h2M1175.5 1002.5h2M1035 1059.5h2M1035.5 1090.5h2M1068.5 1074.5h2M1030 1031.5h2M1176.5 1010.5h2M1149.5 966.5h2M1189 853.5h2M1065 965.5h2M1094 986.5h2M1217 906.5h2M1161 927.5h2M1125 974.5h2M1212 1005.5h2M1230.5 939.5h2M1154.5 982.5h2M1162 970.5h2M1214.5 864.5h2M1105.5 968.5h2M1320.5 961.5h2M1274.5 935.5h2M1036.5 1032.5h2M1096 973.5h2M1199 952.5h2M1112.5 931.5h2M1123.5 951.5h2M1097 970.5h2M1184.5 927.5h2M1051.5 1003.5h2M1059 980.5h2M1103 904.5h2M1119.5 1005.5h2M1356.5 948.5h2M1167.5 985.5h2M1216 965.5h2M1244.5 935.5h2M985.5 994.5h2M1052.5 1087.5h2M1104 1089.5h2M1099 1105.5h2M1127.5 1072.5h2M1065.5 1068.5h2M1076 1071.5h2M1097.5 1090.5h2M1094 1065.5h2M1087.5 1083.5h2M1109.5 1066.5h2M1125.5 1083.5h2M1063 1087.5h2M1148 1085.5h2M1078.5 1062.5h2M1040.5 1087.5h2M1056.5 1081.5h2M1089 1070.5h2M1081 1101.5h2M1075 1077.5h2M1047.5 1069.5h2M1107.5 1066.5h2M1144.5 1064.5h2M1073 1054.5h2M1094.5 1072.5h2M1077.5 1070.5h2M1085 1074.5h2M1085 1085.5h2M1051 1071.5h2M1130.5 1054.5h2M1145 1075.5h2M1050.5 1080.5h2M1098.5 1083.5h2M1030.5 1090.5h2M1079 1078.5h2M1124 1078.5h2M1074.5 1072.5h2M1070.5 1068.5h2M1129.5 1091.5h2M1078 1085.5h2M1085.5 1085.5h2M1042.5 1078.5h2M1108.5 1082.5h2M1104 1086.5h2M1148 1091.5h2M1064.5 1072.5h2M1060.5 1072.5h2M1128 1082.5h2M1083.5 1056.5h2M1045.5 1058.5h2M1015.5 1079.5h2M1055 1047.5h2M1036 1063.5h2M1059.5 1064.5h2M1064 1053.5h2M1084.5 1044.5h2M1067 1052.5h2M1079 1040.5h2M1073.5 1054.5h2M1070 1044.5h2M1057 1070.5h2M1067.5 1060.5h2M1049 1059.5h2M1065 1045.5h2M1036.5 1046.5h2M1076.5 1058.5h2M1064.5 1057.5h2M1043.5 1078.5h2M1075.5 1052.5h2M1051 1060.5h2M1043.5 1064.5h2M1066 1065.5h2M1070.5 1073.5h2M1057 1063.5h2M1058 1067.5h2M1072.5 1048.5h2M1090 1060.5h2M1048 1049.5h2M1071 1065.5h2M1048.5 1060.5h2M1049.5 1070.5h2M1110 1078.5h2M1030 1074.5h2M1051 1042.5h2M1078 1052.5h2M1028 1070.5h2M1064.5 1065.5h2M1074 1045.5h2M1062.5 1057.5h2M1185 1009.5h2M1176 989.5h2M1173.5 994.5h2M1195 984.5h2M1188 1019.5h2M1172 994.5h2M1177.5 1013.5h2M1198 965.5h2M1178 1016.5h2M1165.5 1013.5h2M1161.5 1028.5h2M1171.5 1013.5h2M1176 1003.5h2M1178.5 989.5h2M1180 986.5h2M1178.5 1020.5h2M1169.5 992.5h2M1171 967.5h2M1165 1021.5h2M1186.5 1010.5h2M1208 1011.5h2M1195 1005.5h2M1205 999.5h2M1179.5 1009.5h2M1182 1000.5h2M1156 1028.5h2M1153.5 999.5h2M1188 993.5h2M1201.5 1015.5h2M1167.5 1015.5h2M1188.5 1006.5h2M1331 956.5h2M1333.5 949.5h2M1314.5 959.5h2M1281 981.5h2M1326.5 959.5h2M1291.5 971.5h2M1281.5 993.5h2M1279 967.5h2M1285.5 993.5h2M1252 1017.5h2M1305 961.5h2M1209 1025.5h2M1324 966.5h2M1269 991.5h2M1300 952.5h2M1246 1004.5h2M1306 979.5h2M1349.5 953.5h2M1259.5 984.5h2M1307 955.5h2M1301.5 964.5h2M1234 1022.5h2M1271.5 982.5h2M1306.5 970.5h2M1258 984.5h2M1311.5 966.5h2M1336.5 965.5h2M1285.5 997.5h2M1314.5 962.5h2M1317 971.5h2M1258 987.5h2M1284 1005.5h2M1342 954.5h2M1281 988.5h2M1319 982.5h2M1292.5 967.5h2M1247 990.5h2M1253 1003.5h2M1314.5 955.5h2M1337.5 947.5h2M1306 956.5h2M1264 990.5h2M1263.5 1001.5h2M1290.5 977.5h2M1271.5 1009.5h2M1286 997.5h2M1290 973.5h2M1279 981.5h2M1215 1010.5h2M1319 959.5h2M1301.5 955.5h2M1366 961.5h2M1296 987.5h2M1304 969.5h2M1317.5 964.5h2M1289.5 968.5h2M1286 999.5h2M1269 988.5h2M1258.5 994.5h2M1248 1004.5h2M1276.5 977.5h2M1325.5 962.5h2M1260 987.5h2M1323.5 957.5h2M1293.5 968.5h2M1274.5 971.5h2M1251.5 985.5h2M1312.5 973.5h2M1314 961.5h2M1297.5 976.5h2M1262.5 1001.5h2M1254 1002.5h2M1311 986.5h2M1249.5 1008.5h2M1328.5 954.5h2M1306.5 963.5h2M1338 966.5h2M1313 968.5h2M1299 982.5h2M1305.5 982.5h2M1342.5 946.5h2M1303 952.5h2M1293.5 976.5h2M1243.5 996.5h2M1270.5 988.5h2M1250.5 1001.5h2M1229.5 988.5h2M1297 990.5h2M1328 958.5h2M1287 990.5h2M1271 981.5h2M1306.5 966.5h2M1313.5 970.5h2M1262.5 977.5h2M1316.5 977.5h2M1299.5 980.5h2M1265 981.5h2M1235 1012.5h2M1314 979.5h2M1309 955.5h2M1287.5 974.5h2M1333.5 954.5h2M1295.5 988.5h2M1236.5 1015.5h2M1281.5 982.5h2M1276 1004.5h2M1268 987.5h2M1310 960.5h2M1287 979.5h2M1260 1005.5h2M1321 948.5h2M1295 976.5h2M1351 949.5h2M1317.5 991.5h2M1309.5 986.5h2M1274 988.5h2M1292 969.5h2M1282 984.5h2M1296 959.5h2M1267 997.5h2M1285 966.5h2M1305 967.5h2M1298 962.5h2M1328.5 951.5h2M1304 970.5h2M1264 997.5h2M1285.5 979.5h2M1257 1010.5h2M1318 938.5h2M1265 1018.5h2M1263.5 988.5h2M1300.5 975.5h2M1284 990.5h2M1305.5 958.5h2M1261 1016.5h2M1281.5 979.5h2M1249.5 1010.5h2M1269 990.5h2M1354 964.5h2M1296.5 979.5h2M1294.5 952.5h2M1249 1012.5h2M1308 984.5h2M1338 940.5h2M1309 966.5h2M1273 1002.5h2M1295.5 966.5h2M1285 990.5h2M1322.5 955.5h2M1256.5 1015.5h2M1302 960.5h2M1262.5 982.5h2M1311.5 965.5h2M1281.5 981.5h2M1280 1007.5h2M1323 977.5h2M1283 999.5h2M1283.5 998.5h2M1316 932.5h2M1306.5 875.5h2M1299.5 872.5h2M1314.5 873.5h2M1313 861.5h2M1295 871.5h2M1321.5 858.5h2M1317.5 862.5h2M1305.5 870.5h2M1302 859.5h2M1292 865.5h2M1313.5 872.5h2M1321 872.5h2M1293.5 865.5h2M1293.5 875.5h2M1337 861.5h2M1392 862.5h2M1299 868.5h2M1318.5 853.5h2M1348.5 855.5h2M1303 872.5h2M1322 860.5h2M1385 857.5h2M1353 860.5h2M1310.5 867.5h2M1404.5 853.5h2M1398 853.5h2M1369 862.5h2M1296 870.5h2M1329.5 861.5h2M1334.5 857.5h2M1351 860.5h2M1342.5 851.5h2M1250 869.5h2M1310.5 865.5h2M1270 859.5h2M1284.5 865.5h2M1349.5 857.5h2M1205 877.5h2M1316 863.5h2M1348.5 867.5h2M1383 850.5h2M1334 866.5h2M1352 862.5h2M1393.5 867.5h2M1333 858.5h2M1368.5 862.5h2M1391 850.5h2M1286.5 870.5h2M1294 861.5h2M1307.5 872.5h2M1320.5 860.5h2M1318 855.5h2M1366 856.5h2M1279.5 856.5h2M1290.5 862.5h2M1394 845.5h2M1285 868.5h2M1261 870.5h2M1185.5 872.5h2M1326.5 856.5h2M1325.5 854.5h2M1214.5 878.5h2M1302 864.5h2M1307.5 862.5h2M1371 857.5h2M1275.5 864.5h2M1273 868.5h2M1272.5 870.5h2M1391 858.5h2M1315 871.5h2M1225.5 865.5h2M1247 880.5h2M1300.5 861.5h2M1263 878.5h2M1292 863.5h2M1257 875.5h2M1336.5 857.5h2M1314 868.5h2M1417.5 855.5h2M1332 857.5h2M1351 869.5h2M1304.5 867.5h2M1353 845.5h2M1365.5 865.5h2M1229 873.5h2M1216.5 865.5h2M1225 864.5h2M1229.5 867.5h2M1201.5 863.5h2M1214.5 880.5h2M1201.5 880.5h2M1260 871.5h2M1213 879.5h2M1234.5 867.5h2M1234.5 872.5h2M1237 861.5h2M1231 871.5h2M1219.5 866.5h2M1212 874.5h2M1228.5 873.5h2M1240 864.5h2M1238.5 862.5h2M1221 869.5h2M1225 858.5h2M1252.5 867.5h2M1226.5 860.5h2M1230 866.5h2M1202.5 875.5h2M1250.5 858.5h2M1258.5 871.5h2M1316.5 856.5h2M1336.5 864.5h2M1346 868.5h2M1330 861.5h2M1290 870.5h2M1324 868.5h2M1303 869.5h2M1294.5 869.5h2M1336.5 859.5h2M1325.5 870.5h2M1318 875.5h2M1314.5 872.5h2M1319 863.5h2M1338.5 865.5h2M1314.5 857.5h2M1310 867.5h2M1318.5 860.5h2M1300 862.5h2M1325.5 862.5h2M1351.5 862.5h2M1327 871.5h2M1287.5 867.5h2M1343.5 865.5h2M1307.5 861.5h2M1304 863.5h2M1305 873.5h2M1323 869.5h2M1315.5 870.5h2M1325.5 864.5h2M1333.5 864.5h2M1320 867.5h2M1328.5 864.5h2M1306.5 869.5h2M1322.5 865.5h2M1342 860.5h2M1310.5 872.5h2M1335 858.5h2M1322 867.5h2M1312.5 869.5h2M1314.5 862.5h2M1328 865.5h2M1327.5 870.5h2M1320.5 1032.5h2M1094 987.5h2M1278.5 1102.5h2M1043.5 986.5h2M1192.5 959.5h2M1106.5 817.5h2M1272.5 1055.5h2M1402 1051.5h2M1284.5 966.5h2M1006.5 983.5h2" stroke="#121a74" stroke-width="1.25" fill="none"/><path d="M1116.5 1055.5h2M1048 1062.5h2M1122.5 1003.5h2M1064.5 1078.5h2M1162.5 1024.5h2M1165 1016.5h2M1158 1036.5h2M1138.5 1043.5h2M1050.5 1044.5h2M1142 997.5h2M1101 1092.5h2M1109 1066.5h2M1091 1060.5h2M1109 1017.5h2M1088.5 1016.5h2M1133.5 997.5h2M1086.5 1019.5h2M1097.5 970.5h2M1106.5 1041.5h2M1110 1012.5h2M1129 1051.5h2M1143 1007.5h2M1168 988.5h2M1164.5 1018.5h2M1122 1053.5h2M1052 1062.5h2M1083 1058.5h2M1043.5 1072.5h2M1068.5 1077.5h2M1129.5 1016.5h2M1031.5 1061.5h2M1057.5 1076.5h2M1111.5 1067.5h2M1157.5 1025.5h2M1118 1013.5h2M1101.5 997.5h2M1056.5 1052.5h2M1098 1042.5h2M1064.5 1023.5h2M1053.5 1072.5h2M1043.5 1042.5h2M1132.5 1001.5h2M1092.5 1021.5h2M1113.5 1065.5h2M1038 1047.5h2M1120.5 1022.5h2M1184 1018.5h2M1136.5 1034.5h2M1157 984.5h2M1047 1055.5h2M1110.5 1000.5h2M1052.5 1053.5h2M1079.5 1019.5h2M1132.5 994.5h2M1132.5 1008.5h2M1106 1045.5h2M1073 1056.5h2M1055 1070.5h2M1055 1041.5h2M1166.5 1013.5h2M1160 1025.5h2M1041 1073.5h2M1106 1029.5h2M1126 1032.5h2M1121.5 996.5h2M1097 1016.5h2M1102.5 994.5h2M1122.5 1046.5h2M1126 989.5h2M1134.5 1028.5h2M1052 1042.5h2M1050.5 1026.5h2M1106 1048.5h2M1101.5 1047.5h2M1098 1031.5h2M1134 1052.5h2M1064 1014.5h2M1162.5 1001.5h2M1071 1048.5h2M1072.5 1062.5h2M1146.5 1012.5h2M1145 1012.5h2M1055 1045.5h2M1127.5 1046.5h2M1124.5 1006.5h2M1002.5 1041.5h2M1135.5 1007.5h2M1058 1020.5h2M1071 1010.5h2M1104 1022.5h2M1138.5 1015.5h2M1046 1038.5h2M1123 1013.5h2M1080 1036.5h2M1156.5 996.5h2M1086 1005.5h2M1154 997.5h2M1113 1024.5h2M1078 1042.5h2M1128 1040.5h2M1132 1034.5h2M1140.5 990.5h2M1099.5 1049.5h2M1027.5 1052.5h2M1093 1017.5h2M1132.5 1005.5h2M1020 1037.5h2M1086.5 989.5h2M1108 1017.5h2M1129 1045.5h2M1043.5 1043.5h2M1132 996.5h2M1056.5 1070.5h2M1120.5 1005.5h2M1103.5 1023.5h2M1065 1034.5h2M1102.5 1070.5h2M1125.5 996.5h2M1166 991.5h2M1083 1014.5h2M1055 1077.5h2M1061.5 1036.5h2M1148.5 992.5h2M1070 1028.5h2M1107 1054.5h2M1035.5 1043.5h2M1172 1031.5h2M1121 1051.5h2M1122 1052.5h2M1129.5 1056.5h2M1144.5 988.5h2M1053 1050.5h2M1097 1045.5h2M1147.5 996.5h2M1054 1048.5h2M1090 1052.5h2M1053.5 1020.5h2M1175.5 1016.5h2M1042 1051.5h2M1134.5 1031.5h2M1077.5 1022.5h2M1067.5 1050.5h2M1056 1020.5h2M1052.5 1043.5h2M1154.5 1028.5h2M1032 1052.5h2M1055.5 1052.5h2M1126.5 1059.5h2M1063 1063.5h2M1036.5 1045.5h2M1070.5 1054.5h2M1074.5 1049.5h2M1139 998.5h2M1133 1036.5h2M1097 1051.5h2M1137 1027.5h2M1123 1010.5h2M1051 1043.5h2M1049 1033.5h2M1060 1047.5h2M1138.5 1032.5h2M1138 973.5h2M1115.5 1060.5h2M1097.5 1062.5h2M1173 1022.5h2M1033.5 1044.5h2M1149.5 1037.5h2M1105.5 1021.5h2M1071 1062.5h2M1096.5 1021.5h2M1117 1039.5h2M1033 1058.5h2M1134 1029.5h2M1087.5 1054.5h2M1160.5 1004.5h2M1100 1069.5h2M1094 1018.5h2M1034.5 1066.5h2M1124.5 1008.5h2M1026 1109.5h2M1135.5 969.5h2M1164 987.5h2M1082.5 1048.5h2M1031.5 1062.5h2M1045.5 1039.5h2M1118.5 990.5h2M1107.5 1004.5h2M1056 1046.5h2M1120 1059.5h2M1173 980.5h2M1051.5 1076.5h2M1107 999.5h2M1061 1078.5h2M1116 1042.5h2M1140.5 1017.5h2M1081 1026.5h2M1048 1058.5h2M1112 1009.5h2M1141.5 1022.5h2M1121 1000.5h2M1174 1022.5h2M1105.5 1004.5h2M1150.5 992.5h2M1123 1065.5h2M1080.5 1059.5h2M1099 1070.5h2M1174.5 1024.5h2M1104.5 1005.5h2M1076 1020.5h2M1046 1036.5h2M1121.5 993.5h2M1101.5 1063.5h2M1099.5 1025.5h2M1035.5 1065.5h2M1129 1053.5h2M1111 1028.5h2M1164 1024.5h2M1082.5 1047.5h2M1077 1038.5h2M1061.5 1034.5h2M1102.5 974.5h2M1045 1081.5h2M1050.5 1078.5h2M1090.5 1001.5h2M1084 1049.5h2M1048.5 1070.5h2M1128.5 1051.5h2M1112 1052.5h2M1113.5 1050.5h2M1059 1040.5h2M1138.5 997.5h2M1042.5 1059.5h2M1176 1005.5h2M1106.5 1048.5h2M1055 1040.5h2M1065.5 1059.5h2M1096.5 1046.5h2M1152 1046.5h2M1147 1015.5h2M1098 1045.5h2M1169 1021.5h2M1039 1069.5h2M1057.5 1036.5h2M1037.5 1069.5h2M1063.5 1033.5h2M1101.5 1064.5h2M1045 1063.5h2M1065 1059.5h2M1131.5 1057.5h2M1079 1005.5h2M1123.5 1053.5h2M1099.5 1000.5h2M1153.5 1030.5h2M1100 1063.5h2M1070.5 1061.5h2M1144.5 1034.5h2M1095 987.5h2M1083.5 1039.5h2M1156 1025.5h2M1139 991.5h2M1114 999.5h2M1017.5 1036.5h2M1108.5 1041.5h2M1097 1070.5h2M1028.5 1037.5h2M1149 983.5h2M1116.5 1011.5h2M1055.5 1033.5h2M1041 1072.5h2M1050.5 1069.5h2M1127.5 1018.5h2M1082.5 1018.5h2M1175 1005.5h2M1044 1068.5h2M1136 1049.5h2M1060 1056.5h2M1090 1046.5h2M1174.5 1018.5h2M1072 1053.5h2M1177.5 996.5h2M1105 1056.5h2M1105 1038.5h2M1107 1021.5h2M1094.5 1011.5h2M1099.5 1013.5h2M1038 1069.5h2M1068.5 1071.5h2M1040 1074.5h2M1072.5 1023.5h2M1109 1014.5h2M1097 1000.5h2M1076 1037.5h2M1108.5 1053.5h2M1103.5 1019.5h2M1034 1065.5h2M1106.5 984.5h2M1201 1035.5h2M1162 1009.5h2M1102.5 1018.5h2M1051.5 1026.5h2M1026.5 1036.5h2M1105 1068.5h2M1115.5 1023.5h2M1074.5 1018.5h2M1069.5 1019.5h2M1104 1081.5h2M1118 1072.5h2M1087.5 1021.5h2M1223 985.5h2M1075.5 1025.5h2M1067 1024.5h2M1061 1072.5h2M1072.5 1085.5h2M1090.5 1060.5h2M1108 1051.5h2M1064 1065.5h2M1066 1053.5h2M1078 1056.5h2M1074.5 1008.5h2M1147 1014.5h2M1168 998.5h2M1161 1012.5h2M1101 1059.5h2M1081 1075.5h2M1030.5 1052.5h2M1175 1003.5h2M1171 995.5h2M1070.5 1017.5h2M1092 1032.5h2M1078 1070.5h2M1089.5 1045.5h2M1055.5 1075.5h2M1090.5 1032.5h2M1138 1009.5h2M1170 1037.5h2M1180.5 1025.5h2M1112.5 1028.5h2M1035 1066.5h2M1123 1047.5h2M1052.5 1055.5h2M1171 996.5h2M1136 1033.5h2M1073 1036.5h2M1079.5 1004.5h2M1038 1081.5h2M1156 1003.5h2M1049.5 1057.5h2M1098.5 1009.5h2M1078.5 1007.5h2M1073.5 1081.5h2M1037 1043.5h2M1123 1014.5h2M1146 990.5h2M1077.5 1057.5h2M1134.5 1024.5h2M1068.5 1038.5h2M1183 1015.5h2M1105 1065.5h2M1169.5 1029.5h2M1149 997.5h2M1069 1080.5h2M1136 1065.5h2M1160.5 1037.5h2M1108 1050.5h2M1059 1056.5h2M1056.5 1046.5h2M1058 1036.5h2M1106.5 1033.5h2M1056.5 1062.5h2M1120.5 1007.5h2M1078.5 1043.5h2M1046.5 1061.5h2M1085.5 1022.5h2M1154.5 976.5h2M1119.5 1034.5h2M1098 1006.5h2M1070 1069.5h2M1088 1095.5h2M1179.5 888.5h2M1060.5 954.5h2M1155.5 968.5h2M1125.5 947.5h2M1135.5 980.5h2M1057.5 1001.5h2M1057.5 980.5h2M1184.5 949.5h2M1167 989.5h2M1116.5 993.5h2M1148.5 987.5h2M1266 914.5h2M1089 956.5h2M1115.5 929.5h2M1158 980.5h2M1032 977.5h2M1189.5 928.5h2M1128.5 969.5h2M1052 965.5h2M1157 958.5h2M1142 1019.5h2M1219.5 937.5h2M1132.5 1006.5h2M1059.5 1007.5h2M1157 962.5h2M1151 868.5h2M1078.5 983.5h2M1056.5 1040.5h2M1065 1105.5h2M1057 1097.5h2M1118.5 1081.5h2M1114.5 1080.5h2M1053 1091.5h2M1118.5 1066.5h2M1141 1063.5h2M1077.5 1093.5h2M1058.5 1082.5h2M1061 1082.5h2M1121 1071.5h2M1080.5 1065.5h2M1083.5 1076.5h2M1053.5 1099.5h2M1092 1079.5h2M1105.5 1078.5h2M1104.5 1081.5h2M1054.5 1084.5h2M1135 1082.5h2M1128.5 1076.5h2M1071.5 1085.5h2M1136.5 1090.5h2M1067.5 1077.5h2M1068 1072.5h2M1089 1073.5h2M1081.5 1080.5h2M1119 1068.5h2M1049.5 1082.5h2M1099 1065.5h2M1106 1065.5h2M1092 1090.5h2M1120 1083.5h2M1112 1075.5h2M1035.5 1096.5h2M1050.5 1087.5h2M1083.5 1079.5h2M1048.5 1077.5h2M1090.5 1089.5h2M1073.5 1088.5h2M1076 1082.5h2M1046 1107.5h2M1091.5 1085.5h2M1131.5 1059.5h2M1070 1082.5h2M1096.5 1076.5h2M1068.5 1057.5h2M1080 1089.5h2M1117 1051.5h2M1053 1080.5h2M1060 1083.5h2M1081 1084.5h2M1110 1080.5h2M1123 1090.5h2M1101.5 1059.5h2M1048.5 1103.5h2M1079 1059.5h2M1038 1045.5h2M1079 1055.5h2M1066 1074.5h2M1063 1073.5h2M1084.5 1047.5h2M1017.5 1049.5h2M1095 1047.5h2M1051 1076.5h2M1024.5 1089.5h2M1055.5 1058.5h2M1058.5 1057.5h2M1060 1062.5h2M1040.5 1038.5h2M1044 1052.5h2M1051.5 1053.5h2M1062 1065.5h2M1035.5 1055.5h2M1059.5 1049.5h2M1060 1055.5h2M1022.5 1059.5h2M1074.5 1062.5h2M1043.5 1071.5h2M1027.5 1059.5h2M1057 1066.5h2M1081.5 1030.5h2M1079 1068.5h2M1053 1076.5h2M1061 1058.5h2M1075.5 1057.5h2M1054.5 1078.5h2M1058.5 1055.5h2M1089.5 1043.5h2M1084 1060.5h2M1072 1061.5h2M1066 1047.5h2M1177 1005.5h2M1195.5 1000.5h2M1174 1010.5h2M1167.5 1009.5h2M1156 1023.5h2M1154 989.5h2M1161.5 1021.5h2M1174.5 1002.5h2M1203 1014.5h2M1182 1014.5h2M1193 1012.5h2M1187 1006.5h2M1173.5 997.5h2M1183 1010.5h2M1179 1001.5h2M1185.5 1005.5h2M1186 1008.5h2M1187 1012.5h2M1151 1015.5h2M1203.5 971.5h2M1178.5 979.5h2M1190.5 1001.5h2M1185 1004.5h2M1167.5 1010.5h2M1172.5 1036.5h2M1210 1012.5h2M1166 1024.5h2M1292 970.5h2M1301 988.5h2M1343.5 936.5h2M1307 953.5h2M1339 952.5h2M1292 976.5h2M1272.5 994.5h2M1302.5 961.5h2M1258 1000.5h2M1314.5 953.5h2M1293 956.5h2M1314.5 980.5h2M1309 969.5h2M1315 960.5h2M1247 991.5h2M1297 959.5h2M1349 961.5h2M1320 955.5h2M1341 938.5h2M1361.5 930.5h2M1284.5 971.5h2M1303.5 963.5h2M1328 969.5h2M1249 1001.5h2M1221.5 1047.5h2M1223 1009.5h2M1273.5 986.5h2M1281.5 1000.5h2M1287 959.5h2M1329.5 956.5h2M1303.5 957.5h2M1309 964.5h2M1253 1008.5h2M1303.5 978.5h2M1289.5 988.5h2M1299 992.5h2M1307.5 956.5h2M1262.5 1000.5h2M1334.5 950.5h2M1258 994.5h2M1318 968.5h2M1273.5 984.5h2M1329.5 954.5h2M1256 1009.5h2M1241.5 1028.5h2M1364 935.5h2M1269.5 994.5h2M1304.5 973.5h2M1298 953.5h2M1272 996.5h2M1309 942.5h2M1324.5 962.5h2M1270.5 992.5h2M1298.5 971.5h2M1314.5 942.5h2M1328 964.5h2M1333 941.5h2M1314.5 961.5h2M1267.5 983.5h2M1291 977.5h2M1306.5 956.5h2M1322 957.5h2M1372 943.5h2M1345.5 950.5h2M1271.5 985.5h2M1303.5 980.5h2M1275 1001.5h2M1251.5 998.5h2M1276 987.5h2M1310.5 958.5h2M1300.5 987.5h2M1278 999.5h2M1342.5 948.5h2M1302.5 985.5h2M1310 975.5h2M1335 950.5h2M1301 979.5h2M1264.5 990.5h2M1264 1008.5h2M1341 970.5h2M1262 1008.5h2M1322.5 954.5h2M1320 972.5h2M1337 944.5h2M1305.5 980.5h2M1309.5 978.5h2M1278.5 999.5h2M1302 969.5h2M1276.5 1010.5h2M1329 951.5h2M1270 1000.5h2M1350 967.5h2M1276 1003.5h2M1271.5 995.5h2M1266 992.5h2M1272 976.5h2M1344 961.5h2M1313 979.5h2M1269.5 985.5h2M1271 985.5h2M1317.5 987.5h2M1333 946.5h2M1292.5 966.5h2M1285 974.5h2M1301 960.5h2M1266 1008.5h2M1304 961.5h2M1328 952.5h2M1306.5 961.5h2M1294.5 977.5h2M1297.5 964.5h2M1373 964.5h2M1332 952.5h2M1301.5 956.5h2M1248.5 1020.5h2M1348.5 957.5h2M1289.5 1003.5h2M1327 950.5h2M1311 980.5h2M1279.5 970.5h2M1318.5 958.5h2M1256.5 1002.5h2M1347.5 953.5h2M1290 977.5h2M1323 957.5h2M1269.5 967.5h2M1316 954.5h2M1257.5 997.5h2M1369.5 861.5h2M1258 863.5h2M1291.5 872.5h2M1372.5 858.5h2M1348.5 863.5h2M1389.5 851.5h2M1402 856.5h2M1387 862.5h2M1370 860.5h2M1232.5 871.5h2M1376 857.5h2M1406.5 852.5h2M1300.5 865.5h2M1353.5 859.5h2M1317 866.5h2M1397 857.5h2M1284.5 871.5h2M1324 861.5h2M1336.5 852.5h2M1312.5 858.5h2M1356 859.5h2M1245 867.5h2M1362 868.5h2M1335.5 858.5h2M1280.5 874.5h2M1387.5 864.5h2M1319 872.5h2M1368 862.5h2M1345.5 850.5h2M1275 868.5h2M1349.5 862.5h2M1312.5 856.5h2M1334 862.5h2M1293 864.5h2M1310.5 871.5h2M1319.5 868.5h2M1380 864.5h2M1279 871.5h2M1350 862.5h2M1373.5 859.5h2M1379 861.5h2M1277 866.5h2M1251 874.5h2M1334 852.5h2M1302 877.5h2M1333.5 865.5h2M1353.5 851.5h2M1336.5 861.5h2M1387.5 860.5h2M1295.5 871.5h2M1233.5 868.5h2M1278 867.5h2M1291 865.5h2M1324 863.5h2M1201 868.5h2M1255 881.5h2M1366 860.5h2M1273.5 875.5h2M1274 864.5h2M1311.5 866.5h2M1255 866.5h2M1337.5 861.5h2M1425 852.5h2M1327.5 862.5h2M1288.5 863.5h2M1280.5 866.5h2M1350 856.5h2M1249.5 858.5h2M1272 872.5h2M1453 855.5h2M1263 866.5h2M1309 864.5h2M1286.5 874.5h2M1324 858.5h2M1315 864.5h2M1272.5 871.5h2M1328 859.5h2M1301 857.5h2M1353 856.5h2M1274.5 871.5h2M1256.5 869.5h2M1300.5 863.5h2M1415.5 849.5h2M1373 851.5h2M1306 861.5h2M1287 868.5h2M1322.5 867.5h2M1339.5 863.5h2M1292.5 874.5h2M1399 852.5h2M1322.5 862.5h2M1291.5 873.5h2M1334 855.5h2M1258.5 864.5h2M1395 859.5h2M1269.5 873.5h2M1352.5 853.5h2M1448 853.5h2M1296 866.5h2M1395.5 861.5h2M1274 868.5h2M1293.5 860.5h2M1379.5 860.5h2M1375.5 844.5h2M1346.5 865.5h2M1288.5 857.5h2M1295 861.5h2M1319 859.5h2M1398.5 858.5h2M1276 868.5h2M1295.5 861.5h2M1255 871.5h2M1232 873.5h2M1214 865.5h2M1223.5 870.5h2M1237 873.5h2M1233 866.5h2M1222.5 873.5h2M1239.5 868.5h2M1238 866.5h2M1230.5 865.5h2M1200.5 871.5h2M1208 870.5h2M1230.5 872.5h2M1213.5 872.5h2M1222.5 872.5h2M1214.5 870.5h2M1221.5 867.5h2M1243.5 870.5h2M1214 876.5h2M1253.5 879.5h2M1201 872.5h2M1241 872.5h2M1242.5 861.5h2M1219 858.5h2M1224 868.5h2M1318.5 862.5h2M1313.5 859.5h2M1336.5 858.5h2M1317.5 859.5h2M1297.5 863.5h2M1323.5 871.5h2M1276 870.5h2M1306.5 865.5h2M1308.5 866.5h2M1310 871.5h2M1332 859.5h2M1318 861.5h2M1334 859.5h2M1293 870.5h2M1298.5 863.5h2M1289.5 871.5h2M1325 859.5h2M1315 868.5h2M1298.5 870.5h2M1327.5 859.5h2M1314.5 864.5h2M1329 864.5h2M1324.5 859.5h2M1340.5 867.5h2M1317.5 865.5h2M1345.5 866.5h2M1150.5 938.5h2M1071 965.5h2M1142.5 850.5h2M1211.5 866.5h2M1238 799.5h2M1298 786.5h2M1272.5 915.5h2M1262 1094.5h2M1041.5 1027.5h2M1136.5 1037.5h2M1282.5 949.5h2" stroke="#18227e" stroke-width="1.25" fill="none"/><path d="M1074 1049.5h2M1134.5 1023.5h2M1063 1065.5h2M1138.5 1005.5h2M1097 1055.5h2M1153 1040.5h2M1053 1064.5h2M1115.5 1063.5h2M1138 1044.5h2M1117 1025.5h2M1153 995.5h2M1136.5 969.5h2M1188.5 985.5h2M1170.5 976.5h2M1113.5 1041.5h2M1050.5 1036.5h2M1086.5 1013.5h2M1048 1055.5h2M1088 1038.5h2M1125.5 1061.5h2M1166 1002.5h2M1147.5 1046.5h2M1092 1057.5h2M1137 1024.5h2M1090 1027.5h2M1122 1054.5h2M1146.5 1039.5h2M1091.5 1024.5h2M1077 1087.5h2M1096 1037.5h2M1094.5 1071.5h2M1170.5 1010.5h2M1089.5 1000.5h2M1058.5 1050.5h2M1075 1023.5h2M1148.5 984.5h2M1066.5 1069.5h2M1063 1076.5h2M1150.5 993.5h2M1089 1033.5h2M1106 1060.5h2M1048 1036.5h2M1074.5 1057.5h2M1075 1007.5h2M1061.5 1056.5h2M1060.5 1044.5h2M1069 1046.5h2M1096 1057.5h2M1141.5 1024.5h2M1142.5 996.5h2M1084.5 1009.5h2M1165 1030.5h2M1101 1041.5h2M1119 1064.5h2M1150 993.5h2M1138.5 1028.5h2M1149.5 994.5h2M1157 1015.5h2M1115.5 1059.5h2M1089.5 1058.5h2M1120.5 1050.5h2M1054 1067.5h2M1140 1053.5h2M1038 1028.5h2M1099.5 996.5h2M1054 1078.5h2M1080 1015.5h2M1086 1067.5h2M1128.5 1006.5h2M1088.5 1003.5h2M1161 1017.5h2M1035.5 1067.5h2M1067.5 1032.5h2M1105 1014.5h2M1100.5 1026.5h2M1053 1015.5h2M1041.5 1068.5h2M1146 1008.5h2M1048 1070.5h2M1117.5 996.5h2M1062 1035.5h2M1072 1055.5h2M1165.5 996.5h2M1153.5 991.5h2M1135 1041.5h2M1150.5 1008.5h2M1059 1046.5h2M1154 1035.5h2M1117 1029.5h2M1128 1058.5h2M1065 1015.5h2M1138 990.5h2M1096.5 1080.5h2M1134.5 999.5h2M1068.5 1002.5h2M1148 976.5h2M1081 1032.5h2M1062.5 1042.5h2M1150.5 1024.5h2M1043.5 1054.5h2M1150.5 1019.5h2M1049 1030.5h2M1018.5 1070.5h2M1126 1053.5h2M1052 1055.5h2M1118.5 1004.5h2M1073.5 1029.5h2M1147.5 1048.5h2M1106.5 1063.5h2M1090.5 1026.5h2M1069.5 1069.5h2M1096 991.5h2M1100.5 1035.5h2M1129 1054.5h2M1126.5 999.5h2M1031.5 1064.5h2M1141 1051.5h2M1126.5 1024.5h2M1099 1009.5h2M1070.5 1011.5h2M1068 1064.5h2M1098 1056.5h2M1103 1061.5h2M1048 1067.5h2M1150 952.5h2M1062 1018.5h2M1087.5 1026.5h2M1110 1010.5h2M1066.5 1074.5h2M1133 1002.5h2M1091 1008.5h2M1062.5 1053.5h2M1143 1009.5h2M1127.5 1044.5h2M1128 1044.5h2M1153 1032.5h2M1081 1039.5h2M1051.5 1061.5h2M1079.5 1071.5h2M1131.5 1019.5h2M1046.5 1067.5h2M1169 1004.5h2M1123 1061.5h2M1051.5 1042.5h2M1137 1041.5h2M1144 990.5h2M1097 1066.5h2M1148.5 990.5h2M1121 996.5h2M1143.5 1049.5h2M1106 1011.5h2M1161.5 1019.5h2M1131 1051.5h2M1081.5 1054.5h2M1055 1057.5h2M1054 1076.5h2M1080.5 1044.5h2M1179 1028.5h2M1074.5 1021.5h2M1068.5 1042.5h2M1097 1073.5h2M1063.5 1056.5h2M1064 1015.5h2M1146 1004.5h2M1058.5 1070.5h2M1085.5 1061.5h2M1135.5 1052.5h2M1147 1020.5h2M1076.5 1021.5h2M1135.5 1018.5h2M1111 1013.5h2M1046.5 1078.5h2M1109.5 994.5h2M1058 1042.5h2M1064 1075.5h2M1133 992.5h2M1150 1001.5h2M1102.5 1058.5h2M1193.5 972.5h2M1116 1039.5h2M1002.5 1056.5h2M1140 1032.5h2M1107 1048.5h2M1065 1047.5h2M1117 1019.5h2M1172 1001.5h2M1077 1053.5h2M1123.5 1078.5h2M1130.5 1023.5h2M1056.5 1024.5h2M1033.5 1053.5h2M1083.5 1066.5h2M1049 1043.5h2M1135.5 988.5h2M1153 1036.5h2M1054.5 1041.5h2M1126 997.5h2M1106.5 1011.5h2M1129.5 1027.5h2M1155 1024.5h2M1126 1035.5h2M1080.5 1073.5h2M1109 1045.5h2M1043.5 1069.5h2M1050.5 1060.5h2M1076 1057.5h2M1144 1012.5h2M1125 1013.5h2M1093 1022.5h2M1108 1018.5h2M1165 1025.5h2M1144 993.5h2M1032.5 1050.5h2M1118.5 997.5h2M1158 992.5h2M1067.5 987.5h2M1089.5 1027.5h2M1115 1046.5h2M1167.5 1005.5h2M1084 1009.5h2M1096 1066.5h2M1126 1014.5h2M1014.5 1077.5h2M1040 1053.5h2M1124.5 1021.5h2M1082 1061.5h2M1030 1061.5h2M1069 1061.5h2M1112 1056.5h2M1087.5 1009.5h2M1040 1050.5h2M1110 1063.5h2M1081.5 1027.5h2M1108.5 1045.5h2M1157.5 1046.5h2M1128.5 1003.5h2M1040.5 1062.5h2M1066.5 1058.5h2M1110 1020.5h2M1110 1052.5h2M1084 1005.5h2M1101.5 1026.5h2M1161 998.5h2M1055.5 1029.5h2M1045 1066.5h2M1123.5 1007.5h2M1149.5 1008.5h2M1069 1016.5h2M1037.5 1051.5h2M1147.5 1038.5h2M1160.5 1014.5h2M1087 1049.5h2M1080 1030.5h2M1150 1045.5h2M1053 1106.5h2M1069 1034.5h2M1102.5 1027.5h2M1098 1019.5h2M1126 1037.5h2M1136.5 1011.5h2M1029.5 1070.5h2M1044.5 1058.5h2M1123 1036.5h2M1132.5 1026.5h2M1092 1042.5h2M1037.5 1040.5h2M1087.5 1048.5h2M1048 1043.5h2M1047 1067.5h2M1088 1019.5h2M1078.5 1032.5h2M1077 1032.5h2M1083 1065.5h2M1100 1038.5h2M1115 1060.5h2M1170.5 1018.5h2M1084 1023.5h2M1170 1017.5h2M1117.5 1035.5h2M1109.5 998.5h2M1062 1076.5h2M1174 1017.5h2M1098.5 1055.5h2M1117.5 1019.5h2M1132.5 1021.5h2M1115.5 1045.5h2M1120.5 1012.5h2M1142.5 1022.5h2M1187.5 1012.5h2M1082 1019.5h2M1125.5 1037.5h2M1130.5 1012.5h2M1072.5 1064.5h2M1156.5 1036.5h2M1168 1002.5h2M1046.5 1049.5h2M1149.5 1016.5h2M1125.5 1054.5h2M1058 1025.5h2M1074.5 1025.5h2M1113 1067.5h2M1076 1067.5h2M1139 1043.5h2M1166.5 1000.5h2M1108 1024.5h2M1136 1005.5h2M1124 1071.5h2M1168 972.5h2M1047.5 1050.5h2M1131 1065.5h2M1111.5 1053.5h2M1123.5 1006.5h2M1140.5 1057.5h2M1076 1048.5h2M1078.5 1051.5h2M1090.5 1030.5h2M1111.5 1005.5h2M1030.5 1082.5h2M1101.5 1015.5h2M1161.5 1017.5h2M1123.5 1002.5h2M1119 993.5h2M1056 1058.5h2M1054.5 1052.5h2M1102 1010.5h2M1131 1006.5h2M1087 1030.5h2M1106 1058.5h2M1169 997.5h2M1073.5 1043.5h2M1165.5 1020.5h2M1074.5 1076.5h2M1131 1004.5h2M1159.5 1026.5h2M1090 1003.5h2M1072 1054.5h2M1141.5 1077.5h2M1106 1013.5h2M1119 1023.5h2M1126.5 1006.5h2M1092.5 1019.5h2M1078.5 1053.5h2M1106 1037.5h2M1109.5 1061.5h2M1124.5 1000.5h2M1137.5 1012.5h2M1063.5 1064.5h2M1160.5 998.5h2M1036 1054.5h2M1135 1046.5h2M1108 994.5h2M1169 1019.5h2M1076.5 1078.5h2M1095.5 1030.5h2M1120 999.5h2M1056.5 1020.5h2M1132.5 1065.5h2M1121.5 1062.5h2M1175.5 1005.5h2M1093.5 1010.5h2M1141 1003.5h2M1057 1078.5h2M1165 995.5h2M1058.5 1031.5h2M1087 1072.5h2M1118 1043.5h2M1052.5 1074.5h2M1124 1041.5h2M1080.5 1056.5h2M1126 1023.5h2M1094.5 1041.5h2M1043 1090.5h2M1124.5 1046.5h2M1056.5 1054.5h2M1191.5 973.5h2M1114.5 1022.5h2M1084.5 1031.5h2M1127.5 1019.5h2M1101 1065.5h2M1158 995.5h2M1075.5 1065.5h2M1106 1021.5h2M1085.5 1023.5h2M1111 944.5h2M1156 921.5h2M1108 990.5h2M1110 990.5h2M1214 905.5h2M1078 957.5h2M1071.5 938.5h2M1161 979.5h2M996.5 994.5h2M1168.5 1018.5h2M1039.5 997.5h2M1153 960.5h2M1180 971.5h2M1094.5 970.5h2M1185 980.5h2M1284 940.5h2M1181 927.5h2M1195.5 877.5h2M1224.5 993.5h2M1024.5 1009.5h2M1151.5 995.5h2M1123.5 958.5h2M1182 946.5h2M1104 962.5h2M1203.5 995.5h2M1086 978.5h2M1175.5 971.5h2M1088.5 956.5h2M1228 939.5h2M1061.5 1080.5h2M1069 1062.5h2M1071.5 1080.5h2M1168.5 1065.5h2M1141.5 1082.5h2M1062.5 1070.5h2M1114.5 1066.5h2M1092 1070.5h2M1091.5 1067.5h2M1020.5 1099.5h2M1064.5 1062.5h2M1119.5 1067.5h2M1096.5 1094.5h2M1103.5 1086.5h2M1084.5 1068.5h2M1095.5 1061.5h2M1108.5 1069.5h2M1104 1080.5h2M1082.5 1087.5h2M1123.5 1068.5h2M1082.5 1075.5h2M1063 1086.5h2M1101.5 1083.5h2M1088 1071.5h2M1103 1076.5h2M1065.5 1094.5h2M1094 1092.5h2M1060.5 1069.5h2M1106 1093.5h2M1086 1098.5h2M1067 1068.5h2M1125 1073.5h2M1108 1066.5h2M1071.5 1062.5h2M1074 1090.5h2M1142.5 1063.5h2M1099 1094.5h2M1162 1061.5h2M1083 1085.5h2M1124 1061.5h2M1136.5 1075.5h2M1088 1082.5h2M1088 1098.5h2M1076.5 1097.5h2M1073.5 1071.5h2M1058 1053.5h2M1052.5 1045.5h2M1063.5 1062.5h2M1063 1074.5h2M1057.5 1063.5h2M1065.5 1054.5h2M1068 1081.5h2M1055.5 1065.5h2M1082.5 1063.5h2M1056.5 1082.5h2M1074 1065.5h2M1054.5 1067.5h2M1053 1040.5h2M1087 1060.5h2M1062 1052.5h2M1037 1072.5h2M1046.5 1085.5h2M1045 1048.5h2M1047 1053.5h2M1092 1068.5h2M1078 1069.5h2M1080.5 1050.5h2M1075 1054.5h2M1056.5 1041.5h2M1062 1024.5h2M1068 1063.5h2M1039.5 1068.5h2M1080 1078.5h2M1057.5 1071.5h2M1079.5 1039.5h2M1056.5 1061.5h2M1040.5 1069.5h2M1042.5 1079.5h2M1061 1061.5h2M1068 1058.5h2M1054.5 1090.5h2M1040 1060.5h2M1041 1071.5h2M1056.5 1071.5h2M1066.5 1056.5h2M1057.5 1079.5h2M1048.5 1076.5h2M1060 1068.5h2M1068 1054.5h2M1026 1068.5h2M1059 1070.5h2M1031 1074.5h2M1186 1003.5h2M1216 979.5h2M1197 988.5h2M1166.5 997.5h2M1196 1007.5h2M1188 986.5h2M1195.5 1024.5h2M1204 998.5h2M1231 997.5h2M1170 1011.5h2M1197.5 1007.5h2M1183 1028.5h2M1205 1004.5h2M1187 992.5h2M1181.5 1010.5h2M1146 1039.5h2M1188 973.5h2M1192.5 1010.5h2M1176.5 997.5h2M1187.5 996.5h2M1197 992.5h2M1178 1021.5h2M1162 1018.5h2M1138 1018.5h2M1150 1012.5h2M1180.5 1011.5h2M1219 988.5h2M1155 1007.5h2M1172 1000.5h2M1159.5 1012.5h2M1168 1019.5h2M1277 978.5h2M1289.5 983.5h2M1287.5 979.5h2M1273 994.5h2M1275 986.5h2M1277 1002.5h2M1287 982.5h2M1308.5 976.5h2M1265.5 974.5h2M1330.5 970.5h2M1306 960.5h2M1310.5 979.5h2M1292.5 982.5h2M1276 997.5h2M1321 957.5h2M1297 957.5h2M1311 965.5h2M1223 1010.5h2M1267.5 998.5h2M1287 974.5h2M1336.5 956.5h2M1244.5 1010.5h2M1304 963.5h2M1325.5 958.5h2M1263 980.5h2M1259 1012.5h2M1229 1009.5h2M1315.5 966.5h2M1269.5 1006.5h2M1233.5 1011.5h2M1276 981.5h2M1264.5 975.5h2M1335.5 961.5h2M1332 967.5h2M1282 968.5h2M1262.5 999.5h2M1278 996.5h2M1270 992.5h2M1325.5 960.5h2M1285.5 968.5h2M1344 948.5h2M1251.5 1010.5h2M1290.5 985.5h2M1331 944.5h2M1286.5 980.5h2M1234.5 1002.5h2M1301.5 980.5h2M1250 982.5h2M1317 970.5h2M1330.5 955.5h2M1288 985.5h2M1310 972.5h2M1353 944.5h2M1323 953.5h2M1242 996.5h2M1332.5 954.5h2M1227 1011.5h2M1255 1003.5h2M1272 958.5h2M1282.5 981.5h2M1261.5 1019.5h2M1298.5 956.5h2M1226 1024.5h2M1333.5 948.5h2M1342.5 969.5h2M1326.5 974.5h2M1305.5 955.5h2M1225.5 1008.5h2M1330.5 953.5h2M1256 986.5h2M1314 953.5h2M1244.5 1007.5h2M1239 1002.5h2M1317.5 960.5h2M1317.5 979.5h2M1283.5 999.5h2M1247.5 1001.5h2M1333 942.5h2M1333 965.5h2M1294 977.5h2M1257 983.5h2M1246 1013.5h2M1310 958.5h2M1326.5 958.5h2M1330 947.5h2M1263.5 993.5h2M1305 953.5h2M1385 946.5h2M1268 994.5h2M1304.5 950.5h2M1317 967.5h2M1300.5 971.5h2M1303 986.5h2M1286 996.5h2M1301.5 976.5h2M1342.5 952.5h2M1334 970.5h2M1301.5 963.5h2M1252 995.5h2M1333.5 955.5h2M1306 961.5h2M1266 996.5h2M1301.5 971.5h2M1261.5 985.5h2M1314.5 971.5h2M1306 980.5h2M1295 979.5h2M1288 966.5h2M1313 978.5h2M1345 947.5h2M1327 945.5h2M1250 992.5h2M1344 941.5h2M1275 980.5h2M1277 976.5h2M1256 992.5h2M1253.5 1008.5h2M1305 952.5h2M1301.5 966.5h2M1274.5 967.5h2M1351.5 941.5h2M1262.5 996.5h2M1229 1012.5h2M1274.5 994.5h2M1299.5 990.5h2M1314 965.5h2M1287 968.5h2M1278.5 994.5h2M1297 993.5h2M1323 972.5h2M1273 999.5h2M1294.5 981.5h2M1319.5 882.5h2M1343.5 857.5h2M1350.5 856.5h2M1311.5 869.5h2M1312 861.5h2M1348 869.5h2M1319 860.5h2M1324 865.5h2M1285.5 867.5h2M1250 866.5h2M1338.5 858.5h2M1374.5 852.5h2M1343.5 854.5h2M1321 861.5h2M1339.5 871.5h2M1377 860.5h2M1353.5 857.5h2M1306.5 871.5h2M1373.5 870.5h2M1279 878.5h2M1284.5 874.5h2M1186.5 873.5h2M1199 868.5h2M1313 863.5h2M1314.5 854.5h2M1360 864.5h2M1299.5 856.5h2M1331.5 867.5h2M1368.5 855.5h2M1347 866.5h2M1278 863.5h2M1368.5 847.5h2M1300.5 869.5h2M1287.5 868.5h2M1299.5 863.5h2M1245.5 867.5h2M1279 865.5h2M1364 851.5h2M1350 861.5h2M1288.5 859.5h2M1417 853.5h2M1340 856.5h2M1370.5 852.5h2M1382 865.5h2M1236.5 880.5h2M1289 866.5h2M1323 865.5h2M1269.5 867.5h2M1330.5 870.5h2M1254 867.5h2M1242 868.5h2M1286.5 864.5h2M1268 864.5h2M1260 865.5h2M1368 854.5h2M1334.5 869.5h2M1340 869.5h2M1244.5 871.5h2M1330.5 858.5h2M1389 859.5h2M1356 869.5h2M1310 863.5h2M1392.5 858.5h2M1287.5 862.5h2M1300 866.5h2M1347.5 855.5h2M1317.5 867.5h2M1296.5 872.5h2M1281 873.5h2M1364.5 857.5h2M1382 860.5h2M1302 857.5h2M1356 866.5h2M1323.5 860.5h2M1393.5 858.5h2M1256 870.5h2M1346 859.5h2M1335.5 865.5h2M1378 854.5h2M1329 852.5h2M1278.5 867.5h2M1371.5 860.5h2M1421 852.5h2M1358.5 858.5h2M1337.5 857.5h2M1291 875.5h2M1258.5 875.5h2M1307 864.5h2M1303 867.5h2M1295 868.5h2M1164.5 884.5h2M1334.5 859.5h2M1322.5 861.5h2M1355 865.5h2M1297.5 874.5h2M1393.5 859.5h2M1368.5 859.5h2M1408 857.5h2M1321.5 872.5h2M1294.5 863.5h2M1331 865.5h2M1321.5 866.5h2M1311 859.5h2M1316 864.5h2M1219 866.5h2M1194.5 870.5h2M1240.5 873.5h2M1223 861.5h2M1236 868.5h2M1277.5 867.5h2M1220.5 871.5h2M1227 867.5h2M1257.5 871.5h2M1193.5 871.5h2M1260 872.5h2M1200 855.5h2M1204 874.5h2M1230.5 868.5h2M1202 872.5h2M1216.5 864.5h2M1225.5 876.5h2M1231.5 867.5h2M1255.5 865.5h2M1251.5 866.5h2M1224.5 870.5h2M1244 861.5h2M1254 865.5h2M1256 862.5h2M1217 867.5h2M1219.5 863.5h2M1225 877.5h2M1187.5 876.5h2M1314 865.5h2M1307.5 867.5h2M1338 867.5h2M1331 867.5h2M1311 864.5h2M1349 858.5h2M1339 861.5h2M1329 868.5h2M1311 871.5h2M1331 866.5h2M1285 873.5h2M1339 858.5h2M1306 859.5h2M1341.5 858.5h2M1357.5 857.5h2M1309.5 871.5h2M1329.5 868.5h2M1331 859.5h2M1321.5 862.5h2M1335 856.5h2M1313.5 862.5h2M1330 860.5h2M1316 865.5h2M1312 857.5h2M1339.5 868.5h2M1312 873.5h2M1315.5 866.5h2M1325.5 858.5h2M1344.5 858.5h2M1299.5 859.5h2M1329.5 863.5h2M1305 862.5h2M1324.5 861.5h2M1347.5 866.5h2M1270.5 892.5h2M1114 989.5h2M1373.5 995.5h2M997 935.5h2M1105.5 1050.5h2M1207.5 986.5h2M986.5 894.5h2M1179.5 1037.5h2M1141 933.5h2M1087 979.5h2M1412.5 928.5h2M1088 789.5h2M1042.5 946.5h2M1370 911.5h2M1252 866.5h2" stroke="#0e166c" stroke-width="1.25" fill="none"/><path d="M1060.5 1066.5h2M1137.5 1039.5h2M1151 1019.5h2M1048 1054.5h2M1045 1050.5h2M1060 1023.5h2M1083.5 1016.5h2M1121.5 1026.5h2M1130 993.5h2M1150 989.5h2M1049.5 1042.5h2M1167 1017.5h2M1109 1035.5h2M1092.5 1050.5h2M1141 991.5h2M1116.5 1039.5h2M1145.5 1009.5h2M1118 1020.5h2M1128.5 1042.5h2M1168.5 1036.5h2M1091.5 1071.5h2M1113 1029.5h2M1137 1025.5h2M1122.5 1052.5h2M1135.5 1044.5h2M1053.5 1066.5h2M1095 980.5h2M1071 1061.5h2M1083 1020.5h2M1104 1042.5h2M1145.5 1052.5h2M1133.5 994.5h2M1051 1032.5h2M1087.5 1008.5h2M1065 1052.5h2M1102 1032.5h2M1055 1037.5h2M1156 999.5h2M1121 1014.5h2M1058.5 1034.5h2M1135.5 1051.5h2M1044.5 1032.5h2M1075 1070.5h2M1124.5 1044.5h2M1106.5 1036.5h2M1107 1044.5h2M1151 1045.5h2M1153.5 994.5h2M1050 1060.5h2M1031 1070.5h2M1107 1035.5h2M1043 1034.5h2M1081.5 1055.5h2M1124.5 1028.5h2M1076.5 1037.5h2M1124.5 1020.5h2M1031.5 1065.5h2M1087.5 1023.5h2M1093.5 1052.5h2M1058.5 1021.5h2M1147 1016.5h2M1066 1062.5h2M1092.5 1011.5h2M1144.5 1017.5h2M1159.5 1003.5h2M1081.5 1073.5h2M1094.5 1052.5h2M1152.5 1049.5h2M1150.5 1044.5h2M1078 1009.5h2M1073.5 1017.5h2M1092.5 1067.5h2M1137 1040.5h2M1101 1019.5h2M1087 1042.5h2M1132 1017.5h2M1069.5 1024.5h2M1086 1017.5h2M1063.5 1020.5h2M1137 982.5h2M1120 1039.5h2M1001 1078.5h2M1076.5 1043.5h2M1060 1037.5h2M1119.5 992.5h2M1089.5 1046.5h2M1083 1066.5h2M1060.5 1035.5h2M1057.5 1060.5h2M1078 1025.5h2M1102 1031.5h2M1156 1043.5h2M1062 1056.5h2M1126 1031.5h2M1120 1026.5h2M1030 1048.5h2M1132 1048.5h2M1045.5 1068.5h2M1087.5 1052.5h2M1172 1012.5h2M1122.5 1012.5h2M1073 1039.5h2M1039.5 1065.5h2M1140.5 1068.5h2M1094 1038.5h2M1138.5 1029.5h2M1115 1031.5h2M1110.5 1030.5h2M1082 1051.5h2M1143 994.5h2M1028.5 1042.5h2M1144 1050.5h2M1154.5 1012.5h2M1115.5 1031.5h2M1175 1009.5h2M1051.5 1040.5h2M1149 1006.5h2M1197.5 999.5h2M1059 1030.5h2M1130 1033.5h2M1123.5 1061.5h2M1160 996.5h2M1159 1025.5h2M1120 1063.5h2M1098.5 1042.5h2M1090 1047.5h2M1118.5 1045.5h2M1114.5 994.5h2M1070 1078.5h2M1074.5 1003.5h2M1120.5 1043.5h2M1134 1038.5h2M1154 1043.5h2M1113 1017.5h2M1101 1003.5h2M1180.5 1008.5h2M1073.5 1062.5h2M1113.5 1005.5h2M1074.5 1027.5h2M1112 1020.5h2M1153 1045.5h2M1070 1015.5h2M1072.5 1033.5h2M1149.5 1023.5h2M1064.5 1069.5h2M1028 1056.5h2M1051 1070.5h2M1076.5 1017.5h2M1072 1035.5h2M1102.5 1009.5h2M1091.5 1060.5h2M1088 1054.5h2M1057.5 1032.5h2M1064.5 1070.5h2M1132 989.5h2M1074.5 1011.5h2M1146.5 1018.5h2M1110.5 1067.5h2M1134.5 1029.5h2M1104.5 1026.5h2M1145.5 1035.5h2M1140.5 1080.5h2M1115.5 1024.5h2M1147.5 993.5h2M1063.5 1050.5h2M1078 1016.5h2M1134 1025.5h2M1135.5 1023.5h2M1150 1024.5h2M1101.5 1062.5h2M1085.5 1057.5h2M1110 1018.5h2M1077 1073.5h2M1161.5 997.5h2M1121 1046.5h2M1117.5 1012.5h2M1103 1050.5h2M1161 1008.5h2M1120 1035.5h2M1124 1057.5h2M1065 1073.5h2M1174 1020.5h2M1103.5 1067.5h2M1042 1075.5h2M1051 1064.5h2M1059 1022.5h2M1083 1054.5h2M1111 986.5h2M1082 1007.5h2M1046 1033.5h2M1151 1006.5h2M1093 1023.5h2M1051 1014.5h2M1061 1019.5h2M1054.5 1061.5h2M1105.5 1023.5h2M1115.5 1052.5h2M1033.5 1049.5h2M1086.5 1028.5h2M1137.5 1003.5h2M1115.5 1019.5h2M1115 1038.5h2M1068 1022.5h2M1165 1003.5h2M1133 997.5h2M1115.5 1009.5h2M1106.5 998.5h2M1102 1020.5h2M1043.5 1033.5h2M1090.5 1024.5h2M1082.5 1061.5h2M1138 1004.5h2M1103 1048.5h2M1186 1028.5h2M1122.5 1027.5h2M1078.5 1077.5h2M1075.5 1020.5h2M1062.5 1030.5h2M1050.5 1029.5h2M1138.5 1044.5h2M1097 1072.5h2M1099.5 1021.5h2M1121.5 1053.5h2M1090 1025.5h2M1054 1041.5h2M1067.5 1071.5h2M1112 1000.5h2M1054.5 1056.5h2M1062.5 1059.5h2M1123.5 1003.5h2M1124.5 1015.5h2M1118.5 994.5h2M1140.5 1049.5h2M1078 1073.5h2M1138 1020.5h2M1120 1056.5h2M1111 1021.5h2M1091.5 1048.5h2M1118.5 1064.5h2M1090.5 1019.5h2M1114 1015.5h2M1160 1016.5h2M1015.5 1043.5h2M1047.5 1077.5h2M1108 1033.5h2M1165.5 1022.5h2M1036.5 1078.5h2M1141 1001.5h2M1131.5 1034.5h2M1071.5 1058.5h2M1093 1077.5h2M1124.5 1053.5h2M1151.5 1003.5h2M1081.5 1043.5h2M1159 1002.5h2M1164.5 996.5h2M1159.5 1030.5h2M1136 999.5h2M1087.5 1060.5h2M1163.5 1032.5h2M1089 1029.5h2M1063.5 1030.5h2M1076.5 1039.5h2M1221 901.5h2M1192.5 921.5h2M1055 1010.5h2M1181.5 948.5h2M1154 984.5h2M1263.5 886.5h2M1231.5 895.5h2M1060.5 975.5h2M1145.5 1019.5h2M1165.5 1014.5h2M1053 994.5h2M1190 982.5h2M1259.5 902.5h2M1211.5 962.5h2M1106 925.5h2M1079 1076.5h2M1108 1084.5h2M1103.5 1061.5h2M1056.5 1069.5h2M1109 1081.5h2M1095 1107.5h2M1105 1077.5h2M1131 1066.5h2M1107.5 1092.5h2M1145.5 1085.5h2M1081.5 1071.5h2M1095 1092.5h2M1113.5 1075.5h2M1065 1090.5h2M1097 1059.5h2M1063.5 1088.5h2M1108 1067.5h2M1078.5 1089.5h2M1056 1084.5h2M1097 1060.5h2M1059 1062.5h2M1059 1047.5h2M1052.5 1064.5h2M1030 1051.5h2M1080.5 1067.5h2M1057.5 1075.5h2M1058 1074.5h2M1053 1052.5h2M1055.5 1064.5h2M1081 1057.5h2M1054.5 1042.5h2M1081 1061.5h2M1080 1064.5h2M1052.5 1065.5h2M1065 1055.5h2M1053 1059.5h2M1060 1071.5h2M1079 1072.5h2M1039 1085.5h2M1030 1053.5h2M1049.5 1059.5h2M1063.5 1053.5h2M1031 1058.5h2M1164.5 1000.5h2M1189 981.5h2M1186 993.5h2M1198.5 1022.5h2M1163.5 1012.5h2M1144.5 1000.5h2M1205 970.5h2M1160.5 992.5h2M1177 1021.5h2M1158.5 998.5h2M1194.5 1010.5h2M1176.5 1000.5h2M1203 1000.5h2M1194.5 1017.5h2M1199 988.5h2M1174.5 990.5h2M1196.5 1016.5h2M1179 980.5h2M1200 993.5h2M1182 1007.5h2M1161 997.5h2M1185.5 1002.5h2M1166.5 1007.5h2M1169 1020.5h2M1163 1011.5h2M1303.5 974.5h2M1299.5 970.5h2M1251.5 1021.5h2M1255.5 999.5h2M1324 971.5h2M1296.5 972.5h2M1357.5 956.5h2M1294.5 969.5h2M1252.5 985.5h2M1318 972.5h2M1275.5 998.5h2M1343.5 964.5h2M1317.5 946.5h2M1292 972.5h2M1316 960.5h2M1315 963.5h2M1302 961.5h2M1217.5 1004.5h2M1368 951.5h2M1306.5 972.5h2M1278.5 982.5h2M1292.5 977.5h2M1283.5 990.5h2M1299 965.5h2M1329.5 952.5h2M1281 993.5h2M1287.5 984.5h2M1258.5 1007.5h2M1338 936.5h2M1192.5 1049.5h2M1287.5 995.5h2M1316 947.5h2M1313.5 967.5h2M1266.5 1004.5h2M1302.5 998.5h2M1283.5 995.5h2M1272 992.5h2M1274 984.5h2M1314.5 976.5h2M1308.5 987.5h2M1296.5 978.5h2M1314 967.5h2M1282.5 993.5h2M1301.5 974.5h2M1312 956.5h2M1284.5 987.5h2M1298.5 994.5h2M1291.5 981.5h2M1300 961.5h2M1295 978.5h2M1309.5 968.5h2M1321.5 962.5h2M1305 978.5h2M1305 964.5h2M1317.5 968.5h2M1252.5 1013.5h2M1317.5 957.5h2M1264 982.5h2M1333 950.5h2M1310.5 955.5h2M1299 987.5h2M1276.5 990.5h2M1293.5 972.5h2M1279.5 974.5h2M1261 1007.5h2M1254.5 997.5h2M1309.5 951.5h2M1330 957.5h2M1318.5 976.5h2M1300 988.5h2M1295 986.5h2M1284.5 985.5h2M1335 957.5h2M1330.5 947.5h2M1277 980.5h2M1296 981.5h2M1333 948.5h2M1273.5 987.5h2M1325.5 972.5h2M1314 947.5h2M1314.5 964.5h2M1293 984.5h2M1277 966.5h2M1319.5 958.5h2M1325 968.5h2M1262.5 997.5h2M1339 953.5h2M1295.5 961.5h2M1280 974.5h2M1310.5 986.5h2M1253.5 866.5h2M1391 851.5h2M1221.5 876.5h2M1346.5 861.5h2M1379.5 857.5h2M1282 874.5h2M1377 856.5h2M1373.5 850.5h2M1281 872.5h2M1398 849.5h2M1347 860.5h2M1410.5 862.5h2M1380.5 853.5h2M1353 861.5h2M1280 864.5h2M1369.5 856.5h2M1316.5 866.5h2M1328 860.5h2M1259 874.5h2M1267.5 858.5h2M1344 864.5h2M1258 875.5h2M1342.5 857.5h2M1327.5 857.5h2M1312.5 874.5h2M1273.5 868.5h2M1369 850.5h2M1310 859.5h2M1317 873.5h2M1260.5 884.5h2M1325 858.5h2M1308.5 871.5h2M1396.5 851.5h2M1402.5 856.5h2M1339 865.5h2M1312 866.5h2M1305.5 873.5h2M1317.5 871.5h2M1310.5 873.5h2M1197.5 873.5h2M1330 857.5h2M1359.5 855.5h2M1276 862.5h2M1281.5 866.5h2M1303.5 868.5h2M1387.5 856.5h2M1280.5 872.5h2M1327.5 869.5h2M1346 856.5h2M1287.5 865.5h2M1298.5 862.5h2M1252.5 875.5h2M1278.5 869.5h2M1371.5 870.5h2M1246.5 863.5h2M1203.5 867.5h2M1220.5 869.5h2M1205.5 870.5h2M1182.5 859.5h2M1210 872.5h2M1228.5 867.5h2M1264 862.5h2M1230.5 875.5h2M1199 879.5h2M1217 876.5h2M1219.5 875.5h2M1244 866.5h2M1227 874.5h2M1213.5 876.5h2M1316.5 863.5h2M1323.5 869.5h2M1334.5 870.5h2M1322.5 868.5h2M1326 862.5h2M1332 863.5h2M1319.5 870.5h2M1308 861.5h2M1330.5 860.5h2M1332 868.5h2M1324 866.5h2M1332.5 867.5h2M1321 863.5h2M1319 871.5h2M1335 867.5h2M1299 866.5h2M1343 864.5h2M1298.5 868.5h2M1326 866.5h2M1328 867.5h2M1132.5 923.5h2M1382 1052.5h2M1175.5 837.5h2M983 817.5h2" stroke="#1d3a9e" stroke-width="1.25" fill="none"/><path d="M1142 1018.5h2M1095.5 1035.5h2M1105.5 1037.5h2M1143 1020.5h2M1102.5 1030.5h2M1109 1062.5h2M1135.5 1013.5h2M1131.5 1036.5h2M1092.5 1033.5h2M1092.5 1017.5h2M1167 1013.5h2M1077 1046.5h2M1125.5 1041.5h2M1079.5 1045.5h2M1095.5 1028.5h2M1085 1018.5h2M1079.5 1051.5h2M1132 1029.5h2M1101 1052.5h2M1090.5 999.5h2M1076 1019.5h2M1065 1065.5h2M1114.5 1028.5h2M1082 1063.5h2M1109.5 1034.5h2M1143.5 991.5h2M1073.5 1040.5h2M1108 1072.5h2M1072.5 1044.5h2M1161 1024.5h2M1106 1034.5h2M1072.5 1069.5h2M1137.5 999.5h2M1117.5 1027.5h2M1032 1071.5h2M1111.5 1028.5h2M1153 1008.5h2M1124 988.5h2M1077.5 1052.5h2M1108 1032.5h2M1108.5 1005.5h2M1120 1028.5h2M1093.5 1055.5h2M1098 1020.5h2M1097 1048.5h2M1103 1039.5h2M1133 1024.5h2M1107.5 1032.5h2M1109.5 1022.5h2M1105.5 1045.5h2M1084.5 1037.5h2M1115.5 1020.5h2M1141.5 1000.5h2M1136.5 1019.5h2M1114.5 1042.5h2M1097.5 1064.5h2M1129 999.5h2M1103.5 1025.5h2M1115.5 1008.5h2M1086 1016.5h2M1124 1013.5h2M1109 1040.5h2M1077.5 1056.5h2M1089.5 1038.5h2M1067 1063.5h2M1096.5 1033.5h2M1124.5 1018.5h2M1068.5 1032.5h2M1125.5 1032.5h2M1095.5 1031.5h2M1066 1042.5h2M1116.5 1041.5h2M1089.5 1061.5h2M1071.5 1098.5h2M1292 977.5h2M1303 981.5h2M1280.5 983.5h2M1263.5 978.5h2M1321.5 969.5h2M1296 997.5h2M1301.5 977.5h2M1291 980.5h2M1329 865.5h2M1359 854.5h2M1298.5 864.5h2M1317 860.5h2M1310 868.5h2M1296.5 864.5h2M1328.5 859.5h2M1336 865.5h2M1325.5 865.5h2" stroke="#2a5ab8" stroke-width="1.25" fill="none"/><path d="M1101 1039.5h2M1098 999.5h2M1062.5 1050.5h2M1061 1042.5h2M1099.5 1060.5h2M1096.5 1013.5h2M1133.5 1050.5h2M1076 1046.5h2M1147 1039.5h2M1115.5 1034.5h2M1123 1024.5h2M1115.5 1001.5h2M1111 1014.5h2M1060 1042.5h2M1171 1011.5h2M1086 1065.5h2M1106.5 1024.5h2M1039 1042.5h2M1089 1038.5h2M1103.5 1029.5h2M1042.5 1047.5h2M1126.5 1017.5h2M1121 999.5h2M1090 1038.5h2M1069.5 1044.5h2M1095 1035.5h2M1117.5 1039.5h2M1112 1008.5h2M1127 1030.5h2M1052.5 1067.5h2M1079.5 1055.5h2M1100.5 1030.5h2M1126.5 1008.5h2M1041.5 1057.5h2M1165.5 994.5h2M1043 1058.5h2M1084 1041.5h2M1058 1062.5h2M1079.5 1043.5h2M1100.5 1015.5h2M1049 1054.5h2M1122.5 1010.5h2M1146.5 1017.5h2M1103.5 1016.5h2M1100.5 1041.5h2M1101 1015.5h2M1128.5 1016.5h2M1117 1032.5h2M1119 1022.5h2M1110.5 1029.5h2M1081.5 1064.5h2M1058.5 1038.5h2M1103.5 1034.5h2M1148.5 1033.5h2M1126.5 1018.5h2M1105.5 1039.5h2M1098.5 997.5h2M1148 1032.5h2M1147 1021.5h2M1079.5 1061.5h2M1035 1068.5h2M1197.5 991.5h2M1314 964.5h2M1302.5 976.5h2M1288.5 981.5h2M1304 975.5h2M1264 981.5h2M1308 975.5h2M1294.5 990.5h2M1301 975.5h2M1254.5 1011.5h2M1280 984.5h2M1328.5 962.5h2M1278.5 997.5h2M1316 961.5h2M1299.5 987.5h2M1307 976.5h2M1267.5 1002.5h2M1267 988.5h2M1267.5 977.5h2M1323 965.5h2M1379 860.5h2M1329.5 862.5h2M1332 865.5h2M1356.5 864.5h2M1335 866.5h2M1282.5 870.5h2M1310 861.5h2M1290 871.5h2M1288 865.5h2M1332 867.5h2M1345 864.5h2M1327 862.5h2M1320 862.5h2M1322 861.5h2M1330.5 867.5h2M1309 868.5h2M1327 861.5h2M1325 857.5h2M1329 863.5h2M1315 867.5h2" stroke="#3aa6c4" stroke-width="1.25" fill="none"/><path d="M1082.5 1039.5h2M1135.5 1032.5h2M1063.5 1023.5h2M1128 1019.5h2M1148.5 1027.5h2M1098 1051.5h2M1093.5 1046.5h2M1082.5 1043.5h2M1140.5 1016.5h2M1155 1018.5h2M1037 1057.5h2M1095.5 1032.5h2M1125 1021.5h2M1095.5 1013.5h2M1070 1034.5h2M1136 1006.5h2M1147 1012.5h2M1152 1016.5h2M1105.5 1007.5h2M1107.5 1040.5h2M1099.5 1027.5h2M1069.5 1030.5h2M1118.5 1038.5h2M1141 1026.5h2M1116 1002.5h2M1106 1017.5h2M1099.5 1029.5h2M1076 1032.5h2M1085 1044.5h2M1101.5 1008.5h2M1080.5 1051.5h2M1154.5 1029.5h2M1114 1036.5h2M1064 1047.5h2M1123 1015.5h2M1130.5 1014.5h2M1162 1006.5h2M1085.5 1073.5h2M1084 1044.5h2M1109.5 1006.5h2M1133.5 1017.5h2M1076 1035.5h2M1129.5 1003.5h2M1133 1028.5h2M1104.5 1012.5h2M1117 1033.5h2M1160.5 1028.5h2M1093.5 1039.5h2M1080 1058.5h2M1087.5 1032.5h2M1088 1052.5h2M1077.5 1048.5h2M1071.5 1059.5h2M1101 1023.5h2M1077 1044.5h2M1160.5 1009.5h2M1095.5 1022.5h2M1082.5 1034.5h2M1093.5 1058.5h2M1173 1009.5h2M1038.5 1041.5h2M1153 1044.5h2M1149.5 1035.5h2M1109 1029.5h2M1104.5 1033.5h2M1111.5 1035.5h2M1120 1016.5h2M1118.5 1053.5h2M1105 1031.5h2M1093.5 1047.5h2M1117.5 1045.5h2M1062.5 1044.5h2M1122.5 1028.5h2M1118.5 1027.5h2M1085.5 1050.5h2M1119 1031.5h2M1105.5 1031.5h2M1136.5 1021.5h2M1135 1005.5h2M1127.5 1024.5h2M1055.5 1031.5h2M1109.5 1027.5h2M1159.5 1031.5h2M1130 1021.5h2M1063.5 1022.5h2M1087.5 1012.5h2M1049.5 1052.5h2M1144.5 1043.5h2M1086.5 1056.5h2M1170 1022.5h2M1050 1064.5h2M1173 1029.5h2M1299 975.5h2M1305 966.5h2M1285 993.5h2M1268.5 997.5h2M1323 961.5h2M1279 984.5h2M1337 957.5h2M1311 967.5h2M1268 998.5h2M1315 958.5h2M1292 981.5h2M1307.5 970.5h2M1334 964.5h2M1287 976.5h2M1284.5 990.5h2M1287.5 982.5h2M1281 980.5h2M1386.5 857.5h2M1386.5 852.5h2M1357 859.5h2M1339.5 854.5h2M1346 864.5h2M1337 860.5h2M1299.5 868.5h2M1355.5 864.5h2M1348 861.5h2M1267.5 875.5h2M1318 865.5h2M1319 861.5h2M1317 865.5h2M1332.5 864.5h2M1338.5 866.5h2M1321.5 861.5h2M1332 862.5h2" stroke="#48b8b0" stroke-width="1.25" fill="none"/><path d="M1105.5 1014.5h2M1073.5 1032.5h2M1075.5 1010.5h2M1105.5 1028.5h2M1072.5 1049.5h2M1070 1064.5h2M1083 1024.5h2M1066.5 1061.5h2M1144.5 1026.5h2M1097.5 1028.5h2M1071 1051.5h2M1106 1024.5h2M1114.5 1046.5h2M1079.5 1056.5h2M1138.5 1012.5h2M1082.5 1053.5h2M1054.5 1076.5h2M1079 1053.5h2M1113.5 1042.5h2M1108 1003.5h2M1112 1012.5h2M1083.5 1027.5h2M1090 1010.5h2M1141.5 1030.5h2M1132 1040.5h2M1086.5 1040.5h2M1077 1021.5h2M1118.5 1022.5h2M1083.5 1025.5h2M1327.5 958.5h2M1273 987.5h2M1319.5 954.5h2M1299 981.5h2M1325.5 866.5h2M1333 862.5h2M1312.5 863.5h2M1305 869.5h2M1332 861.5h2M1335.5 862.5h2" stroke="#4cc060" stroke-width="1.25" fill="none"/><path d="M1121.5 1021.5h2M1101 1042.5h2M1100 1045.5h2M1084.5 1034.5h2M1082.5 1054.5h2M1090 1043.5h2M1108.5 1017.5h2M1101 1038.5h2M1107.5 1035.5h2M1098 1028.5h2M1105.5 1018.5h2M1078 1034.5h2M1108 1022.5h2M1106.5 1046.5h2M1087.5 1045.5h2M1117.5 1023.5h2M1295.5 979.5h2M1295.5 972.5h2M1275 987.5h2M1319 866.5h2M1315.5 863.5h2M1323 866.5h2" stroke="#90d048" stroke-width="1.25" fill="none"/><path d="M1087.5 1039.5h2M1095 1033.5h2M1089.5 1035.5h2M1093 1049.5h2M1105.5 1022.5h2M1107.5 1033.5h2M1105 1021.5h2M1088 1031.5h2M1121 1024.5h2M1090.5 1038.5h2M1116 1036.5h2M1082 1036.5h2M1110.5 1024.5h2M1093.5 1049.5h2M1314 864.5h2" stroke="#d0dc3c" stroke-width="1.25" fill="none"/><path d="M1112 1031.5h2M1090.5 1035.5h2M1111.5 1038.5h2M1101 1024.5h2M1118 1027.5h2M1094 1024.5h2M1099 1030.5h2M1122 1020.5h2M1323 867.5h2" stroke="#f0b030" stroke-width="1.25" fill="none"/><path d="M1095 1037.5h2M1101 1032.5h2M1103 1037.5h2M1087.5 1040.5h2M1098.5 1039.5h2M1121.5 1030.5h2M1122 1032.5h2M1096 1034.5h2M1099 1028.5h2M1298.5 978.5h2M1315.5 865.5h2" stroke="#e86a28" stroke-width="1.25" fill="none"/><path d="M1094.5 1030.5h2M1105.5 1036.5h2M1100 1030.5h2M1097 1031.5h2M1101 1029.5h2M1324.5 863.5h2M1318 864.5h2" stroke="#d83028" stroke-width="1.25" fill="none"/><text x="168" y="25.4" font-size="38" font-weight="bold" text-anchor="start" fill="#000" style="font-family:'Liberation Serif',serif" >a</text><line x1="193.8" y1="102.80000000000001" x2="193.8" y2="568.5" stroke="#000" stroke-width="3"/><line x1="181.6" y1="567.0" x2="193.8" y2="567.0" stroke="#000" stroke-width="3"/><text x="162" y="579.3" font-size="36" font-weight="normal" text-anchor="end" fill="#000" style="font-family:'Liberation Serif',serif" >0.0</text><line x1="181.6" y1="451.325" x2="193.8" y2="451.325" stroke="#000" stroke-width="3"/><text x="162" y="463.625" font-size="36" font-weight="normal" text-anchor="end" fill="#000" style="font-family:'Liberation Serif',serif" >0.5</text><line x1="181.6" y1="335.65" x2="193.8" y2="335.65" stroke="#000" stroke-width="3"/><text x="162" y="347.95" font-size="36" font-weight="normal" text-anchor="end" fill="#000" style="font-family:'Liberation Serif',serif" >1.0</text><line x1="181.6" y1="219.97500000000002" x2="193.8" y2="219.97500000000002" stroke="#000" stroke-width="3"/><text x="162" y="232.27500000000003" font-size="36" font-weight="normal" text-anchor="end" fill="#000" style="font-family:'Liberation Serif',serif" >1.5</text><line x1="181.6" y1="104.30000000000001" x2="193.8" y2="104.30000000000001" stroke="#000" stroke-width="3"/><text x="162" y="116.60000000000001" font-size="36" font-weight="normal" text-anchor="end" fill="#000" style="font-family:'Liberation Serif',serif" >2.0</text><line x1="181.6" y1="567" x2="532" y2="567" stroke="#000" stroke-width="3"/><line x1="193.9" y1="567" x2="193.9" y2="578.5" stroke="#000" stroke-width="3"/><line x1="361.1" y1="567" x2="361.1" y2="578.5" stroke="#000" stroke-width="3"/><line x1="531" y1="567" x2="531" y2="578.5" stroke="#000" stroke-width="3"/><rect x="219" y="332.7" width="116.7" height="234.3" fill="#000" /><rect x="390.9" y="155" width="113.2" height="412" fill="#ED7D31" stroke="#000" stroke-width="2.4"/><line x1="447.5" y1="155" x2="447.5" y2="116.3" stroke="#000" stroke-width="2.5"/><line x1="438.5" y1="116.3" x2="456.5" y2="116.3" stroke="#000" stroke-width="2.5"/><text x="449.5" y="109.5" font-size="36" font-weight="normal" text-anchor="middle" fill="#000" style="font-family:'Liberation Serif',serif" >***</text><text x="276.7" y="622.5" font-size="36.7" font-weight="bold" text-anchor="middle" fill="#000" style="font-family:'Liberation Serif',serif" >Control</text><text x="446.6" y="622.5" font-size="36" font-weight="bold" text-anchor="middle" fill="#000" style="font-family:'Liberation Serif',serif" >IFNT</text><g transform="translate(26.6,353.7) rotate(-90)"><text x="0" y="0" font-size="36" font-weight="bold" text-anchor="middle" fill="#000" style="font-family:'Liberation Serif',serif" >Viable LGCs numbers</text></g><g transform="translate(67.5,352.6) rotate(-90)"><text x="0" y="0" font-size="36" font-weight="bold" text-anchor="middle" fill="#000" style="font-family:'Liberation Serif',serif" >(Fold changes from control)</text></g><text x="789" y="25.7" font-size="36" font-weight="bold" text-anchor="start" fill="#000" style="font-family:'Liberation Serif',serif" >b</text><line x1="802.6" y1="82.5" x2="802.6" y2="581.5" stroke="#000" stroke-width="3"/><line x1="793.5" y1="570" x2="802.6" y2="570" stroke="#000" stroke-width="3"/><text x="771.5" y="584" font-size="36" font-weight="normal" text-anchor="end" fill="#000" style="font-family:'Liberation Serif',serif" >0</text><line x1="793.5" y1="450.5" x2="802.6" y2="450.5" stroke="#000" stroke-width="3"/><text x="771.5" y="464.5" font-size="36" font-weight="normal" text-anchor="end" fill="#000" style="font-family:'Liberation Serif',serif" >20</text><line x1="793.5" y1="328" x2="802.6" y2="328" stroke="#000" stroke-width="3"/><text x="771.5" y="342" font-size="36" font-weight="normal" text-anchor="end" fill="#000" style="font-family:'Liberation Serif',serif" >40</text><line x1="793.5" y1="206" x2="802.6" y2="206" stroke="#000" stroke-width="3"/><text x="771.5" y="220" font-size="36" font-weight="normal" text-anchor="end" fill="#000" style="font-family:'Liberation Serif',serif" >60</text><line x1="793.5" y1="84" x2="802.6" y2="84" stroke="#000" stroke-width="3"/><text x="771.5" y="98" font-size="36" font-weight="normal" text-anchor="end" fill="#000" style="font-family:'Liberation Serif',serif" >80</text><line x1="793.7" y1="570" x2="1421.4" y2="570" stroke="#000" stroke-width="3"/><line x1="802.6" y1="570" x2="802.6" y2="581.5" stroke="#000" stroke-width="3"/><line x1="1008.4" y1="570" x2="1008.4" y2="581.5" stroke="#000" stroke-width="3"/><line x1="1214.3" y1="570" x2="1214.3" y2="581.5" stroke="#000" stroke-width="3"/><line x1="1419.7" y1="570" x2="1419.7" y2="581.5" stroke="#000" stroke-width="3"/><rect x="846.1" y="222.7" width="60.699999999999974" height="347.3" fill="#000" /><rect x="907.3" y="143.20000000000002" width="56.19999999999995" height="426.8" fill="#ED7D31" stroke="#000" stroke-width="2.6"/><line x1="877.2" y1="222.7" x2="877.2" y2="202.8" stroke="#595959" stroke-width="2.6"/><line x1="868.3000000000001" y1="202.8" x2="886.1" y2="202.8" stroke="#595959" stroke-width="2.6"/><line x1="936.9" y1="141.9" x2="936.9" y2="128.3" stroke="#595959" stroke-width="2.6"/><line x1="928.0" y1="128.3" x2="945.8" y2="128.3" stroke="#595959" stroke-width="2.6"/><text x="905.5" y="625.2" font-size="36" font-weight="bold" text-anchor="middle" fill="#000" style="font-family:'Liberation Serif',serif" >Live</text><rect x="1052.1" y="422.7" width="62.900000000000134" height="147.3" fill="#000" /><rect x="1115.5" y="480.5" width="54.4" height="89.50000000000001" fill="#ED7D31" stroke="#000" stroke-width="2.6"/><line x1="1083.2" y1="422.7" x2="1083.2" y2="400" stroke="#595959" stroke-width="2.6"/><line x1="1074.3" y1="400" x2="1092.1000000000001" y2="400" stroke="#595959" stroke-width="2.6"/><line x1="1143" y1="479.2" x2="1143" y2="474.5" stroke="#595959" stroke-width="2.6"/><line x1="1134.1" y1="474.5" x2="1151.9" y2="474.5" stroke="#595959" stroke-width="2.6"/><text x="1111.1" y="625.2" font-size="36" font-weight="bold" text-anchor="middle" fill="#000" style="font-family:'Liberation Serif',serif" >Dead</text><rect x="1257.9" y="449.4" width="63.19999999999986" height="120.60000000000002" fill="#000" /><rect x="1321.6" y="483.40000000000003" width="56.80000000000009" height="86.59999999999998" fill="#ED7D31" stroke="#000" stroke-width="2.6"/><line x1="1289.2" y1="449.4" x2="1289.2" y2="441.5" stroke="#595959" stroke-width="2.6"/><line x1="1280.3" y1="441.5" x2="1298.1000000000001" y2="441.5" stroke="#595959" stroke-width="2.6"/><line x1="1348.9" y1="482.1" x2="1348.9" y2="471.4" stroke="#595959" stroke-width="2.6"/><line x1="1340.0" y1="471.4" x2="1357.8000000000002" y2="471.4" stroke="#595959" stroke-width="2.6"/><text x="1319" y="625.2" font-size="36" font-weight="bold" text-anchor="middle" fill="#000" style="font-family:'Liberation Serif',serif" >Apoptotic</text><text x="937.5" y="115.5" font-size="36" font-weight="bold" text-anchor="middle" fill="#000" style="font-family:'Liberation Serif',serif" >*</text><text x="1137" y="454.5" font-size="36" font-weight="bold" text-anchor="middle" fill="#000" style="font-family:'Liberation Serif',serif" >*</text><text x="1348.4" y="451.3" font-size="36" font-weight="bold" text-anchor="middle" fill="#000" style="font-family:'Liberation Serif',serif" >*</text><g transform="translate(708.6,310.2) rotate(-90)"><text x="0" y="0" font-size="36" font-weight="bold" text-anchor="middle" fill="#000" style="font-family:'Liberation Serif',serif" >Cell population (%)</text></g><rect x="1210" y="144.8" width="21" height="21" fill="#000" /><text x="1235.8" y="167.5" font-size="36.8" font-weight="bold" text-anchor="start" fill="#000" style="font-family:'Liberation Serif',serif" >Control</text><rect x="1211.5" y="223.9" width="18" height="18" fill="#ED7D31" stroke="#000" stroke-width="3"/><text x="1236" y="245.8" font-size="36" font-weight="bold" text-anchor="start" fill="#000" style="font-family:'Liberation Serif',serif" >IFNT</text><text x="247" y="701.8" font-size="38" font-weight="bold" text-anchor="start" fill="#000" style="font-family:'Liberation Serif',serif" >c</text><rect x="315" y="754" width="6" height="441" fill="#000" /><polygon points="308.8,754.3 326.6,754.3 317.5,736.4" fill="#000"/><polygon points="317.7,1199.2 1476,1201.0 1476,1206.8 317.7,1205.0" fill="#000"/><polygon points="1475,1195 1475,1213 1492.7,1204" fill="#000"/><g transform="translate(275.6,974.2) rotate(-90)"><text x="0" y="0" font-size="36" font-weight="bold" text-anchor="middle" fill="#000" style="font-family:'Liberation Serif',serif" >Propidium Iodide</text></g><text x="878.7" y="1262.2" font-size="36" font-weight="bold" text-anchor="middle" fill="#000" style="font-family:'Liberation Serif',serif" >Annexin V</text><text x="622" y="765.4" font-size="36.7" font-weight="bold" text-anchor="middle" fill="#000" style="font-family:'Liberation Serif',serif" >Control</text><text x="1218.8" y="765.2" font-size="36" font-weight="bold" text-anchor="middle" fill="#000" style="font-family:'Liberation Serif',serif" >IFNT (1ng/mL)</text><line x1="415.5" y1="789" x2="896.5" y2="789" stroke="#000" stroke-width="1.3"/><line x1="896" y1="789" x2="896" y2="1113.5" stroke="#000" stroke-width="1.3"/><line x1="415.5" y1="788.5" x2="415.5" y2="1114.5" stroke="#000" stroke-width="2"/><line x1="414.5" y1="1113.5" x2="896" y2="1113.5" stroke="#000" stroke-width="2"/><line x1="401.5" y1="1112.3" x2="415.5" y2="1112.3" stroke="#000" stroke-width="2.2"/><line x1="409.0" y1="1088.036982349483" x2="415.5" y2="1088.036982349483" stroke="#000" stroke-width="1.3"/><line x1="409.0" y1="1073.8440268695952" x2="415.5" y2="1073.8440268695952" stroke="#000" stroke-width="1.3"/><line x1="409.0" y1="1063.7739646989662" x2="415.5" y2="1063.7739646989662" stroke="#000" stroke-width="1.3"/><line x1="405.5" y1="1055.9630176505168" x2="415.5" y2="1055.9630176505168" stroke="#000" stroke-width="1.3"/><line x1="409.0" y1="1049.5810092190782" x2="415.5" y2="1049.5810092190782" stroke="#000" stroke-width="1.3"/><line x1="409.0" y1="1044.1850979748508" x2="415.5" y2="1044.1850979748508" stroke="#000" stroke-width="1.3"/><line x1="409.0" y1="1039.5109470484492" x2="415.5" y2="1039.5109470484492" stroke="#000" stroke-width="1.3"/><line x1="409.0" y1="1035.3880537391904" x2="415.5" y2="1035.3880537391904" stroke="#000" stroke-width="1.3"/><line x1="401.5" y1="1031.7" x2="415.5" y2="1031.7" stroke="#000" stroke-width="2.2"/><line x1="409.0" y1="1007.4369823494832" x2="415.5" y2="1007.4369823494832" stroke="#000" stroke-width="1.3"/><line x1="409.0" y1="993.2440268695952" x2="415.5" y2="993.2440268695952" stroke="#000" stroke-width="1.3"/><line x1="409.0" y1="983.1739646989663" x2="415.5" y2="983.1739646989663" stroke="#000" stroke-width="1.3"/><line x1="405.5" y1="975.3630176505169" x2="415.5" y2="975.3630176505169" stroke="#000" stroke-width="1.3"/><line x1="409.0" y1="968.9810092190784" x2="415.5" y2="968.9810092190784" stroke="#000" stroke-width="1.3"/><line x1="409.0" y1="963.5850979748509" x2="415.5" y2="963.5850979748509" stroke="#000" stroke-width="1.3"/><line x1="409.0" y1="958.9109470484494" x2="415.5" y2="958.9109470484494" stroke="#000" stroke-width="1.3"/><line x1="409.0" y1="954.7880537391904" x2="415.5" y2="954.7880537391904" stroke="#000" stroke-width="1.3"/><line x1="401.5" y1="951.0999999999999" x2="415.5" y2="951.0999999999999" stroke="#000" stroke-width="2.2"/><line x1="409.0" y1="926.836982349483" x2="415.5" y2="926.836982349483" stroke="#000" stroke-width="1.3"/><line x1="409.0" y1="912.6440268695951" x2="415.5" y2="912.6440268695951" stroke="#000" stroke-width="1.3"/><line x1="409.0" y1="902.5739646989662" x2="415.5" y2="902.5739646989662" stroke="#000" stroke-width="1.3"/><line x1="405.5" y1="894.7630176505168" x2="415.5" y2="894.7630176505168" stroke="#000" stroke-width="1.3"/><line x1="409.0" y1="888.3810092190782" x2="415.5" y2="888.3810092190782" stroke="#000" stroke-width="1.3"/><line x1="409.0" y1="882.9850979748508" x2="415.5" y2="882.9850979748508" stroke="#000" stroke-width="1.3"/><line x1="409.0" y1="878.3109470484493" x2="415.5" y2="878.3109470484493" stroke="#000" stroke-width="1.3"/><line x1="409.0" y1="874.1880537391903" x2="415.5" y2="874.1880537391903" stroke="#000" stroke-width="1.3"/><line x1="401.5" y1="870.5" x2="415.5" y2="870.5" stroke="#000" stroke-width="2.2"/><line x1="409.0" y1="846.2369823494831" x2="415.5" y2="846.2369823494831" stroke="#000" stroke-width="1.3"/><line x1="409.0" y1="832.0440268695952" x2="415.5" y2="832.0440268695952" stroke="#000" stroke-width="1.3"/><line x1="409.0" y1="821.9739646989663" x2="415.5" y2="821.9739646989663" stroke="#000" stroke-width="1.3"/><line x1="405.5" y1="814.1630176505168" x2="415.5" y2="814.1630176505168" stroke="#000" stroke-width="1.3"/><line x1="409.0" y1="807.7810092190783" x2="415.5" y2="807.7810092190783" stroke="#000" stroke-width="1.3"/><line x1="409.0" y1="802.3850979748509" x2="415.5" y2="802.3850979748509" stroke="#000" stroke-width="1.3"/><line x1="409.0" y1="797.7109470484494" x2="415.5" y2="797.7109470484494" stroke="#000" stroke-width="1.3"/><line x1="409.0" y1="793.5880537391904" x2="415.5" y2="793.5880537391904" stroke="#000" stroke-width="1.3"/><line x1="401.5" y1="789.9" x2="415.5" y2="789.9" stroke="#000" stroke-width="2.2"/><line x1="415.5" y1="1113.5" x2="415.5" y2="1122.5" stroke="#000" stroke-width="3"/><line x1="451.4429814822794" y1="1113.5" x2="451.4429814822794" y2="1118.5" stroke="#000" stroke-width="1.5"/><line x1="472.4682778135277" y1="1113.5" x2="472.4682778135277" y2="1118.5" stroke="#000" stroke-width="1.5"/><line x1="487.3859629645587" y1="1113.5" x2="487.3859629645587" y2="1118.5" stroke="#000" stroke-width="1.5"/><line x1="498.95701851772066" y1="1113.5" x2="498.95701851772066" y2="1118.5" stroke="#000" stroke-width="1.5"/><line x1="508.41125929580704" y1="1113.5" x2="508.41125929580704" y2="1118.5" stroke="#000" stroke-width="1.5"/><line x1="516.4047059777023" y1="1113.5" x2="516.4047059777023" y2="1118.5" stroke="#000" stroke-width="1.5"/><line x1="523.328944446838" y1="1113.5" x2="523.328944446838" y2="1118.5" stroke="#000" stroke-width="1.5"/><line x1="529.4365556270554" y1="1113.5" x2="529.4365556270554" y2="1118.5" stroke="#000" stroke-width="1.5"/><line x1="534.9" y1="1113.5" x2="534.9" y2="1122.5" stroke="#000" stroke-width="3"/><line x1="570.8429814822794" y1="1113.5" x2="570.8429814822794" y2="1118.5" stroke="#000" stroke-width="1.5"/><line x1="591.8682778135277" y1="1113.5" x2="591.8682778135277" y2="1118.5" stroke="#000" stroke-width="1.5"/><line x1="606.7859629645587" y1="1113.5" x2="606.7859629645587" y2="1118.5" stroke="#000" stroke-width="1.5"/><line x1="618.3570185177207" y1="1113.5" x2="618.3570185177207" y2="1118.5" stroke="#000" stroke-width="1.5"/><line x1="627.8112592958071" y1="1113.5" x2="627.8112592958071" y2="1118.5" stroke="#000" stroke-width="1.5"/><line x1="635.8047059777023" y1="1113.5" x2="635.8047059777023" y2="1118.5" stroke="#000" stroke-width="1.5"/><line x1="642.728944446838" y1="1113.5" x2="642.728944446838" y2="1118.5" stroke="#000" stroke-width="1.5"/><line x1="648.8365556270554" y1="1113.5" x2="648.8365556270554" y2="1118.5" stroke="#000" stroke-width="1.5"/><line x1="654.3" y1="1113.5" x2="654.3" y2="1122.5" stroke="#000" stroke-width="3"/><line x1="690.2429814822793" y1="1113.5" x2="690.2429814822793" y2="1118.5" stroke="#000" stroke-width="1.5"/><line x1="711.2682778135277" y1="1113.5" x2="711.2682778135277" y2="1118.5" stroke="#000" stroke-width="1.5"/><line x1="726.1859629645587" y1="1113.5" x2="726.1859629645587" y2="1118.5" stroke="#000" stroke-width="1.5"/><line x1="737.7570185177206" y1="1113.5" x2="737.7570185177206" y2="1118.5" stroke="#000" stroke-width="1.5"/><line x1="747.211259295807" y1="1113.5" x2="747.211259295807" y2="1118.5" stroke="#000" stroke-width="1.5"/><line x1="755.2047059777022" y1="1113.5" x2="755.2047059777022" y2="1118.5" stroke="#000" stroke-width="1.5"/><line x1="762.128944446838" y1="1113.5" x2="762.128944446838" y2="1118.5" stroke="#000" stroke-width="1.5"/><line x1="768.2365556270554" y1="1113.5" x2="768.2365556270554" y2="1118.5" stroke="#000" stroke-width="1.5"/><line x1="773.7" y1="1113.5" x2="773.7" y2="1122.5" stroke="#000" stroke-width="3"/><line x1="809.6429814822794" y1="1113.5" x2="809.6429814822794" y2="1118.5" stroke="#000" stroke-width="1.5"/><line x1="830.6682778135278" y1="1113.5" x2="830.6682778135278" y2="1118.5" stroke="#000" stroke-width="1.5"/><line x1="845.5859629645588" y1="1113.5" x2="845.5859629645588" y2="1118.5" stroke="#000" stroke-width="1.5"/><line x1="857.1570185177206" y1="1113.5" x2="857.1570185177206" y2="1118.5" stroke="#000" stroke-width="1.5"/><line x1="866.6112592958071" y1="1113.5" x2="866.6112592958071" y2="1118.5" stroke="#000" stroke-width="1.5"/><line x1="874.6047059777023" y1="1113.5" x2="874.6047059777023" y2="1118.5" stroke="#000" stroke-width="1.5"/><line x1="881.5289444468381" y1="1113.5" x2="881.5289444468381" y2="1118.5" stroke="#000" stroke-width="1.5"/><line x1="887.6365556270555" y1="1113.5" x2="887.6365556270555" y2="1118.5" stroke="#000" stroke-width="1.5"/><line x1="893.1" y1="1113.5" x2="893.1" y2="1122.5" stroke="#000" stroke-width="3"/><text transform="matrix(1.7,0,0,1,360.7,1112.1)" font-size="11.6" font-weight="normal" text-anchor="start" fill="#000" style="font-family:'Liberation Sans',sans-serif">10</text><text transform="matrix(1.7,0,0,1,381.2,1102.1)" font-size="11.6" font-weight="normal" text-anchor="start" fill="#000" style="font-family:'Liberation Sans',sans-serif">0</text><text transform="matrix(1.7,0,0,1,360.7,1040.5)" font-size="11.6" font-weight="normal" text-anchor="start" fill="#000" style="font-family:'Liberation Sans',sans-serif">10</text><text transform="matrix(1.7,0,0,1,381.2,1030.5)" font-size="11.6" font-weight="normal" text-anchor="start" fill="#000" style="font-family:'Liberation Sans',sans-serif">1</text><text transform="matrix(1.7,0,0,1,360.7,959.8999999999999)" font-size="11.6" font-weight="normal" text-anchor="start" fill="#000" style="font-family:'Liberation Sans',sans-serif">10</text><text transform="matrix(1.7,0,0,1,381.2,949.8999999999999)" font-size="11.6" font-weight="normal" text-anchor="start" fill="#000" style="font-family:'Liberation Sans',sans-serif">2</text><text transform="matrix(1.7,0,0,1,360.7,879.3)" font-size="11.6" font-weight="normal" text-anchor="start" fill="#000" style="font-family:'Liberation Sans',sans-serif">10</text><text transform="matrix(1.7,0,0,1,381.2,869.3)" font-size="11.6" font-weight="normal" text-anchor="start" fill="#000" style="font-family:'Liberation Sans',sans-serif">3</text><text transform="matrix(1.7,0,0,1,360.7,812.9)" font-size="11.6" font-weight="normal" text-anchor="start" fill="#000" style="font-family:'Liberation Sans',sans-serif">10</text><text transform="matrix(1.7,0,0,1,381.2,802.9)" font-size="11.6" font-weight="normal" text-anchor="start" fill="#000" style="font-family:'Liberation Sans',sans-serif">4</text><text transform="matrix(1.7,0,0,1,425.0,1150.6)" font-size="11.6" font-weight="normal" text-anchor="start" fill="#000" style="font-family:'Liberation Sans',sans-serif">10</text><text transform="matrix(1.7,0,0,1,446.2,1140.3)" font-size="11.6" font-weight="normal" text-anchor="start" fill="#000" style="font-family:'Liberation Sans',sans-serif">0</text><text transform="matrix(1.7,0,0,1,527.6,1150.6)" font-size="11.6" font-weight="normal" text-anchor="start" fill="#000" style="font-family:'Liberation Sans',sans-serif">10</text><text transform="matrix(1.7,0,0,1,548.8000000000001,1140.3)" font-size="11.6" font-weight="normal" text-anchor="start" fill="#000" style="font-family:'Liberation Sans',sans-serif">1</text><text transform="matrix(1.7,0,0,1,647.0,1150.6)" font-size="11.6" font-weight="normal" text-anchor="start" fill="#000" style="font-family:'Liberation Sans',sans-serif">10</text><text transform="matrix(1.7,0,0,1,668.2,1140.3)" font-size="11.6" font-weight="normal" text-anchor="start" fill="#000" style="font-family:'Liberation Sans',sans-serif">2</text><text transform="matrix(1.7,0,0,1,766.4000000000001,1150.6)" font-size="11.6" font-weight="normal" text-anchor="start" fill="#000" style="font-family:'Liberation Sans',sans-serif">10</text><text transform="matrix(1.7,0,0,1,787.6000000000001,1140.3)" font-size="11.6" font-weight="normal" text-anchor="start" fill="#000" style="font-family:'Liberation Sans',sans-serif">3</text><text transform="matrix(1.7,0,0,1,863.1,1150.6)" font-size="11.6" font-weight="normal" text-anchor="start" fill="#000" style="font-family:'Liberation Sans',sans-serif">10</text><text transform="matrix(1.7,0,0,1,884.3000000000001,1140.3)" font-size="11.6" font-weight="normal" text-anchor="start" fill="#000" style="font-family:'Liberation Sans',sans-serif">4</text><path d="M642.2,1113.5 L642.2,872 C642.5,850 648,815 659.4,789" fill="none" stroke="#000" stroke-width="3"/><path d="M415.5,914 L685,914 C760,910 840,900 896,891.5" fill="none" stroke="#000" stroke-width="2.6"/><rect x="698.7" y="805.3" width="80.59999999999991" height="41.60000000000002" fill="#FFFF00" /><text x="739.0" y="838.9" font-size="36" font-weight="bold" text-anchor="middle" fill="#FF0000" style="font-family:'Liberation Serif',serif" >Dead</text><rect x="460" y="970" width="65.5" height="41.299999999999955" fill="#FFFF00" /><text x="492.75" y="1003.3" font-size="36" font-weight="bold" text-anchor="middle" fill="#FF0000" style="font-family:'Liberation Serif',serif" >Live</text><rect x="666.8" y="1053.6" width="142.80000000000007" height="40.5" fill="#FFFF00" /><text x="738.2" y="1086.1" font-size="36" font-weight="bold" text-anchor="middle" fill="#FF0000" style="font-family:'Liberation Serif',serif" >apoptotic</text><text x="425.2" y="815.6" font-size="16" textLength="25.399999999999967" lengthAdjust="spacingAndGlyphs" fill="#111" style="font-family:'Liberation Sans',sans-serif">Q1</text><text x="425.2" y="835.7" font-size="16" textLength="43.499999999999986" lengthAdjust="spacingAndGlyphs" fill="#111" style="font-family:'Liberation Sans',sans-serif">1.82</text><text x="827.0" y="815.6" font-size="16" textLength="28.499999999999932" lengthAdjust="spacingAndGlyphs" fill="#111" style="font-family:'Liberation Sans',sans-serif">Q2</text><text x="812.4" y="835.8" font-size="16" textLength="43.09999999999995" lengthAdjust="spacingAndGlyphs" fill="#111" style="font-family:'Liberation Sans',sans-serif">19.9</text><text x="425.29999999999995" y="1077.1" font-size="16" textLength="27.3" lengthAdjust="spacingAndGlyphs" fill="#111" style="font-family:'Liberation Sans',sans-serif">Q4</text><text x="424.79999999999995" y="1097.6" font-size="16" textLength="42.8" lengthAdjust="spacingAndGlyphs" fill="#111" style="font-family:'Liberation Sans',sans-serif">57.4</text><text x="827.0" y="1076.8" font-size="16" textLength="28.599999999999955" lengthAdjust="spacingAndGlyphs" fill="#111" style="font-family:'Liberation Sans',sans-serif">Q3</text><text x="812.1" y="1097.6" font-size="16" textLength="43.49999999999993" lengthAdjust="spacingAndGlyphs" fill="#111" style="font-family:'Liberation Sans',sans-serif">21.2</text><line x1="980" y1="784" x2="1459.0" y2="784" stroke="#000" stroke-width="1.3"/><line x1="1458.5" y1="784" x2="1458.5" y2="1115.2" stroke="#000" stroke-width="1.3"/><line x1="980" y1="783.5" x2="980" y2="1116.2" stroke="#000" stroke-width="2"/><line x1="979" y1="1115.2" x2="1458.5" y2="1115.2" stroke="#000" stroke-width="2"/><line x1="966" y1="1114.3" x2="980" y2="1114.3" stroke="#000" stroke-width="2.2"/><line x1="973.5" y1="1089.434922358155" x2="980" y2="1089.434922358155" stroke="#000" stroke-width="1.3"/><line x1="973.5" y1="1074.8897843601558" x2="980" y2="1074.8897843601558" stroke="#000" stroke-width="1.3"/><line x1="973.5" y1="1064.5698447163102" x2="980" y2="1064.5698447163102" stroke="#000" stroke-width="1.3"/><line x1="970" y1="1056.5650776418447" x2="980" y2="1056.5650776418447" stroke="#000" stroke-width="1.3"/><line x1="973.5" y1="1050.0247067183109" x2="980" y2="1050.0247067183109" stroke="#000" stroke-width="1.3"/><line x1="973.5" y1="1044.4949018948223" x2="980" y2="1044.4949018948223" stroke="#000" stroke-width="1.3"/><line x1="973.5" y1="1039.7047670744655" x2="980" y2="1039.7047670744655" stroke="#000" stroke-width="1.3"/><line x1="973.5" y1="1035.4795687203118" x2="980" y2="1035.4795687203118" stroke="#000" stroke-width="1.3"/><line x1="966" y1="1031.7" x2="980" y2="1031.7" stroke="#000" stroke-width="2.2"/><line x1="973.5" y1="1006.8349223581552" x2="980" y2="1006.8349223581552" stroke="#000" stroke-width="1.3"/><line x1="973.5" y1="992.289784360156" x2="980" y2="992.289784360156" stroke="#000" stroke-width="1.3"/><line x1="973.5" y1="981.9698447163104" x2="980" y2="981.9698447163104" stroke="#000" stroke-width="1.3"/><line x1="970" y1="973.9650776418449" x2="980" y2="973.9650776418449" stroke="#000" stroke-width="1.3"/><line x1="973.5" y1="967.4247067183111" x2="980" y2="967.4247067183111" stroke="#000" stroke-width="1.3"/><line x1="973.5" y1="961.8949018948224" x2="980" y2="961.8949018948224" stroke="#000" stroke-width="1.3"/><line x1="973.5" y1="957.1047670744655" x2="980" y2="957.1047670744655" stroke="#000" stroke-width="1.3"/><line x1="973.5" y1="952.8795687203118" x2="980" y2="952.8795687203118" stroke="#000" stroke-width="1.3"/><line x1="966" y1="949.0999999999999" x2="980" y2="949.0999999999999" stroke="#000" stroke-width="2.2"/><line x1="973.5" y1="924.234922358155" x2="980" y2="924.234922358155" stroke="#000" stroke-width="1.3"/><line x1="973.5" y1="909.6897843601558" x2="980" y2="909.6897843601558" stroke="#000" stroke-width="1.3"/><line x1="973.5" y1="899.3698447163102" x2="980" y2="899.3698447163102" stroke="#000" stroke-width="1.3"/><line x1="970" y1="891.3650776418448" x2="980" y2="891.3650776418448" stroke="#000" stroke-width="1.3"/><line x1="973.5" y1="884.824706718311" x2="980" y2="884.824706718311" stroke="#000" stroke-width="1.3"/><line x1="973.5" y1="879.2949018948223" x2="980" y2="879.2949018948223" stroke="#000" stroke-width="1.3"/><line x1="973.5" y1="874.5047670744653" x2="980" y2="874.5047670744653" stroke="#000" stroke-width="1.3"/><line x1="973.5" y1="870.2795687203117" x2="980" y2="870.2795687203117" stroke="#000" stroke-width="1.3"/><line x1="966" y1="866.5" x2="980" y2="866.5" stroke="#000" stroke-width="2.2"/><line x1="973.5" y1="841.6349223581551" x2="980" y2="841.6349223581551" stroke="#000" stroke-width="1.3"/><line x1="973.5" y1="827.0897843601559" x2="980" y2="827.0897843601559" stroke="#000" stroke-width="1.3"/><line x1="973.5" y1="816.7698447163103" x2="980" y2="816.7698447163103" stroke="#000" stroke-width="1.3"/><line x1="970" y1="808.7650776418449" x2="980" y2="808.7650776418449" stroke="#000" stroke-width="1.3"/><line x1="973.5" y1="802.224706718311" x2="980" y2="802.224706718311" stroke="#000" stroke-width="1.3"/><line x1="973.5" y1="796.6949018948224" x2="980" y2="796.6949018948224" stroke="#000" stroke-width="1.3"/><line x1="973.5" y1="791.9047670744654" x2="980" y2="791.9047670744654" stroke="#000" stroke-width="1.3"/><line x1="973.5" y1="787.6795687203117" x2="980" y2="787.6795687203117" stroke="#000" stroke-width="1.3"/><line x1="966" y1="783.9" x2="980" y2="783.9" stroke="#000" stroke-width="2.2"/><line x1="980.0" y1="1115.2" x2="980.0" y2="1124.2" stroke="#000" stroke-width="3"/><line x1="1015.762363484881" y1="1115.2" x2="1015.762363484881" y2="1120.2" stroke="#000" stroke-width="1.5"/><line x1="1036.682005060696" y1="1115.2" x2="1036.682005060696" y2="1120.2" stroke="#000" stroke-width="1.5"/><line x1="1051.524726969762" y1="1115.2" x2="1051.524726969762" y2="1120.2" stroke="#000" stroke-width="1.5"/><line x1="1063.037636515119" y1="1115.2" x2="1063.037636515119" y2="1120.2" stroke="#000" stroke-width="1.5"/><line x1="1072.444368545577" y1="1115.2" x2="1072.444368545577" y2="1120.2" stroke="#000" stroke-width="1.5"/><line x1="1080.3976471536937" y1="1115.2" x2="1080.3976471536937" y2="1120.2" stroke="#000" stroke-width="1.5"/><line x1="1087.2870904546428" y1="1115.2" x2="1087.2870904546428" y2="1120.2" stroke="#000" stroke-width="1.5"/><line x1="1093.3640101213919" y1="1115.2" x2="1093.3640101213919" y2="1120.2" stroke="#000" stroke-width="1.5"/><line x1="1098.8" y1="1115.2" x2="1098.8" y2="1124.2" stroke="#000" stroke-width="3"/><line x1="1134.562363484881" y1="1115.2" x2="1134.562363484881" y2="1120.2" stroke="#000" stroke-width="1.5"/><line x1="1155.4820050606959" y1="1115.2" x2="1155.4820050606959" y2="1120.2" stroke="#000" stroke-width="1.5"/><line x1="1170.324726969762" y1="1115.2" x2="1170.324726969762" y2="1120.2" stroke="#000" stroke-width="1.5"/><line x1="1181.837636515119" y1="1115.2" x2="1181.837636515119" y2="1120.2" stroke="#000" stroke-width="1.5"/><line x1="1191.244368545577" y1="1115.2" x2="1191.244368545577" y2="1120.2" stroke="#000" stroke-width="1.5"/><line x1="1199.1976471536937" y1="1115.2" x2="1199.1976471536937" y2="1120.2" stroke="#000" stroke-width="1.5"/><line x1="1206.0870904546427" y1="1115.2" x2="1206.0870904546427" y2="1120.2" stroke="#000" stroke-width="1.5"/><line x1="1212.1640101213918" y1="1115.2" x2="1212.1640101213918" y2="1120.2" stroke="#000" stroke-width="1.5"/><line x1="1217.6" y1="1115.2" x2="1217.6" y2="1124.2" stroke="#000" stroke-width="3"/><line x1="1253.362363484881" y1="1115.2" x2="1253.362363484881" y2="1120.2" stroke="#000" stroke-width="1.5"/><line x1="1274.2820050606958" y1="1115.2" x2="1274.2820050606958" y2="1120.2" stroke="#000" stroke-width="1.5"/><line x1="1289.124726969762" y1="1115.2" x2="1289.124726969762" y2="1120.2" stroke="#000" stroke-width="1.5"/><line x1="1300.6376365151189" y1="1115.2" x2="1300.6376365151189" y2="1120.2" stroke="#000" stroke-width="1.5"/><line x1="1310.0443685455768" y1="1115.2" x2="1310.0443685455768" y2="1120.2" stroke="#000" stroke-width="1.5"/><line x1="1317.9976471536936" y1="1115.2" x2="1317.9976471536936" y2="1120.2" stroke="#000" stroke-width="1.5"/><line x1="1324.8870904546427" y1="1115.2" x2="1324.8870904546427" y2="1120.2" stroke="#000" stroke-width="1.5"/><line x1="1330.9640101213918" y1="1115.2" x2="1330.9640101213918" y2="1120.2" stroke="#000" stroke-width="1.5"/><line x1="1336.4" y1="1115.2" x2="1336.4" y2="1124.2" stroke="#000" stroke-width="3"/><line x1="1372.162363484881" y1="1115.2" x2="1372.162363484881" y2="1120.2" stroke="#000" stroke-width="1.5"/><line x1="1393.082005060696" y1="1115.2" x2="1393.082005060696" y2="1120.2" stroke="#000" stroke-width="1.5"/><line x1="1407.924726969762" y1="1115.2" x2="1407.924726969762" y2="1120.2" stroke="#000" stroke-width="1.5"/><line x1="1419.437636515119" y1="1115.2" x2="1419.437636515119" y2="1120.2" stroke="#000" stroke-width="1.5"/><line x1="1428.844368545577" y1="1115.2" x2="1428.844368545577" y2="1120.2" stroke="#000" stroke-width="1.5"/><line x1="1436.7976471536938" y1="1115.2" x2="1436.7976471536938" y2="1120.2" stroke="#000" stroke-width="1.5"/><line x1="1443.6870904546429" y1="1115.2" x2="1443.6870904546429" y2="1120.2" stroke="#000" stroke-width="1.5"/><line x1="1449.764010121392" y1="1115.2" x2="1449.764010121392" y2="1120.2" stroke="#000" stroke-width="1.5"/><line x1="1455.2" y1="1115.2" x2="1455.2" y2="1124.2" stroke="#000" stroke-width="3"/><text transform="matrix(1.7,0,0,1,925.2,1114.1)" font-size="11.6" font-weight="normal" text-anchor="start" fill="#000" style="font-family:'Liberation Sans',sans-serif">10</text><text transform="matrix(1.7,0,0,1,945.7,1104.1)" font-size="11.6" font-weight="normal" text-anchor="start" fill="#000" style="font-family:'Liberation Sans',sans-serif">0</text><text transform="matrix(1.7,0,0,1,925.2,1040.5)" font-size="11.6" font-weight="normal" text-anchor="start" fill="#000" style="font-family:'Liberation Sans',sans-serif">10</text><text transform="matrix(1.7,0,0,1,945.7,1030.5)" font-size="11.6" font-weight="normal" text-anchor="start" fill="#000" style="font-family:'Liberation Sans',sans-serif">1</text><text transform="matrix(1.7,0,0,1,925.2,957.8999999999999)" font-size="11.6" font-weight="normal" text-anchor="start" fill="#000" style="font-family:'Liberation Sans',sans-serif">10</text><text transform="matrix(1.7,0,0,1,945.7,947.8999999999999)" font-size="11.6" font-weight="normal" text-anchor="start" fill="#000" style="font-family:'Liberation Sans',sans-serif">2</text><text transform="matrix(1.7,0,0,1,925.2,875.3)" font-size="11.6" font-weight="normal" text-anchor="start" fill="#000" style="font-family:'Liberation Sans',sans-serif">10</text><text transform="matrix(1.7,0,0,1,945.7,865.3)" font-size="11.6" font-weight="normal" text-anchor="start" fill="#000" style="font-family:'Liberation Sans',sans-serif">3</text><text transform="matrix(1.7,0,0,1,925.2,806.9)" font-size="11.6" font-weight="normal" text-anchor="start" fill="#000" style="font-family:'Liberation Sans',sans-serif">10</text><text transform="matrix(1.7,0,0,1,945.7,796.9)" font-size="11.6" font-weight="normal" text-anchor="start" fill="#000" style="font-family:'Liberation Sans',sans-serif">4</text><text transform="matrix(1.7,0,0,1,989.5,1152.3)" font-size="11.6" font-weight="normal" text-anchor="start" fill="#000" style="font-family:'Liberation Sans',sans-serif">10</text><text transform="matrix(1.7,0,0,1,1010.7,1142.0)" font-size="11.6" font-weight="normal" text-anchor="start" fill="#000" style="font-family:'Liberation Sans',sans-serif">0</text><text transform="matrix(1.7,0,0,1,1091.5,1152.3)" font-size="11.6" font-weight="normal" text-anchor="start" fill="#000" style="font-family:'Liberation Sans',sans-serif">10</text><text transform="matrix(1.7,0,0,1,1112.7,1142.0)" font-size="11.6" font-weight="normal" text-anchor="start" fill="#000" style="font-family:'Liberation Sans',sans-serif">1</text><text transform="matrix(1.7,0,0,1,1210.3,1152.3)" font-size="11.6" font-weight="normal" text-anchor="start" fill="#000" style="font-family:'Liberation Sans',sans-serif">10</text><text transform="matrix(1.7,0,0,1,1231.5,1142.0)" font-size="11.6" font-weight="normal" text-anchor="start" fill="#000" style="font-family:'Liberation Sans',sans-serif">2</text><text transform="matrix(1.7,0,0,1,1329.1000000000001,1152.3)" font-size="11.6" font-weight="normal" text-anchor="start" fill="#000" style="font-family:'Liberation Sans',sans-serif">10</text><text transform="matrix(1.7,0,0,1,1350.3000000000002,1142.0)" font-size="11.6" font-weight="normal" text-anchor="start" fill="#000" style="font-family:'Liberation Sans',sans-serif">3</text><text transform="matrix(1.7,0,0,1,1425.2,1152.3)" font-size="11.6" font-weight="normal" text-anchor="start" fill="#000" style="font-family:'Liberation Sans',sans-serif">10</text><text transform="matrix(1.7,0,0,1,1446.4,1142.0)" font-size="11.6" font-weight="normal" text-anchor="start" fill="#000" style="font-family:'Liberation Sans',sans-serif">4</text><path d="M1204.5,1115.2 L1204.5,855 C1205,835 1212,805 1221.7,784" fill="none" stroke="#000" stroke-width="3"/><path d="M980,911 L1248,911 C1320,906 1400,896 1458.5,887.4" fill="none" stroke="#000" stroke-width="2.6"/><rect x="1232.4" y="788.4" width="80.59999999999991" height="40.80000000000007" fill="#FFFF00" /><text x="1272.7" y="821.2" font-size="36" font-weight="bold" text-anchor="middle" fill="#FF0000" style="font-family:'Liberation Serif',serif" >Dead</text><rect x="1008.9" y="925.5" width="66.10000000000002" height="41.0" fill="#FFFF00" /><text x="1041.95" y="958.5" font-size="36" font-weight="bold" text-anchor="middle" fill="#FF0000" style="font-family:'Liberation Serif',serif" >Live</text><rect x="1225.9" y="1053.7" width="142.69999999999982" height="41.799999999999955" fill="#FFFF00" /><text x="1297.25" y="1087.5" font-size="36" font-weight="bold" text-anchor="middle" fill="#FF0000" style="font-family:'Liberation Serif',serif" >apoptotic</text><text x="989.4" y="810.1" font-size="16" textLength="26.599999999999955" lengthAdjust="spacingAndGlyphs" fill="#111" style="font-family:'Liberation Sans',sans-serif">Q1</text><text x="989.4" y="831.6" font-size="16" textLength="43.8" lengthAdjust="spacingAndGlyphs" fill="#111" style="font-family:'Liberation Sans',sans-serif">0.44</text><text x="1389.0" y="810.4" font-size="16" textLength="29.000000000000046" lengthAdjust="spacingAndGlyphs" fill="#111" style="font-family:'Liberation Sans',sans-serif">Q2</text><text x="1374.4" y="831.1" font-size="16" textLength="40.70000000000009" lengthAdjust="spacingAndGlyphs" fill="#111" style="font-family:'Liberation Sans',sans-serif">16.1</text><text x="989.0" y="1077.4" font-size="16" textLength="27.900000000000023" lengthAdjust="spacingAndGlyphs" fill="#111" style="font-family:'Liberation Sans',sans-serif">Q4</text><text x="988.6999999999999" y="1098.2" font-size="16" textLength="43.900000000000134" lengthAdjust="spacingAndGlyphs" fill="#111" style="font-family:'Liberation Sans',sans-serif">66.8</text><text x="1389.4" y="1077.7" font-size="16" textLength="28.000000000000046" lengthAdjust="spacingAndGlyphs" fill="#111" style="font-family:'Liberation Sans',sans-serif">Q3</text><text x="1374.2" y="1098.3" font-size="16" textLength="43.20000000000009" lengthAdjust="spacingAndGlyphs" fill="#111" style="font-family:'Liberation Sans',sans-serif">16.6</text></svg></body></html>
